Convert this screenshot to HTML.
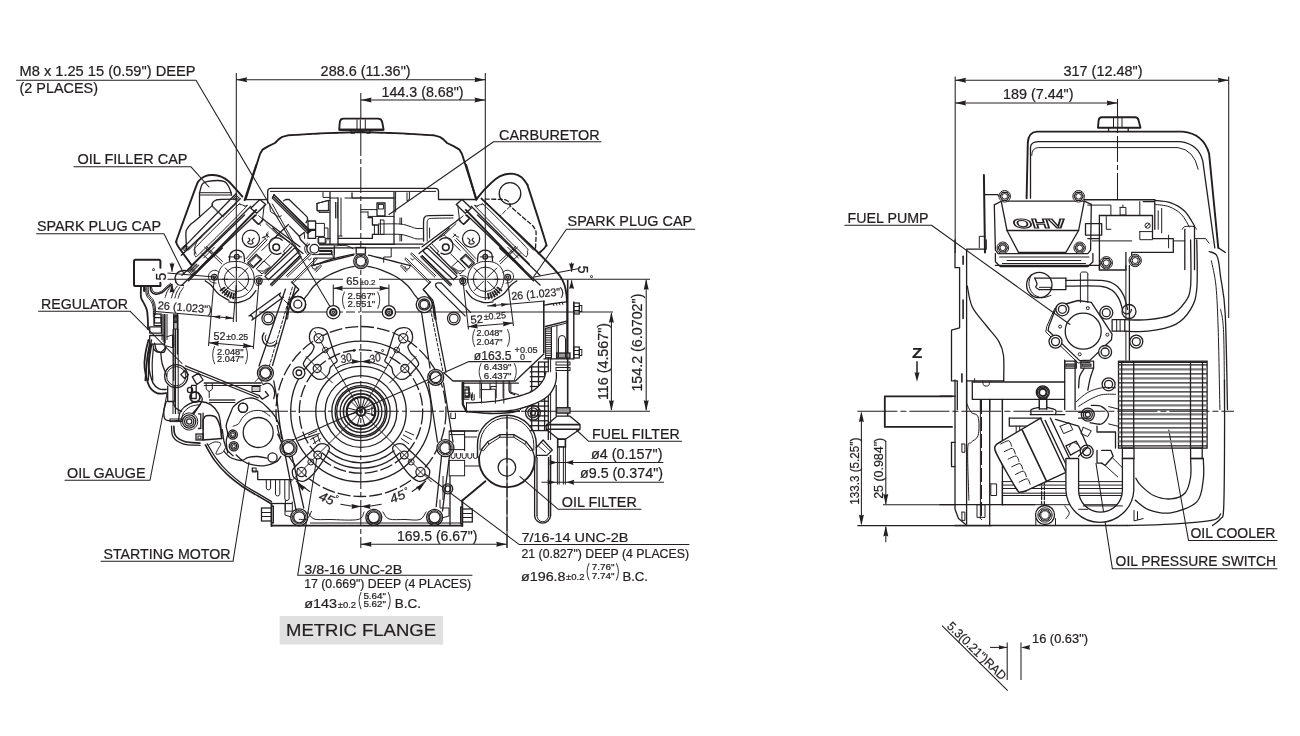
<!DOCTYPE html>
<html><head><meta charset="utf-8"><title>Engine dimensions</title>
<style>
html,body{margin:0;padding:0;background:#fff;}
body{width:1300px;height:736px;overflow:hidden;font-family:"Liberation Sans",sans-serif;}
svg{display:block;font-family:"Liberation Sans",sans-serif;opacity:0.999;will-change:transform;}
</style></head><body>
<svg width="1300" height="736" viewBox="0 0 1300 736">
<rect width="1300" height="736" fill="#fff"/>
<text x="19.5" y="76.0" font-size="13.9" textLength="176.0" lengthAdjust="spacingAndGlyphs" fill="#231f20" stroke="#231f20" stroke-width="0.22">M8 x 1.25 15 (0.59") DEEP</text>
<text x="19.5" y="93.0" font-size="13.9" textLength="78.5" lengthAdjust="spacingAndGlyphs" fill="#231f20" stroke="#231f20" stroke-width="0.22">(2 PLACES)</text>
<polyline points="16.5,80.3 196.0,80.3 332.0,310.0" fill="none" stroke="#231f20" stroke-width="1.05" stroke-linejoin="round" stroke-linecap="round"/>
<text x="77.5" y="164.3" font-size="13.9" textLength="110.0" lengthAdjust="spacingAndGlyphs" fill="#231f20" stroke="#231f20" stroke-width="0.22">OIL FILLER CAP</text>
<polyline points="74.0,166.8 191.0,166.8 209.0,187.0" fill="none" stroke="#231f20" stroke-width="1.05" stroke-linejoin="round" stroke-linecap="round"/>
<text x="37.0" y="231.2" font-size="13.9" textLength="124.0" lengthAdjust="spacingAndGlyphs" fill="#231f20" stroke="#231f20" stroke-width="0.22">SPARK PLUG CAP</text>
<polyline points="36.6,233.8 164.0,233.8 184.0,274.0" fill="none" stroke="#231f20" stroke-width="1.05" stroke-linejoin="round" stroke-linecap="round"/>
<text x="41.0" y="309.2" font-size="13.9" textLength="87.0" lengthAdjust="spacingAndGlyphs" fill="#231f20" stroke="#231f20" stroke-width="0.22">REGULATOR</text>
<polyline points="38.6,311.2 130.0,311.2 182.0,363.5" fill="none" stroke="#231f20" stroke-width="1.05" stroke-linejoin="round" stroke-linecap="round"/>
<text x="67.0" y="477.5" font-size="13.9" textLength="78.5" lengthAdjust="spacingAndGlyphs" fill="#231f20" stroke="#231f20" stroke-width="0.22">OIL GAUGE</text>
<polyline points="65.0,480.2 150.0,480.2 167.3,392.0" fill="none" stroke="#231f20" stroke-width="1.05" stroke-linejoin="round" stroke-linecap="round"/>
<text x="103.5" y="558.5" font-size="13.9" textLength="127.0" lengthAdjust="spacingAndGlyphs" fill="#231f20" stroke="#231f20" stroke-width="0.22">STARTING MOTOR</text>
<polyline points="101.0,561.3 233.0,561.3 249.0,462.0" fill="none" stroke="#231f20" stroke-width="1.05" stroke-linejoin="round" stroke-linecap="round"/>
<text x="499.0" y="140.0" font-size="13.9" textLength="100.6" lengthAdjust="spacingAndGlyphs" fill="#231f20" stroke="#231f20" stroke-width="0.22">CARBURETOR</text>
<polyline points="601.0,141.8 493.6,141.8 389.0,214.5" fill="none" stroke="#231f20" stroke-width="1.05" stroke-linejoin="round" stroke-linecap="round"/>
<text x="567.6" y="226.2" font-size="13.9" textLength="124.5" lengthAdjust="spacingAndGlyphs" fill="#231f20" stroke="#231f20" stroke-width="0.22">SPARK PLUG CAP</text>
<polyline points="694.7,229.3 566.4,229.3 533.8,276.5" fill="none" stroke="#231f20" stroke-width="1.05" stroke-linejoin="round" stroke-linecap="round"/>
<text x="592.0" y="439.3" font-size="13.9" textLength="87.7" lengthAdjust="spacingAndGlyphs" fill="#231f20" stroke="#231f20" stroke-width="0.22">FUEL FILTER</text>
<polyline points="681.6,441.3 588.7,441.3 576.5,430.0" fill="none" stroke="#231f20" stroke-width="1.05" stroke-linejoin="round" stroke-linecap="round"/>
<text x="591.0" y="458.7" font-size="13.9" textLength="71.5" lengthAdjust="spacingAndGlyphs" fill="#231f20" stroke="#231f20" stroke-width="0.22">ø4 (0.157")</text>
<line x1="549.6" y1="462.4" x2="663.3" y2="462.4" stroke="#231f20" stroke-width="1.05" />
<text x="580.0" y="477.8" font-size="13.9" textLength="83.0" lengthAdjust="spacingAndGlyphs" fill="#231f20" stroke="#231f20" stroke-width="0.22">ø9.5 (0.374")</text>
<line x1="541.5" y1="482.2" x2="664.0" y2="482.2" stroke="#231f20" stroke-width="1.05" />
<text x="561.8" y="507.0" font-size="13.9" textLength="75.0" lengthAdjust="spacingAndGlyphs" fill="#231f20" stroke="#231f20" stroke-width="0.22">OIL FILTER</text>
<polyline points="641.0,509.2 558.0,509.2 520.0,476.6" fill="none" stroke="#231f20" stroke-width="1.05" stroke-linejoin="round" stroke-linecap="round"/>
<text x="521.5" y="542.4" font-size="13.4" textLength="107.0" lengthAdjust="spacingAndGlyphs" fill="#231f20" stroke="#231f20" stroke-width="0.22">7/16-14 UNC-2B</text>
<polyline points="689.0,544.4 519.0,544.4 421.0,471.0" fill="none" stroke="#231f20" stroke-width="1.05" stroke-linejoin="round" stroke-linecap="round"/>
<text x="521.5" y="557.8" font-size="12.8" textLength="167.5" lengthAdjust="spacingAndGlyphs" fill="#231f20" stroke="#231f20" stroke-width="0.22">21 (0.827") DEEP (4 PLACES)</text>
<text x="304.2" y="573.6" font-size="13.4" textLength="98.2" lengthAdjust="spacingAndGlyphs" fill="#231f20" stroke="#231f20" stroke-width="0.22">3/8-16 UNC-2B</text>
<polyline points="472.0,575.2 297.7,575.2 317.0,457.0" fill="none" stroke="#231f20" stroke-width="1.05" stroke-linejoin="round" stroke-linecap="round"/>
<text x="304.2" y="588.4" font-size="12.8" textLength="167.0" lengthAdjust="spacingAndGlyphs" fill="#231f20" stroke="#231f20" stroke-width="0.22">17 (0.669") DEEP (4 PLACES)</text>
<text x="521.0" y="580.5" font-size="13.6" textLength="44.5" lengthAdjust="spacingAndGlyphs" fill="#231f20" stroke="#231f20" stroke-width="0.22">ø196.8</text>
<text x="566.0" y="580.2" font-size="8.4" textLength="18.5" lengthAdjust="spacingAndGlyphs" fill="#231f20" stroke="#231f20" stroke-width="0.22">±0.2</text>
<text x="591.7" y="570.2" font-size="8.2" textLength="22.7" lengthAdjust="spacingAndGlyphs" fill="#231f20" stroke="#231f20" stroke-width="0.22">7.76"</text>
<text x="591.7" y="578.6" font-size="8.2" textLength="22.7" lengthAdjust="spacingAndGlyphs" fill="#231f20" stroke="#231f20" stroke-width="0.22">7.74"</text>
<path d="M589,563.5 Q585,571.5 589,580" fill="none" stroke="#231f20" stroke-width="0.9" stroke-linejoin="round" stroke-linecap="round" />
<path d="M616.5,563.5 Q620.5,571.5 616.5,580" fill="none" stroke="#231f20" stroke-width="0.9" stroke-linejoin="round" stroke-linecap="round" />
<text x="622.4" y="580.5" font-size="13.6" textLength="25.6" lengthAdjust="spacingAndGlyphs" fill="#231f20" stroke="#231f20" stroke-width="0.22">B.C.</text>
<text x="304.2" y="608.4" font-size="13.6" textLength="32.8" lengthAdjust="spacingAndGlyphs" fill="#231f20" stroke="#231f20" stroke-width="0.22">ø143</text>
<text x="337.8" y="607.6" font-size="8.4" textLength="18.2" lengthAdjust="spacingAndGlyphs" fill="#231f20" stroke="#231f20" stroke-width="0.22">±0.2</text>
<text x="363.4" y="599.3" font-size="8.2" textLength="22.5" lengthAdjust="spacingAndGlyphs" fill="#231f20" stroke="#231f20" stroke-width="0.22">5.64"</text>
<text x="363.4" y="607.3" font-size="8.2" textLength="22.5" lengthAdjust="spacingAndGlyphs" fill="#231f20" stroke="#231f20" stroke-width="0.22">5.62"</text>
<path d="M361,592.3 Q357,600.5 361,609" fill="none" stroke="#231f20" stroke-width="0.9" stroke-linejoin="round" stroke-linecap="round" />
<path d="M388.3,592.3 Q392.3,600.5 388.3,609" fill="none" stroke="#231f20" stroke-width="0.9" stroke-linejoin="round" stroke-linecap="round" />
<text x="394.7" y="608.4" font-size="13.6" textLength="26.2" lengthAdjust="spacingAndGlyphs" fill="#231f20" stroke="#231f20" stroke-width="0.22">B.C.</text>
<rect x="279.6" y="616.0" width="163.5" height="28.5" rx="0" fill="#e0e0e0" stroke="none" stroke-width="0" />
<text x="286.0" y="636.2" font-size="17.2" textLength="150.0" lengthAdjust="spacingAndGlyphs" fill="#231f20" stroke="#231f20" stroke-width="0.22">METRIC FLANGE</text>
<line x1="236.3" y1="73.0" x2="236.3" y2="322.0" stroke="#231f20" stroke-width="1.05" />
<line x1="485.3" y1="73.0" x2="485.3" y2="300.0" stroke="#231f20" stroke-width="1.05" />
<line x1="236.3" y1="79.7" x2="485.3" y2="79.7" stroke="#231f20" stroke-width="1.05" />
<polygon points="236.3,79.7 247.1,77.2 246.3,79.7 247.1,82.2" fill="#231f20"/>
<polygon points="485.3,79.7 474.5,82.2 475.3,79.7 474.5,77.2" fill="#231f20"/>
<text x="320.6" y="75.9" font-size="13.9" textLength="90.0" lengthAdjust="spacingAndGlyphs" fill="#231f20" stroke="#231f20" stroke-width="0.22">288.6 (11.36")</text>
<line x1="360.8" y1="99.9" x2="485.3" y2="99.9" stroke="#231f20" stroke-width="1.05" />
<polygon points="360.8,99.9 371.6,97.4 370.8,99.9 371.6,102.4" fill="#231f20"/>
<polygon points="485.3,99.9 474.5,102.4 475.3,99.9 474.5,97.4" fill="#231f20"/>
<text x="381.5" y="97.0" font-size="13.9" textLength="82.0" lengthAdjust="spacingAndGlyphs" fill="#231f20" stroke="#231f20" stroke-width="0.22">144.3 (8.68")</text>
<line x1="360.8" y1="93.0" x2="360.8" y2="548.0" stroke="#231f20" stroke-width="1.05" stroke-dasharray="26 3 5 3" />
<line x1="507.0" y1="415.0" x2="507.0" y2="548.0" stroke="#231f20" stroke-width="1.05" />
<line x1="360.8" y1="544.3" x2="507.0" y2="544.3" stroke="#231f20" stroke-width="1.05" />
<polygon points="360.8,544.3 371.6,541.8 370.8,544.3 371.6,546.8" fill="#231f20"/>
<polygon points="507.0,544.3 496.2,546.8 497.0,544.3 496.2,541.8" fill="#231f20"/>
<text x="397.0" y="540.6" font-size="13.9" textLength="80.5" lengthAdjust="spacingAndGlyphs" fill="#231f20" stroke="#231f20" stroke-width="0.22">169.5 (6.67")</text>
<line x1="333.3" y1="284.5" x2="333.3" y2="318.0" stroke="#231f20" stroke-width="1.05" />
<line x1="388.9" y1="284.5" x2="388.9" y2="318.0" stroke="#231f20" stroke-width="1.05" />
<line x1="333.3" y1="288.2" x2="388.9" y2="288.2" stroke="#231f20" stroke-width="1.05" />
<polygon points="333.3,288.2 342.8,285.7 342.1,288.2 342.8,290.7" fill="#231f20"/>
<polygon points="388.9,288.2 379.4,290.7 380.1,288.2 379.4,285.7" fill="#231f20"/>
<text x="346.2" y="284.6" font-size="11" textLength="12.4" lengthAdjust="spacingAndGlyphs" fill="#231f20" stroke="#231f20" stroke-width="0.22">65</text>
<text x="360.0" y="284.6" font-size="7.2" textLength="15.4" lengthAdjust="spacingAndGlyphs" fill="#231f20" stroke="#231f20" stroke-width="0.22">±0.2</text>
<text x="347.6" y="298.7" font-size="8.6" textLength="27.6" lengthAdjust="spacingAndGlyphs" fill="#231f20" stroke="#231f20" stroke-width="0.22">2.567"</text>
<text x="347.6" y="307.4" font-size="8.6" textLength="27.6" lengthAdjust="spacingAndGlyphs" fill="#231f20" stroke="#231f20" stroke-width="0.22">2.551"</text>
<path d="M344.4,292 Q340.4,300 344.4,308.4" fill="none" stroke="#231f20" stroke-width="0.9" stroke-linejoin="round" stroke-linecap="round" />
<path d="M377.8,292 Q381.8,300 377.8,308.4" fill="none" stroke="#231f20" stroke-width="0.9" stroke-linejoin="round" stroke-linecap="round" />
<line x1="214.4" y1="276.7" x2="208.5" y2="346.0" stroke="#231f20" stroke-width="1.05" />
<line x1="259.0" y1="280.3" x2="253.3" y2="349.0" stroke="#231f20" stroke-width="1.05" />
<line x1="208.8" y1="342.7" x2="253.0" y2="346.4" stroke="#231f20" stroke-width="1.05" />
<polygon points="208.8,342.7 219.0,341.0 218.1,343.5 218.6,346.0" fill="#231f20"/>
<polygon points="253.0,346.4 242.8,348.1 243.7,345.6 243.2,343.1" fill="#231f20"/>
<text x="213.6" y="340.0" font-size="11.5" textLength="12.0" lengthAdjust="spacingAndGlyphs" fill="#231f20" stroke="#231f20" stroke-width="0.22">52</text>
<text x="226.2" y="340.0" font-size="9.3" textLength="22.0" lengthAdjust="spacingAndGlyphs" fill="#231f20" stroke="#231f20" stroke-width="0.22">±0.25</text>
<text x="217.0" y="354.6" font-size="8.6" textLength="26.6" lengthAdjust="spacingAndGlyphs" fill="#231f20" stroke="#231f20" stroke-width="0.22">2.048"</text>
<text x="217.0" y="362.4" font-size="8.6" textLength="26.6" lengthAdjust="spacingAndGlyphs" fill="#231f20" stroke="#231f20" stroke-width="0.22">2.047"</text>
<path d="M214.6,346.3 Q210.6,355 214.6,363.8" fill="none" stroke="#231f20" stroke-width="0.9" stroke-linejoin="round" stroke-linecap="round" />
<path d="M245.6,346.3 Q249.6,355 245.6,363.8" fill="none" stroke="#231f20" stroke-width="0.9" stroke-linejoin="round" stroke-linecap="round" />
<text x="157.5" y="309.0" font-size="11.2" textLength="54.0" lengthAdjust="spacingAndGlyphs" transform="rotate(4.8 157.5 309.0)" fill="#231f20" stroke="#231f20" stroke-width="0.22">26 (1.023")</text>
<line x1="155.7" y1="311.4" x2="233.3" y2="318.3" stroke="#231f20" stroke-width="1.05" />
<line x1="236.3" y1="285.0" x2="233.2" y2="322.0" stroke="#231f20" stroke-width="1.05" />
<polygon points="212.5,316.5 220.6,315.3 219.9,317.1 220.3,319.1" fill="#231f20"/>
<polygon points="233.3,318.3 225.2,319.5 225.9,317.7 225.5,315.7" fill="#231f20"/>
<line x1="167.5" y1="273.0" x2="214.3" y2="277.0" stroke="#231f20" stroke-width="1.05" />
<text x="166.0" y="280.5" font-size="13.9" transform="rotate(-90 166.0 280.5)" fill="#231f20" stroke="#231f20" stroke-width="0.22">5</text>
<text x="158.5" y="271.5" font-size="9" transform="rotate(-90 158.5 271.5)" fill="#231f20" stroke="#231f20" stroke-width="0.22">°</text>
<line x1="172.0" y1="262.5" x2="172.0" y2="271.8" stroke="#231f20" stroke-width="1.05" />
<polygon points="172.0,271.8 169.5,263.3 172.0,263.9 174.5,263.3" fill="#231f20"/>
<line x1="172.0" y1="284.0" x2="172.0" y2="290.0" stroke="#231f20" stroke-width="1.05" />
<polygon points="172.0,284.0 174.5,292.5 172.0,291.9 169.5,292.5" fill="#231f20"/>
<line x1="462.5" y1="276.7" x2="468.5" y2="329.5" stroke="#231f20" stroke-width="1.05" />
<line x1="507.5" y1="280.3" x2="513.5" y2="326.0" stroke="#231f20" stroke-width="1.05" />
<line x1="467.7" y1="326.8" x2="512.9" y2="323.1" stroke="#231f20" stroke-width="1.05" />
<polygon points="467.7,326.8 477.5,323.5 477.0,326.0 477.9,328.5" fill="#231f20"/>
<polygon points="512.9,323.1 503.1,326.4 503.6,323.9 502.7,321.4" fill="#231f20"/>
<text x="470.8" y="323.7" font-size="11.3" textLength="12.4" lengthAdjust="spacingAndGlyphs" transform="rotate(-4.7 470.8 323.7)" fill="#231f20" stroke="#231f20" stroke-width="0.22">52</text>
<text x="483.9" y="320.0" font-size="9" textLength="22.4" lengthAdjust="spacingAndGlyphs" transform="rotate(-4.7 483.9 320.0)" fill="#231f20" stroke="#231f20" stroke-width="0.22">±0.25</text>
<text x="476.6" y="336.0" font-size="8.6" textLength="26.0" lengthAdjust="spacingAndGlyphs" fill="#231f20" stroke="#231f20" stroke-width="0.22">2.048"</text>
<text x="476.6" y="345.0" font-size="8.6" textLength="26.0" lengthAdjust="spacingAndGlyphs" fill="#231f20" stroke="#231f20" stroke-width="0.22">2.047"</text>
<path d="M474.6,329.6 Q470.6,338 474.6,346.5" fill="none" stroke="#231f20" stroke-width="0.9" stroke-linejoin="round" stroke-linecap="round" />
<path d="M507.6,329.6 Q511.6,338 507.6,346.5" fill="none" stroke="#231f20" stroke-width="0.9" stroke-linejoin="round" stroke-linecap="round" />
<text x="511.7" y="300.0" font-size="11.2" textLength="52.5" lengthAdjust="spacingAndGlyphs" transform="rotate(-5.2 511.7 300.0)" fill="#231f20" stroke="#231f20" stroke-width="0.22">26 (1.023")</text>
<line x1="487.2" y1="306.0" x2="544.7" y2="301.0" stroke="#231f20" stroke-width="1.05" />
<polygon points="488.3,305.9 496.1,303.3 495.7,305.3 496.4,307.1" fill="#231f20"/>
<polygon points="509.0,304.1 501.2,306.7 501.6,304.7 500.9,302.9" fill="#231f20"/>
<text x="577.8" y="265.7" font-size="13.9" transform="rotate(90 577.8 265.7)" fill="#231f20" stroke="#231f20" stroke-width="0.22">5</text>
<text x="585.5" y="274.8" font-size="9" transform="rotate(90 585.5 274.8)" fill="#231f20" stroke="#231f20" stroke-width="0.22">°</text>
<line x1="571.6" y1="262.5" x2="571.6" y2="271.8" stroke="#231f20" stroke-width="1.05" />
<polygon points="571.6,271.8 569.1,263.3 571.6,263.9 574.1,263.3" fill="#231f20"/>
<line x1="571.6" y1="280.3" x2="571.6" y2="288.0" stroke="#231f20" stroke-width="1.05" />
<polygon points="571.6,280.3 574.1,288.8 571.6,288.2 569.1,288.8" fill="#231f20"/>
<line x1="533.0" y1="277.2" x2="578.0" y2="268.8" stroke="#231f20" stroke-width="1.05" />
<line x1="167.5" y1="279.2" x2="343.0" y2="279.2" stroke="#231f20" stroke-width="1.05" />
<line x1="379.0" y1="279.2" x2="650.0" y2="279.2" stroke="#231f20" stroke-width="1.05" />
<line x1="259.0" y1="312.0" x2="322.0" y2="312.0" stroke="#231f20" stroke-width="1.05" />
<line x1="322.0" y1="312.0" x2="360.0" y2="312.0" stroke="#231f20" stroke-width="1.05" stroke-dasharray="9 3" />
<line x1="362.0" y1="312.0" x2="613.0" y2="312.0" stroke="#231f20" stroke-width="1.05" />
<line x1="262.0" y1="411.3" x2="548.0" y2="411.3" stroke="#231f20" stroke-width="1.05" stroke-dasharray="26 3 5 3" />
<line x1="548.0" y1="411.3" x2="650.0" y2="411.3" stroke="#231f20" stroke-width="1.05" />
<line x1="611.4" y1="313.3" x2="611.4" y2="410.0" stroke="#231f20" stroke-width="1.05" />
<polygon points="611.4,312.0 613.9,322.8 611.4,322.0 608.9,322.8" fill="#231f20"/>
<polygon points="611.4,411.0 608.9,400.2 611.4,401.0 613.9,400.2" fill="#231f20"/>
<text x="608.3" y="400.0" font-size="13.9" textLength="77.0" lengthAdjust="spacingAndGlyphs" transform="rotate(-90 608.3 400.0)" fill="#231f20" stroke="#231f20" stroke-width="0.22">116 (4.567")</text>
<line x1="646.2" y1="280.3" x2="646.2" y2="410.0" stroke="#231f20" stroke-width="1.05" />
<polygon points="646.2,279.0 648.7,289.8 646.2,289.0 643.7,289.8" fill="#231f20"/>
<polygon points="646.2,411.0 643.7,400.2 646.2,401.0 648.7,400.2" fill="#231f20"/>
<text x="642.5" y="391.6" font-size="13.9" textLength="98.0" lengthAdjust="spacingAndGlyphs" transform="rotate(-90 642.5 391.6)" fill="#231f20" stroke="#231f20" stroke-width="0.22">154.2 (6.0702")</text>
<text x="473.8" y="359.6" font-size="13" textLength="37.7" lengthAdjust="spacingAndGlyphs" fill="#231f20" stroke="#231f20" stroke-width="0.22">ø163.5</text>
<text x="514.6" y="352.8" font-size="9" textLength="23.0" lengthAdjust="spacingAndGlyphs" fill="#231f20" stroke="#231f20" stroke-width="0.22">+0.05</text>
<text x="520.0" y="360.4" font-size="9" fill="#231f20" stroke="#231f20" stroke-width="0.22">0</text>
<polyline points="531.2,361.6 469.0,361.6 296.1,438.5" fill="none" stroke="#231f20" stroke-width="1.05" stroke-linejoin="round" stroke-linecap="round"/>
<polygon points="425.9,383.6 434.0,377.2 434.4,379.8 436.1,381.8" fill="#231f20"/>
<polygon points="296.1,438.5 288.0,444.9 287.6,442.3 285.9,440.3" fill="#231f20"/>
<text x="483.8" y="370.4" font-size="8.8" textLength="27.7" lengthAdjust="spacingAndGlyphs" fill="#231f20" stroke="#231f20" stroke-width="0.22">6.439"</text>
<text x="483.8" y="378.8" font-size="8.8" textLength="27.7" lengthAdjust="spacingAndGlyphs" fill="#231f20" stroke="#231f20" stroke-width="0.22">6.437"</text>
<path d="M481,363.5 Q477,371.5 481,379.8" fill="none" stroke="#231f20" stroke-width="0.9" stroke-linejoin="round" stroke-linecap="round" />
<path d="M514.4,363.5 Q518.4,371.5 514.4,379.8" fill="none" stroke="#231f20" stroke-width="0.9" stroke-linejoin="round" stroke-linecap="round" />
<path d="M336.0,368.2 A50,50 0 0 1 386.0,368.2" fill="none" stroke="#231f20" stroke-width="1.05" stroke-linejoin="round" stroke-linecap="round" />
<polygon points="361.0,361.5 351.5,364.0 352.2,361.5 351.5,359.0" fill="#231f20"/>
<polygon points="361.0,361.5 370.5,359.0 369.8,361.5 370.5,364.0" fill="#231f20"/>
<text x="341.5" y="363.5" font-size="11.5" textLength="11.5" lengthAdjust="spacingAndGlyphs" transform="rotate(-16 341.5 363.5)" style="font-style:italic" fill="#231f20" stroke="#231f20" stroke-width="0.22">30</text>
<text x="352.5" y="354.5" font-size="8" fill="#231f20" stroke="#231f20" stroke-width="0.22">°</text>
<text x="370.5" y="363.5" font-size="11.5" textLength="11.5" lengthAdjust="spacingAndGlyphs" transform="rotate(-16 370.5 363.5)" style="font-style:italic" fill="#231f20" stroke="#231f20" stroke-width="0.22">30</text>
<text x="381.0" y="354.5" font-size="8" fill="#231f20" stroke="#231f20" stroke-width="0.22">°</text>
<path d="M425.8,481.0 A95,95 0 0 1 412.2,491.5" fill="none" stroke="#231f20" stroke-width="1.05" stroke-linejoin="round" stroke-linecap="round" />
<path d="M381.2,504.3 A95,95 0 0 1 340.8,504.3" fill="none" stroke="#231f20" stroke-width="1.05" stroke-linejoin="round" stroke-linecap="round" />
<path d="M309.8,491.5 A95,95 0 0 1 296.2,481.0" fill="none" stroke="#231f20" stroke-width="1.05" stroke-linejoin="round" stroke-linecap="round" />
<polygon points="361.0,506.5 351.5,509.0 352.2,506.5 351.5,504.0" fill="#231f20"/>
<polygon points="361.0,506.5 370.5,504.0 369.8,506.5 370.5,509.0" fill="#231f20"/>
<polygon points="296.7,482.5 305.8,487.3 303.6,488.7 302.5,491.0" fill="#231f20"/>
<polygon points="425.0,482.5 419.2,491.0 418.1,488.7 415.9,487.3" fill="#231f20"/>
<text x="317.9" y="499.6" font-size="12.8" textLength="15.5" lengthAdjust="spacingAndGlyphs" transform="rotate(22 317.9 499.6)" style="font-style:italic" fill="#231f20" stroke="#231f20" stroke-width="0.22">45</text>
<text x="335.6" y="501.5" font-size="9" fill="#231f20" stroke="#231f20" stroke-width="0.22">°</text>
<text x="392.1" y="503.8" font-size="12.8" textLength="15.5" lengthAdjust="spacingAndGlyphs" transform="rotate(-23.5 392.1 503.8)" style="font-style:italic" fill="#231f20" stroke="#231f20" stroke-width="0.22">45</text>
<text x="404.0" y="493.5" font-size="9" fill="#231f20" stroke="#231f20" stroke-width="0.22">°</text>
<line x1="955.2" y1="76.5" x2="955.2" y2="253.0" stroke="#231f20" stroke-width="1.05" />
<line x1="1228.7" y1="76.5" x2="1228.7" y2="318.0" stroke="#231f20" stroke-width="1.05" />
<line x1="955.2" y1="80.2" x2="1228.7" y2="80.2" stroke="#231f20" stroke-width="1.05" />
<polygon points="955.2,80.2 966.0,77.7 965.2,80.2 966.0,82.7" fill="#231f20"/>
<polygon points="1228.7,80.2 1217.9,82.7 1218.7,80.2 1217.9,77.7" fill="#231f20"/>
<text x="1063.5" y="76.3" font-size="13.9" textLength="79.0" lengthAdjust="spacingAndGlyphs" fill="#231f20" stroke="#231f20" stroke-width="0.22">317 (12.48")</text>
<line x1="955.2" y1="103.0" x2="1117.5" y2="103.0" stroke="#231f20" stroke-width="1.05" />
<polygon points="955.2,103.0 966.0,100.5 965.2,103.0 966.0,105.5" fill="#231f20"/>
<polygon points="1117.5,103.0 1106.7,105.5 1107.5,103.0 1106.7,100.5" fill="#231f20"/>
<text x="1003.0" y="98.9" font-size="13.9" textLength="70.5" lengthAdjust="spacingAndGlyphs" fill="#231f20" stroke="#231f20" stroke-width="0.22">189 (7.44")</text>
<line x1="1117.5" y1="99.0" x2="1117.5" y2="202.0" stroke="#231f20" stroke-width="1.05" stroke-dasharray="26 3 5 3" />
<text x="847.6" y="222.5" font-size="13.9" textLength="81.0" lengthAdjust="spacingAndGlyphs" fill="#231f20" stroke="#231f20" stroke-width="0.22">FUEL PUMP</text>
<polyline points="844.8,225.3 931.5,225.3 1070.0,324.5" fill="none" stroke="#231f20" stroke-width="1.05" stroke-linejoin="round" stroke-linecap="round"/>
<text x="911.9" y="358.2" font-size="15.5" textLength="10.3" lengthAdjust="spacingAndGlyphs" font-weight="bold" fill="#231f20" stroke="#231f20" stroke-width="0.22">Z</text>
<line x1="917.0" y1="361.2" x2="917.0" y2="376.0" stroke="#231f20" stroke-width="1.5" />
<polygon points="917.0,381.8 914.5,372.3 917.0,373.0 919.5,372.3" fill="#231f20"/>
<line x1="857.4" y1="411.3" x2="1234.0" y2="411.3" stroke="#231f20" stroke-width="1.05" stroke-dasharray="40 3 6 3" />
<line x1="883.0" y1="504.7" x2="956.0" y2="504.7" stroke="#231f20" stroke-width="1.05" />
<line x1="857.4" y1="525.6" x2="991.4" y2="525.6" stroke="#231f20" stroke-width="1.05" />
<line x1="861.4" y1="413.0" x2="861.4" y2="524.0" stroke="#231f20" stroke-width="1.05" />
<polygon points="861.4,411.3 863.9,422.1 861.4,421.3 858.9,422.1" fill="#231f20"/>
<polygon points="861.4,525.6 858.9,514.8 861.4,515.6 863.9,514.8" fill="#231f20"/>
<text x="859.4" y="504.7" font-size="12.6" textLength="67.0" lengthAdjust="spacingAndGlyphs" transform="rotate(-90 859.4 504.7)" fill="#231f20" stroke="#231f20" stroke-width="0.22">133.3 (5.25")</text>
<line x1="885.8" y1="441.0" x2="885.8" y2="504.0" stroke="#231f20" stroke-width="1.05" />
<polygon points="885.8,504.7 883.3,493.9 885.8,494.7 888.3,493.9" fill="#231f20"/>
<line x1="885.8" y1="527.0" x2="885.8" y2="542.2" stroke="#231f20" stroke-width="1.05" />
<polygon points="885.8,525.6 888.3,536.4 885.8,535.6 883.3,536.4" fill="#231f20"/>
<text x="883.0" y="498.8" font-size="12.6" textLength="61.0" lengthAdjust="spacingAndGlyphs" transform="rotate(-90 883.0 498.8)" fill="#231f20" stroke="#231f20" stroke-width="0.22">25 (0.984")</text>
<text x="1190.4" y="538.2" font-size="13.9" textLength="85.0" lengthAdjust="spacingAndGlyphs" fill="#231f20" stroke="#231f20" stroke-width="0.22">OIL COOLER</text>
<polyline points="1277.0,540.4 1188.5,540.4 1168.8,430.0" fill="none" stroke="#231f20" stroke-width="1.05" stroke-linejoin="round" stroke-linecap="round"/>
<text x="1115.6" y="565.8" font-size="13.9" textLength="160.5" lengthAdjust="spacingAndGlyphs" fill="#231f20" stroke="#231f20" stroke-width="0.22">OIL PRESSURE SWITCH</text>
<polyline points="1277.0,568.8 1112.4,568.8 1096.0,463.3" fill="none" stroke="#231f20" stroke-width="1.05" stroke-linejoin="round" stroke-linecap="round"/>
<text x="946.3" y="627.0" font-size="12.4" textLength="77.0" lengthAdjust="spacingAndGlyphs" transform="rotate(44.3 946.3 627.0)" fill="#231f20" stroke="#231f20" stroke-width="0.22">5.3(0.21")RAD</text>
<line x1="942.0" y1="625.6" x2="1007.7" y2="690.6" stroke="#231f20" stroke-width="1.1" />
<line x1="1007.2" y1="642.6" x2="1007.2" y2="680.0" stroke="#231f20" stroke-width="1.05" />
<line x1="1021.0" y1="642.6" x2="1021.0" y2="680.0" stroke="#231f20" stroke-width="1.05" />
<line x1="990.0" y1="647.4" x2="1007.2" y2="647.4" stroke="#231f20" stroke-width="1.05" />
<polygon points="1007.2,647.4 998.7,649.6 999.3,647.4 998.7,645.2" fill="#231f20"/>
<polygon points="1021.0,647.4 1030.0,645.1 1029.4,647.4 1030.0,649.7" fill="#231f20"/>
<text x="1032.0" y="642.6" font-size="12.6" textLength="56.0" lengthAdjust="spacingAndGlyphs" fill="#231f20" stroke="#231f20" stroke-width="0.22">16 (0.63")</text>
<polyline points="245.6,199.4 260.0,154.0 262.6,149.6 268.0,146.4 275.0,143.0 278.6,139.4 282.4,136.8 288.0,135.4 320.0,133.4 360.8,132.0 402.0,133.4 434.0,135.4 439.6,136.8 443.4,139.4 447.0,143.0 454.0,146.4 459.4,149.6 462.0,154.0 476.4,199.4" fill="none" stroke="#231f20" stroke-width="1.9" stroke-linejoin="round" stroke-linecap="round"/>
<polyline points="288.0,135.2 360.8,131.8 434.0,135.2" fill="none" stroke="#231f20" stroke-width="1.0" stroke-linejoin="round" stroke-linecap="round" stroke-dasharray="5 4"/>
<path d="M339.2,129.7 L339.8,122 Q340.2,118.7 343.5,118.6 L378,118.6 Q381.6,118.7 382.2,122 L383.6,129.7 Z" fill="#fff" stroke="#231f20" stroke-width="1.9" stroke-linejoin="round" stroke-linecap="round" />
<line x1="339.2" y1="129.7" x2="383.6" y2="129.7" stroke="#231f20" stroke-width="1.9" />
<polyline points="351.0,130.0 351.0,133.0 354.4,133.0" fill="none" stroke="#231f20" stroke-width="1.3" stroke-linejoin="round" stroke-linecap="round"/>
<polyline points="370.0,130.0 370.0,133.0 366.8,133.0" fill="none" stroke="#231f20" stroke-width="1.3" stroke-linejoin="round" stroke-linecap="round"/>
<line x1="357.0" y1="119.5" x2="357.0" y2="129.0" stroke="#231f20" stroke-width="1.0" />
<line x1="360.3" y1="119.5" x2="360.3" y2="129.0" stroke="#231f20" stroke-width="1.0" />
<line x1="365.3" y1="119.5" x2="365.3" y2="129.0" stroke="#231f20" stroke-width="1.0" />
<path d="M267.7,203 L267.7,191.3 Q267.8,188.4 270.6,188.4 L435.4,188.4 Q438.4,188.4 438.5,191.3 L438.5,199.5 L476.3,199.5" fill="none" stroke="#231f20" stroke-width="1.3" stroke-linejoin="round" stroke-linecap="round" />
<line x1="270.0" y1="191.4" x2="436.0" y2="191.4" stroke="#231f20" stroke-width="1.0" />
<line x1="245.7" y1="199.6" x2="267.7" y2="199.6" stroke="#231f20" stroke-width="1.3" />
<polyline points="323.0,192.4 323.0,197.4 330.0,197.4" fill="none" stroke="#231f20" stroke-width="1.0" stroke-linejoin="round" stroke-linecap="round"/>
<polyline points="330.0,192.4 330.0,244.0" fill="none" stroke="#231f20" stroke-width="1.3" stroke-linejoin="round" stroke-linecap="round"/>
<polyline points="330.0,198.0 338.0,198.0" fill="none" stroke="#231f20" stroke-width="1.0" stroke-linejoin="round" stroke-linecap="round"/>
<polyline points="352.0,192.8 352.0,198.0 394.0,198.0" fill="none" stroke="#231f20" stroke-width="1.3" stroke-linejoin="round" stroke-linecap="round"/>
<polyline points="345.0,198.0 352.0,198.0" fill="none" stroke="#231f20" stroke-width="1.0" stroke-linejoin="round" stroke-linecap="round"/>
<polyline points="338.0,198.0 338.0,244.4" fill="none" stroke="#231f20" stroke-width="1.3" stroke-linejoin="round" stroke-linecap="round"/>
<polyline points="341.0,198.0 341.0,236.0" fill="none" stroke="#231f20" stroke-width="1.0" stroke-linejoin="round" stroke-linecap="round"/>
<polyline points="317.0,203.4 328.4,200.6 330.0,200.6" fill="none" stroke="#231f20" stroke-width="1.0" stroke-linejoin="round" stroke-linecap="round"/>
<polyline points="317.0,203.4 317.0,210.4 329.4,210.4" fill="none" stroke="#231f20" stroke-width="1.0" stroke-linejoin="round" stroke-linecap="round"/>
<polyline points="319.0,210.4 319.0,212.4 329.4,212.4" fill="none" stroke="#231f20" stroke-width="1.0" stroke-linejoin="round" stroke-linecap="round"/>
<polyline points="335.6,202.4 335.6,218.0" fill="none" stroke="#231f20" stroke-width="1.0" stroke-linejoin="round" stroke-linecap="round"/>
<polyline points="337.2,202.4 337.2,218.0" fill="none" stroke="#231f20" stroke-width="1.0" stroke-linejoin="round" stroke-linecap="round"/>
<polyline points="394.0,192.4 394.0,244.4" fill="none" stroke="#231f20" stroke-width="1.3" stroke-linejoin="round" stroke-linecap="round"/>
<polyline points="395.6,192.4 395.6,212.0" fill="none" stroke="#231f20" stroke-width="1.0" stroke-linejoin="round" stroke-linecap="round"/>
<polyline points="407.0,192.8 407.0,201.0 409.4,199.2 409.4,192.4" fill="none" stroke="#231f20" stroke-width="1.0" stroke-linejoin="round" stroke-linecap="round"/>
<polyline points="377.0,203.0 385.0,203.0 385.0,216.0 377.0,216.0 377.0,203.0" fill="none" stroke="#231f20" stroke-width="1.3" stroke-linejoin="round" stroke-linecap="round"/>
<polyline points="378.4,204.4 383.6,204.4 383.6,209.0 378.4,209.0 378.4,204.4" fill="none" stroke="#231f20" stroke-width="1.0" stroke-linejoin="round" stroke-linecap="round"/>
<polyline points="368.0,212.0 368.0,216.4 394.0,216.4" fill="none" stroke="#231f20" stroke-width="1.0" stroke-linejoin="round" stroke-linecap="round"/>
<polyline points="361.0,209.6 377.0,209.6" fill="none" stroke="#231f20" stroke-width="1.0" stroke-linejoin="round" stroke-linecap="round"/>
<polyline points="361.0,212.0 368.0,212.0" fill="none" stroke="#231f20" stroke-width="1.0" stroke-linejoin="round" stroke-linecap="round"/>
<polyline points="368.0,217.6 372.4,217.6 372.4,225.0 378.4,225.0 378.4,234.4 372.4,234.4 372.4,238.4 338.0,238.4" fill="none" stroke="#231f20" stroke-width="1.3" stroke-linejoin="round" stroke-linecap="round"/>
<polyline points="374.4,225.0 374.4,234.4" fill="none" stroke="#231f20" stroke-width="1.0" stroke-linejoin="round" stroke-linecap="round"/>
<polyline points="380.4,220.0 380.4,234.4 384.0,234.4 384.0,220.0 380.4,220.0" fill="none" stroke="#231f20" stroke-width="1.0" stroke-linejoin="round" stroke-linecap="round"/>
<path d="M378.4,224.0 C382.0,224.0 394.7,223.6 400.0,224.0 C405.3,224.4 407.3,225.7 410.0,226.4 C412.7,227.1 413.7,228.1 416.0,228.4 C418.3,228.7 422.3,228.4 423.6,228.4" fill="none" stroke="#231f20" stroke-width="1.0" stroke-linejoin="round" stroke-linecap="round" />
<path d="M378.4,234.4 C382.0,234.4 394.7,234.0 400.0,234.4 C405.3,234.8 407.3,236.1 410.0,236.8 C412.7,237.5 413.7,238.5 416.0,238.8 C418.3,239.1 422.3,238.8 423.6,238.8" fill="none" stroke="#231f20" stroke-width="1.0" stroke-linejoin="round" stroke-linecap="round" />
<polyline points="400.0,218.0 400.0,224.0" fill="none" stroke="#231f20" stroke-width="1.0" stroke-linejoin="round" stroke-linecap="round"/>
<polyline points="401.6,218.0 401.6,224.0" fill="none" stroke="#231f20" stroke-width="1.0" stroke-linejoin="round" stroke-linecap="round"/>
<polyline points="400.0,234.4 400.0,241.0" fill="none" stroke="#231f20" stroke-width="1.0" stroke-linejoin="round" stroke-linecap="round"/>
<polyline points="401.6,234.4 401.6,241.0" fill="none" stroke="#231f20" stroke-width="1.0" stroke-linejoin="round" stroke-linecap="round"/>
<path d="M423.6,241.0 C423.6,237.7 423.4,225.0 423.6,221.0 C423.8,217.0 424.1,217.9 425.0,217.0 C425.9,216.1 424.3,215.9 429.0,215.6 C433.7,215.3 449.0,215.4 453.0,215.4" fill="none" stroke="#231f20" stroke-width="1.3" stroke-linejoin="round" stroke-linecap="round" />
<path d="M427.2,241.0 C427.2,237.9 427.0,226.0 427.2,222.4 C427.4,218.8 427.7,220.3 428.4,219.6 C429.1,218.9 427.5,218.7 431.6,218.4 C435.7,218.1 449.4,218.1 453.0,218.0" fill="none" stroke="#231f20" stroke-width="1.0" stroke-linejoin="round" stroke-linecap="round" />
<polyline points="429.6,228.0 429.6,238.0" fill="none" stroke="#231f20" stroke-width="1.0" stroke-linejoin="round" stroke-linecap="round"/>
<polyline points="308.0,221.0 315.6,221.0 315.6,229.4 308.0,229.4 308.0,221.0" fill="none" stroke="#231f20" stroke-width="1.3" stroke-linejoin="round" stroke-linecap="round"/>
<polyline points="308.0,230.4 315.6,230.4 315.6,238.4 308.0,238.4 308.0,230.4" fill="none" stroke="#231f20" stroke-width="1.3" stroke-linejoin="round" stroke-linecap="round"/>
<polyline points="315.6,223.4 324.4,223.4 324.4,236.4 315.6,236.4" fill="none" stroke="#231f20" stroke-width="1.0" stroke-linejoin="round" stroke-linecap="round"/>
<polyline points="324.4,228.0 328.0,228.0 328.0,240.0" fill="none" stroke="#231f20" stroke-width="1.0" stroke-linejoin="round" stroke-linecap="round"/>
<polyline points="318.0,238.4 318.0,243.0 326.0,243.0 326.0,238.4 330.0,238.4" fill="none" stroke="#231f20" stroke-width="1.0" stroke-linejoin="round" stroke-linecap="round"/>
<polyline points="338.0,244.4 394.0,244.4" fill="none" stroke="#231f20" stroke-width="1.3" stroke-linejoin="round" stroke-linecap="round"/>
<polyline points="338.0,236.0 342.0,236.0" fill="none" stroke="#231f20" stroke-width="1.0" stroke-linejoin="round" stroke-linecap="round"/>
<polyline points="481.5,198.6 539.1,253.5 554.2,269.0" fill="none" stroke="#231f20" stroke-width="1.9" stroke-linejoin="round" stroke-linecap="round"/>
<polyline points="485.2,201.8 533.7,250.3" fill="none" stroke="#231f20" stroke-width="1.0" stroke-linejoin="round" stroke-linecap="round"/>
<path d="M477.2,206.2 C477.8,205.3 480.5,204.4 482.0,204.5 C483.5,204.7 479.3,200.5 486.3,207.2 C493.3,214.0 517.1,237.6 524.0,244.9 C530.9,252.3 527.0,249.6 527.4,251.4 C527.9,253.2 527.8,255.8 526.7,255.9 C525.6,256.0 528.8,260.0 520.8,252.2 C512.7,244.5 485.5,217.1 478.2,209.4 C471.0,201.7 476.5,207.0 477.2,206.2Z" fill="none" stroke="#231f20" stroke-width="1.0" stroke-linejoin="round" stroke-linecap="round" />
<polyline points="471.2,206.2 529.4,264.3" fill="none" stroke="#231f20" stroke-width="1.3" stroke-linejoin="round" stroke-linecap="round"/>
<polyline points="465.8,209.9 522.9,269.0" fill="none" stroke="#231f20" stroke-width="1.9" stroke-linejoin="round" stroke-linecap="round"/>
<polygon points="456.2,204.5 462.1,199.5 471.2,208.3 465.3,213.2" fill="none" stroke="#231f20" stroke-width="1.3" stroke-linejoin="round" stroke-linecap="round"/>
<polyline points="457.8,205.1 459.4,219.1 463.2,215.8" fill="none" stroke="#231f20" stroke-width="1.0" stroke-linejoin="round" stroke-linecap="round"/>
<polyline points="459.4,219.1 462.1,223.4 464.2,224.5 469.1,219.6" fill="none" stroke="#231f20" stroke-width="1.0" stroke-linejoin="round" stroke-linecap="round"/>
<polyline points="500.3,263.8 517.5,247.1" fill="none" stroke="#231f20" stroke-width="1.0" stroke-linejoin="round" stroke-linecap="round"/>
<polyline points="499.8,248.2 514.3,261.6" fill="none" stroke="#231f20" stroke-width="1.4" stroke-linejoin="round" stroke-linecap="round"/>
<polyline points="508.9,254.6 515.4,248.7" fill="none" stroke="#231f20" stroke-width="1.0" stroke-linejoin="round" stroke-linecap="round"/>
<polyline points="514.3,258.9 520.2,253.5" fill="none" stroke="#231f20" stroke-width="1.0" stroke-linejoin="round" stroke-linecap="round"/>
<polyline points="466.8,215.0 540.0,285.0" fill="none" stroke="#231f20" stroke-width="1.3" stroke-linejoin="round" stroke-linecap="round"/>
<polyline points="477.5,215.0 540.0,275.3" fill="none" stroke="#231f20" stroke-width="1.3" stroke-linejoin="round" stroke-linecap="round"/>
<polyline points="500.2,247.3 533.5,280.7" fill="none" stroke="#231f20" stroke-width="1.6" stroke-linejoin="round" stroke-linecap="round"/>
<polyline points="507.7,247.3 518.5,258.1" fill="none" stroke="#231f20" stroke-width="1.0" stroke-linejoin="round" stroke-linecap="round"/>
<circle cx="471.1" cy="238.7" r="8.6" fill="none" stroke="#231f20" stroke-width="1.3"/>
<path d="M467.8,238.2 C468.2,238.5 469.8,239.5 470.0,240.3 C470.2,241.1 468.7,242.4 468.9,243.0 C469.2,243.6 470.7,244.2 471.6,244.1 C472.5,244.0 474.2,243.1 474.3,242.5 C474.4,241.8 472.3,241.0 472.2,240.3 C472.0,239.6 473.0,238.5 473.2,238.2" fill="none" stroke="#231f20" stroke-width="1.2" stroke-linejoin="round" stroke-linecap="round" />
<circle cx="445.8" cy="247.3" r="3.3" fill="none" stroke="#231f20" stroke-width="1.6"/>
<path d="M439.8,240.3 C440.4,239.9 441.6,238.5 443.1,238.2 C444.5,237.8 446.9,237.5 448.5,238.2 C450.0,238.8 451.5,240.4 452.2,241.9 C452.9,243.4 453.0,245.6 452.8,247.3 C452.5,249.0 451.9,251.0 450.6,252.2 C449.4,253.3 446.8,254.1 445.2,254.3 C443.6,254.5 441.6,253.4 440.9,253.2" fill="none" stroke="#231f20" stroke-width="1.3" stroke-linejoin="round" stroke-linecap="round" />
<polyline points="422.1,246.8 456.0,221.5 458.7,219.3" fill="none" stroke="#231f20" stroke-width="1.3" stroke-linejoin="round" stroke-linecap="round"/>
<polyline points="458.7,219.3 460.3,221.5 463.5,224.2 469.5,218.2 465.7,215.0" fill="none" stroke="#231f20" stroke-width="1.3" stroke-linejoin="round" stroke-linecap="round"/>
<polyline points="432.3,241.9 444.2,234.9 460.3,250.5" fill="none" stroke="#231f20" stroke-width="1.0" stroke-linejoin="round" stroke-linecap="round"/>
<polyline points="444.2,234.9 456.0,223.6" fill="none" stroke="#231f20" stroke-width="1.0" stroke-linejoin="round" stroke-linecap="round"/>
<polyline points="454.9,239.8 474.3,260.2" fill="none" stroke="#231f20" stroke-width="1.0" stroke-linejoin="round" stroke-linecap="round"/>
<polyline points="456.5,238.2 475.9,258.6" fill="none" stroke="#231f20" stroke-width="1.0" stroke-linejoin="round" stroke-linecap="round"/>
<polyline points="450.6,253.8 464.6,267.8" fill="none" stroke="#231f20" stroke-width="1.0" stroke-linejoin="round" stroke-linecap="round"/>
<polyline points="452.8,237.1 455.5,234.4" fill="none" stroke="#231f20" stroke-width="1.0" stroke-linejoin="round" stroke-linecap="round"/>
<path d="M453.8,233.8 C454.2,234.2 455.2,235.5 456.0,236.0 C456.8,236.5 458.2,236.9 458.7,237.1" fill="none" stroke="#231f20" stroke-width="1.0" stroke-linejoin="round" stroke-linecap="round" />
<polygon points="460.3,259.2 465.7,254.3 474.3,262.9 468.9,267.8" fill="none" stroke="#231f20" stroke-width="1.3" stroke-linejoin="round" stroke-linecap="round"/>
<polygon points="461.9,259.4 465.7,255.9 472.4,262.9 468.9,266.0" fill="none" stroke="#231f20" stroke-width="1.0" stroke-linejoin="round" stroke-linecap="round"/>
<polygon points="451.7,266.7 458.2,260.8 465.7,268.8 460.3,273.7" fill="none" stroke="#231f20" stroke-width="1.0" stroke-linejoin="round" stroke-linecap="round"/>
<path d="M453.8,267.8 C454.7,268.3 457.1,270.5 458.7,271.0 C460.3,271.4 462.7,270.5 463.5,270.5" fill="none" stroke="#231f20" stroke-width="1.0" stroke-linejoin="round" stroke-linecap="round" />
<polyline points="406.0,272.0 401.0,266.5 400.7,265.6 401.3,265.0 402.2,265.4 407.2,270.8" fill="none" stroke="#231f20" stroke-width="1.0" stroke-linejoin="round" stroke-linecap="round"/>
<polyline points="428.5,282.8 405.2,259.6 404.9,258.7 405.5,258.1 406.4,258.4 429.7,281.6" fill="none" stroke="#231f20" stroke-width="1.0" stroke-linejoin="round" stroke-linecap="round"/>
<polyline points="434.7,277.0 411.1,254.6 410.7,253.7 411.3,253.1 412.2,253.3 435.9,275.8" fill="none" stroke="#231f20" stroke-width="1.0" stroke-linejoin="round" stroke-linecap="round"/>
<polyline points="450.2,285.9 421.2,257.4 420.9,256.6 421.5,256.0 422.2,256.3 451.3,284.8" fill="none" stroke="#231f20" stroke-width="1.2" stroke-linejoin="round" stroke-linecap="round"/>
<polyline points="422.3,255.3 451.9,284.4" fill="none" stroke="#231f20" stroke-width="1.0" stroke-linejoin="round" stroke-linecap="round"/>
<polyline points="423.3,251.6 423.8,250.1 426.0,248.3 427.7,248.1 457.0,276.4 453.5,279.7 423.3,251.6" fill="none" stroke="#231f20" stroke-width="1.3" stroke-linejoin="round" stroke-linecap="round"/>
<polyline points="430.2,246.6 457.0,273.7" fill="none" stroke="#231f20" stroke-width="1.3" stroke-linejoin="round" stroke-linecap="round"/>
<polyline points="432.2,244.3 438.4,251.2" fill="none" stroke="#231f20" stroke-width="1.0" stroke-linejoin="round" stroke-linecap="round"/>
<polyline points="438.4,251.2 437.2,253.6 439.5,254.7" fill="none" stroke="#231f20" stroke-width="1.0" stroke-linejoin="round" stroke-linecap="round"/>
<path d="M405.1,266.7 C405.3,267.1 405.9,268.8 406.6,269.1 C407.3,269.3 408.7,268.9 409.3,268.3 C409.9,267.7 410.0,266.0 410.1,265.6" fill="none" stroke="#231f20" stroke-width="1.0" stroke-linejoin="round" stroke-linecap="round" />
<path d="M410.9,258.2 C411.1,258.5 411.9,260.1 412.4,260.1 C412.9,260.2 413.7,258.9 414.0,258.6" fill="none" stroke="#231f20" stroke-width="1.0" stroke-linejoin="round" stroke-linecap="round" />
<polyline points="419.0,253.6 444.6,232.6 449.2,228.0" fill="none" stroke="#231f20" stroke-width="1.3" stroke-linejoin="round" stroke-linecap="round"/>
<path d="M436.5,287.4 C436.4,286.9 435.3,285.4 435.5,284.7 C435.6,283.9 436.6,283.1 437.6,282.9 C438.6,282.6 440.8,283.0 441.4,283.1" fill="none" stroke="#231f20" stroke-width="1.3" stroke-linejoin="round" stroke-linecap="round" />
<polyline points="436.5,287.4 465.1,315.9" fill="none" stroke="#231f20" stroke-width="1.3" stroke-linejoin="round" stroke-linecap="round"/>
<polyline points="441.4,283.1 470.5,312.4" fill="none" stroke="#231f20" stroke-width="1.3" stroke-linejoin="round" stroke-linecap="round"/>
<polyline points="430.6,282.0 423.1,289.5 432.8,300.3 434.4,306.8 436.0,319.0" fill="none" stroke="#231f20" stroke-width="1.3" stroke-linejoin="round" stroke-linecap="round"/>
<polyline points="424.7,290.6 431.5,300.8 433.0,307.3 434.4,319.0" fill="none" stroke="#231f20" stroke-width="1.0" stroke-linejoin="round" stroke-linecap="round"/>
<circle cx="424.2" cy="304.6" r="8.0" fill="#fff" stroke="#231f20" stroke-width="1.3"/>
<circle cx="424.2" cy="304.6" r="5.6" fill="none" stroke="#231f20" stroke-width="1.3"/>
<circle cx="424.2" cy="304.6" r="4.2" fill="none" stroke="#231f20" stroke-width="1.3"/>
<circle cx="485.5" cy="279.3" r="12.2" fill="none" stroke="#231f20" stroke-width="1.0"/>
<path d="M486.1,261.5 C487.2,261.6 490.8,261.4 493.1,262.1 C495.3,262.8 497.8,264.1 499.5,265.8 C501.2,267.6 502.6,270.1 503.3,272.3 C504.0,274.6 504.1,276.8 503.8,279.3 C503.6,281.8 502.9,285.0 501.7,287.4 C500.4,289.8 498.5,292.1 496.3,293.8 C494.2,295.5 491.3,297.1 488.8,297.6 C486.3,298.2 483.6,297.7 481.2,297.1 C478.9,296.4 476.7,295.4 474.8,293.8 C472.9,292.3 471.1,290.3 469.9,287.9 C468.8,285.5 467.9,282.1 467.8,279.3 C467.7,276.5 468.4,273.6 469.4,271.2 C470.4,268.9 471.9,266.8 473.7,265.3 C475.5,263.8 478.1,262.7 480.2,262.1 C482.2,261.4 485.1,261.6 486.1,261.5" fill="none" stroke="#231f20" stroke-width="1.0" stroke-linejoin="round" stroke-linecap="round" />
<polyline points="487.6,281.4 496.8,290.6" fill="none" stroke="#231f20" stroke-width="1.0" stroke-linejoin="round" stroke-linecap="round"/>
<polyline points="483.4,281.4 474.2,290.6" fill="none" stroke="#231f20" stroke-width="1.0" stroke-linejoin="round" stroke-linecap="round"/>
<polyline points="483.4,277.2 474.2,268.0" fill="none" stroke="#231f20" stroke-width="1.0" stroke-linejoin="round" stroke-linecap="round"/>
<polyline points="487.6,277.2 496.8,268.0" fill="none" stroke="#231f20" stroke-width="1.0" stroke-linejoin="round" stroke-linecap="round"/>
<polyline points="494.5,279.3 499.5,279.3" fill="none" stroke="#231f20" stroke-width="1.0" stroke-linejoin="round" stroke-linecap="round"/>
<polyline points="485.5,288.3 485.5,293.3" fill="none" stroke="#231f20" stroke-width="1.0" stroke-linejoin="round" stroke-linecap="round"/>
<polyline points="476.5,279.3 471.5,279.3" fill="none" stroke="#231f20" stroke-width="1.0" stroke-linejoin="round" stroke-linecap="round"/>
<polyline points="485.5,270.3 485.5,265.3" fill="none" stroke="#231f20" stroke-width="1.0" stroke-linejoin="round" stroke-linecap="round"/>
<polyline points="497.4,287.6 501.5,290.5" fill="none" stroke="#231f20" stroke-width="1.8" stroke-linejoin="round" stroke-linecap="round"/>
<polyline points="495.9,289.4 499.5,292.8" fill="none" stroke="#231f20" stroke-width="1.8" stroke-linejoin="round" stroke-linecap="round"/>
<polyline points="494.2,290.9 497.2,294.9" fill="none" stroke="#231f20" stroke-width="1.8" stroke-linejoin="round" stroke-linecap="round"/>
<polyline points="492.3,292.1 494.7,296.5" fill="none" stroke="#231f20" stroke-width="1.8" stroke-linejoin="round" stroke-linecap="round"/>
<polyline points="490.2,293.0 491.8,297.7" fill="none" stroke="#231f20" stroke-width="1.8" stroke-linejoin="round" stroke-linecap="round"/>
<polyline points="488.0,293.6 488.9,298.5" fill="none" stroke="#231f20" stroke-width="1.8" stroke-linejoin="round" stroke-linecap="round"/>
<path d="M493.1,300.3 C494.9,299.2 500.9,296.4 503.8,293.8 C506.8,291.3 508.7,287.4 510.8,285.2 C513.0,283.1 515.8,281.6 516.8,280.9" fill="none" stroke="#231f20" stroke-width="1.3" stroke-linejoin="round" stroke-linecap="round" />
<path d="M466.2,290.6 C467.2,291.9 469.7,296.2 472.6,298.2 C475.5,300.1 480.0,301.8 483.4,302.5 C486.8,303.1 491.5,302.0 493.1,301.9" fill="none" stroke="#231f20" stroke-width="1.3" stroke-linejoin="round" stroke-linecap="round" />
<path d="M477.5,261.5 C477.6,260.3 477.3,255.9 478.5,254.0 C479.8,252.1 482.8,250.3 485.0,250.2 C487.2,250.1 490.2,251.7 491.5,253.5 C492.7,255.3 492.4,259.7 492.5,261.0" fill="none" stroke="#231f20" stroke-width="1.3" stroke-linejoin="round" stroke-linecap="round" />
<circle cx="485.2" cy="256.7" r="2.4" fill="none" stroke="#231f20" stroke-width="1.3"/>
<polyline points="480.2,256.9 493.6,256.9" fill="none" stroke="#231f20" stroke-width="1.0" stroke-linejoin="round" stroke-linecap="round"/>
<circle cx="462.7" cy="280.8" r="2.9" fill="none" stroke="#231f20" stroke-width="1.2"/>
<circle cx="462.7" cy="280.8" r="1.2" fill="none" stroke="#231f20" stroke-width="1.2"/>
<circle cx="507.7" cy="277.2" r="2.9" fill="none" stroke="#231f20" stroke-width="1.2"/>
<circle cx="507.7" cy="277.2" r="1.2" fill="none" stroke="#231f20" stroke-width="1.2"/>
<path d="M460.2,275.5 C461.2,275.7 464.9,275.7 466.2,276.6 C467.4,277.5 467.9,279.5 467.8,280.9 C467.6,282.4 466.2,284.7 465.1,285.2 C463.9,285.8 461.5,284.3 460.8,284.2" fill="none" stroke="#231f20" stroke-width="1.0" stroke-linejoin="round" stroke-linecap="round" />
<path d="M502.8,272.3 C503.5,271.9 505.5,270.2 507.1,270.2 C508.6,270.2 510.8,271.1 511.9,272.3 C513.0,273.5 513.7,275.5 513.5,277.2 C513.4,278.8 512.1,281.0 510.8,282.0 C509.6,283.0 506.8,282.9 506.0,283.1" fill="none" stroke="#231f20" stroke-width="1.0" stroke-linejoin="round" stroke-linecap="round" />
<polyline points="499.5,261.5 515.7,246.5" fill="none" stroke="#231f20" stroke-width="1.0" stroke-linejoin="round" stroke-linecap="round"/>
<polyline points="240.5,198.6 181.3,255.2" fill="none" stroke="#231f20" stroke-width="1.3" stroke-linejoin="round" stroke-linecap="round"/>
<polyline points="236.8,201.8 188.3,250.3" fill="none" stroke="#231f20" stroke-width="1.0" stroke-linejoin="round" stroke-linecap="round"/>
<path d="M244.8,206.2 C244.2,205.3 241.5,204.4 240.0,204.5 C238.5,204.7 242.7,200.5 235.7,207.2 C228.7,214.0 204.9,237.6 198.0,244.9 C191.1,252.3 195.0,249.6 194.6,251.4 C194.1,253.2 194.2,255.8 195.3,255.9 C196.4,256.0 193.2,260.0 201.2,252.2 C209.3,244.5 236.5,217.1 243.8,209.4 C251.0,201.7 245.5,207.0 244.8,206.2Z" fill="none" stroke="#231f20" stroke-width="1.0" stroke-linejoin="round" stroke-linecap="round" />
<polyline points="250.8,206.2 192.6,264.3" fill="none" stroke="#231f20" stroke-width="1.3" stroke-linejoin="round" stroke-linecap="round"/>
<polyline points="256.2,209.9 199.1,269.0" fill="none" stroke="#231f20" stroke-width="1.9" stroke-linejoin="round" stroke-linecap="round"/>
<polygon points="265.8,204.5 259.9,199.5 250.8,208.3 256.7,213.2" fill="none" stroke="#231f20" stroke-width="1.3" stroke-linejoin="round" stroke-linecap="round"/>
<polyline points="264.2,205.1 262.6,219.1 258.8,215.8" fill="none" stroke="#231f20" stroke-width="1.0" stroke-linejoin="round" stroke-linecap="round"/>
<polyline points="262.6,219.1 259.9,223.4 257.8,224.5 252.9,219.6" fill="none" stroke="#231f20" stroke-width="1.0" stroke-linejoin="round" stroke-linecap="round"/>
<polyline points="221.7,263.8 204.5,247.1" fill="none" stroke="#231f20" stroke-width="1.0" stroke-linejoin="round" stroke-linecap="round"/>
<polyline points="222.2,248.2 207.7,261.6" fill="none" stroke="#231f20" stroke-width="1.4" stroke-linejoin="round" stroke-linecap="round"/>
<polyline points="213.1,254.6 206.6,248.7" fill="none" stroke="#231f20" stroke-width="1.0" stroke-linejoin="round" stroke-linecap="round"/>
<polyline points="207.7,258.9 201.8,253.5" fill="none" stroke="#231f20" stroke-width="1.0" stroke-linejoin="round" stroke-linecap="round"/>
<polyline points="255.2,215.0 182.0,285.0" fill="none" stroke="#231f20" stroke-width="1.3" stroke-linejoin="round" stroke-linecap="round"/>
<polyline points="244.5,215.0 182.0,275.3" fill="none" stroke="#231f20" stroke-width="1.3" stroke-linejoin="round" stroke-linecap="round"/>
<polyline points="221.8,247.3 188.5,280.7" fill="none" stroke="#231f20" stroke-width="1.6" stroke-linejoin="round" stroke-linecap="round"/>
<polyline points="214.3,247.3 203.5,258.1" fill="none" stroke="#231f20" stroke-width="1.0" stroke-linejoin="round" stroke-linecap="round"/>
<circle cx="250.9" cy="238.7" r="8.6" fill="none" stroke="#231f20" stroke-width="1.3"/>
<path d="M254.2,238.2 C253.8,238.5 252.2,239.5 252.0,240.3 C251.8,241.1 253.3,242.4 253.1,243.0 C252.8,243.6 251.3,244.2 250.4,244.1 C249.5,244.0 247.8,243.1 247.7,242.5 C247.6,241.8 249.7,241.0 249.8,240.3 C250.0,239.6 249.0,238.5 248.8,238.2" fill="none" stroke="#231f20" stroke-width="1.2" stroke-linejoin="round" stroke-linecap="round" />
<circle cx="276.2" cy="247.3" r="3.3" fill="none" stroke="#231f20" stroke-width="1.6"/>
<path d="M282.2,240.3 C281.6,239.9 280.4,238.5 278.9,238.2 C277.5,237.8 275.1,237.5 273.5,238.2 C272.0,238.8 270.5,240.4 269.8,241.9 C269.1,243.4 269.0,245.6 269.2,247.3 C269.5,249.0 270.1,251.0 271.4,252.2 C272.6,253.3 275.2,254.1 276.8,254.3 C278.4,254.5 280.4,253.4 281.1,253.2" fill="none" stroke="#231f20" stroke-width="1.3" stroke-linejoin="round" stroke-linecap="round" />
<polyline points="299.9,246.8 266.0,221.5 263.3,219.3" fill="none" stroke="#231f20" stroke-width="1.3" stroke-linejoin="round" stroke-linecap="round"/>
<polyline points="263.3,219.3 261.7,221.5 258.5,224.2 252.5,218.2 256.3,215.0" fill="none" stroke="#231f20" stroke-width="1.3" stroke-linejoin="round" stroke-linecap="round"/>
<polyline points="289.7,241.9 277.8,234.9 261.7,250.5" fill="none" stroke="#231f20" stroke-width="1.0" stroke-linejoin="round" stroke-linecap="round"/>
<polyline points="277.8,234.9 266.0,223.6" fill="none" stroke="#231f20" stroke-width="1.0" stroke-linejoin="round" stroke-linecap="round"/>
<polyline points="267.1,239.8 247.7,260.2" fill="none" stroke="#231f20" stroke-width="1.0" stroke-linejoin="round" stroke-linecap="round"/>
<polyline points="265.5,238.2 246.1,258.6" fill="none" stroke="#231f20" stroke-width="1.0" stroke-linejoin="round" stroke-linecap="round"/>
<polyline points="271.4,253.8 257.4,267.8" fill="none" stroke="#231f20" stroke-width="1.0" stroke-linejoin="round" stroke-linecap="round"/>
<polyline points="269.2,237.1 266.5,234.4" fill="none" stroke="#231f20" stroke-width="1.0" stroke-linejoin="round" stroke-linecap="round"/>
<path d="M268.2,233.8 C267.8,234.2 266.8,235.5 266.0,236.0 C265.2,236.5 263.8,236.9 263.3,237.1" fill="none" stroke="#231f20" stroke-width="1.0" stroke-linejoin="round" stroke-linecap="round" />
<polygon points="261.7,259.2 256.3,254.3 247.7,262.9 253.1,267.8" fill="none" stroke="#231f20" stroke-width="1.3" stroke-linejoin="round" stroke-linecap="round"/>
<polygon points="260.1,259.4 256.3,255.9 249.6,262.9 253.1,266.0" fill="none" stroke="#231f20" stroke-width="1.0" stroke-linejoin="round" stroke-linecap="round"/>
<polygon points="270.3,266.7 263.8,260.8 256.3,268.8 261.7,273.7" fill="none" stroke="#231f20" stroke-width="1.0" stroke-linejoin="round" stroke-linecap="round"/>
<path d="M268.2,267.8 C267.3,268.3 264.9,270.5 263.3,271.0 C261.7,271.4 259.3,270.5 258.5,270.5" fill="none" stroke="#231f20" stroke-width="1.0" stroke-linejoin="round" stroke-linecap="round" />
<polyline points="316.0,272.0 321.0,266.5 321.3,265.6 320.7,265.0 319.8,265.4 314.8,270.8" fill="none" stroke="#231f20" stroke-width="1.0" stroke-linejoin="round" stroke-linecap="round"/>
<polyline points="293.5,282.8 316.8,259.6 317.1,258.7 316.5,258.1 315.6,258.4 292.3,281.6" fill="none" stroke="#231f20" stroke-width="1.0" stroke-linejoin="round" stroke-linecap="round"/>
<polyline points="287.3,277.0 310.9,254.6 311.3,253.7 310.7,253.1 309.8,253.3 286.1,275.8" fill="none" stroke="#231f20" stroke-width="1.0" stroke-linejoin="round" stroke-linecap="round"/>
<polyline points="271.8,285.9 300.8,257.4 301.1,256.6 300.5,256.0 299.8,256.3 270.7,284.8" fill="none" stroke="#231f20" stroke-width="1.2" stroke-linejoin="round" stroke-linecap="round"/>
<polyline points="299.7,255.3 270.1,284.4" fill="none" stroke="#231f20" stroke-width="1.0" stroke-linejoin="round" stroke-linecap="round"/>
<polyline points="298.7,251.6 298.2,250.1 296.0,248.3 294.3,248.1 265.0,276.4 268.5,279.7 298.7,251.6" fill="none" stroke="#231f20" stroke-width="1.3" stroke-linejoin="round" stroke-linecap="round"/>
<polyline points="291.8,246.6 265.0,273.7" fill="none" stroke="#231f20" stroke-width="1.3" stroke-linejoin="round" stroke-linecap="round"/>
<polyline points="289.8,244.3 283.6,251.2" fill="none" stroke="#231f20" stroke-width="1.0" stroke-linejoin="round" stroke-linecap="round"/>
<polyline points="283.6,251.2 284.8,253.6 282.5,254.7" fill="none" stroke="#231f20" stroke-width="1.0" stroke-linejoin="round" stroke-linecap="round"/>
<path d="M316.9,266.7 C316.7,267.1 316.1,268.8 315.4,269.1 C314.7,269.3 313.3,268.9 312.7,268.3 C312.1,267.7 312.0,266.0 311.9,265.6" fill="none" stroke="#231f20" stroke-width="1.0" stroke-linejoin="round" stroke-linecap="round" />
<path d="M311.1,258.2 C310.9,258.5 310.1,260.1 309.6,260.1 C309.1,260.2 308.3,258.9 308.0,258.6" fill="none" stroke="#231f20" stroke-width="1.0" stroke-linejoin="round" stroke-linecap="round" />
<polyline points="303.0,253.6 277.4,232.6 272.8,228.0" fill="none" stroke="#231f20" stroke-width="1.3" stroke-linejoin="round" stroke-linecap="round"/>
<polyline points="291.4,282.0 298.9,289.5 289.2,300.3 287.6,306.8 286.0,319.0" fill="none" stroke="#231f20" stroke-width="1.3" stroke-linejoin="round" stroke-linecap="round"/>
<polyline points="297.3,290.6 290.5,300.8 289.0,307.3 287.6,319.0" fill="none" stroke="#231f20" stroke-width="1.0" stroke-linejoin="round" stroke-linecap="round"/>
<circle cx="297.8" cy="304.6" r="8.0" fill="#fff" stroke="#231f20" stroke-width="1.3"/>
<circle cx="297.8" cy="304.6" r="5.6" fill="none" stroke="#231f20" stroke-width="1.3"/>
<circle cx="297.8" cy="304.6" r="4.2" fill="none" stroke="#231f20" stroke-width="1.3"/>
<circle cx="236.5" cy="279.3" r="12.2" fill="none" stroke="#231f20" stroke-width="1.0"/>
<path d="M235.9,261.5 C234.8,261.6 231.2,261.4 228.9,262.1 C226.7,262.8 224.2,264.1 222.5,265.8 C220.8,267.6 219.4,270.1 218.7,272.3 C218.0,274.6 217.9,276.8 218.2,279.3 C218.4,281.8 219.1,285.0 220.3,287.4 C221.6,289.8 223.5,292.1 225.7,293.8 C227.8,295.5 230.7,297.1 233.2,297.6 C235.7,298.2 238.4,297.7 240.8,297.1 C243.1,296.4 245.3,295.4 247.2,293.8 C249.1,292.3 250.9,290.3 252.1,287.9 C253.2,285.5 254.1,282.1 254.2,279.3 C254.3,276.5 253.6,273.6 252.6,271.2 C251.6,268.9 250.1,266.8 248.3,265.3 C246.5,263.8 243.9,262.7 241.8,262.1 C239.8,261.4 236.9,261.6 235.9,261.5" fill="none" stroke="#231f20" stroke-width="1.0" stroke-linejoin="round" stroke-linecap="round" />
<polyline points="234.4,281.4 225.2,290.6" fill="none" stroke="#231f20" stroke-width="1.0" stroke-linejoin="round" stroke-linecap="round"/>
<polyline points="238.6,281.4 247.8,290.6" fill="none" stroke="#231f20" stroke-width="1.0" stroke-linejoin="round" stroke-linecap="round"/>
<polyline points="238.6,277.2 247.8,268.0" fill="none" stroke="#231f20" stroke-width="1.0" stroke-linejoin="round" stroke-linecap="round"/>
<polyline points="234.4,277.2 225.2,268.0" fill="none" stroke="#231f20" stroke-width="1.0" stroke-linejoin="round" stroke-linecap="round"/>
<polyline points="227.5,279.3 222.5,279.3" fill="none" stroke="#231f20" stroke-width="1.0" stroke-linejoin="round" stroke-linecap="round"/>
<polyline points="236.5,288.3 236.5,293.3" fill="none" stroke="#231f20" stroke-width="1.0" stroke-linejoin="round" stroke-linecap="round"/>
<polyline points="245.5,279.3 250.5,279.3" fill="none" stroke="#231f20" stroke-width="1.0" stroke-linejoin="round" stroke-linecap="round"/>
<polyline points="236.5,270.3 236.5,265.3" fill="none" stroke="#231f20" stroke-width="1.0" stroke-linejoin="round" stroke-linecap="round"/>
<polyline points="224.6,287.6 220.5,290.5" fill="none" stroke="#231f20" stroke-width="1.8" stroke-linejoin="round" stroke-linecap="round"/>
<polyline points="226.1,289.4 222.5,292.8" fill="none" stroke="#231f20" stroke-width="1.8" stroke-linejoin="round" stroke-linecap="round"/>
<polyline points="227.8,290.9 224.8,294.9" fill="none" stroke="#231f20" stroke-width="1.8" stroke-linejoin="round" stroke-linecap="round"/>
<polyline points="229.7,292.1 227.3,296.5" fill="none" stroke="#231f20" stroke-width="1.8" stroke-linejoin="round" stroke-linecap="round"/>
<polyline points="231.8,293.0 230.2,297.7" fill="none" stroke="#231f20" stroke-width="1.8" stroke-linejoin="round" stroke-linecap="round"/>
<polyline points="234.0,293.6 233.1,298.5" fill="none" stroke="#231f20" stroke-width="1.8" stroke-linejoin="round" stroke-linecap="round"/>
<path d="M228.9,300.3 C227.1,299.2 221.1,296.4 218.2,293.8 C215.2,291.3 213.3,287.4 211.2,285.2 C209.0,283.1 206.2,281.6 205.2,280.9" fill="none" stroke="#231f20" stroke-width="1.3" stroke-linejoin="round" stroke-linecap="round" />
<path d="M255.8,290.6 C254.8,291.9 252.3,296.2 249.4,298.2 C246.5,300.1 242.0,301.8 238.6,302.5 C235.2,303.1 230.5,302.0 228.9,301.9" fill="none" stroke="#231f20" stroke-width="1.3" stroke-linejoin="round" stroke-linecap="round" />
<path d="M244.5,261.5 C244.4,260.3 244.7,255.9 243.5,254.0 C242.2,252.1 239.2,250.3 237.0,250.2 C234.8,250.1 231.8,251.7 230.5,253.5 C229.3,255.3 229.6,259.7 229.5,261.0" fill="none" stroke="#231f20" stroke-width="1.3" stroke-linejoin="round" stroke-linecap="round" />
<circle cx="236.8" cy="256.7" r="2.4" fill="none" stroke="#231f20" stroke-width="1.3"/>
<polyline points="241.8,256.9 228.4,256.9" fill="none" stroke="#231f20" stroke-width="1.0" stroke-linejoin="round" stroke-linecap="round"/>
<circle cx="259.3" cy="280.8" r="2.9" fill="none" stroke="#231f20" stroke-width="1.2"/>
<circle cx="259.3" cy="280.8" r="1.2" fill="none" stroke="#231f20" stroke-width="1.2"/>
<circle cx="214.3" cy="277.2" r="2.9" fill="none" stroke="#231f20" stroke-width="1.2"/>
<circle cx="214.3" cy="277.2" r="1.2" fill="none" stroke="#231f20" stroke-width="1.2"/>
<path d="M261.8,275.5 C260.8,275.7 257.1,275.7 255.8,276.6 C254.6,277.5 254.1,279.5 254.2,280.9 C254.4,282.4 255.8,284.7 256.9,285.2 C258.1,285.8 260.5,284.3 261.2,284.2" fill="none" stroke="#231f20" stroke-width="1.0" stroke-linejoin="round" stroke-linecap="round" />
<path d="M219.2,272.3 C218.5,271.9 216.5,270.2 214.9,270.2 C213.4,270.2 211.2,271.1 210.1,272.3 C209.0,273.5 208.3,275.5 208.5,277.2 C208.6,278.8 209.9,281.0 211.2,282.0 C212.4,283.0 215.2,282.9 216.0,283.1" fill="none" stroke="#231f20" stroke-width="1.0" stroke-linejoin="round" stroke-linecap="round" />
<polyline points="222.5,261.5 206.3,246.5" fill="none" stroke="#231f20" stroke-width="1.0" stroke-linejoin="round" stroke-linecap="round"/>
<path d="M485.2,199.2 C488.1,199.2 498.8,199.2 502.5,199.5 C506.1,199.7 506.0,200.1 507.3,200.8 C508.6,201.5 509.4,202.9 510.0,203.8 C510.6,204.7 508.0,203.6 510.6,206.4 C513.3,209.1 522.7,217.1 526.2,220.2 C529.6,223.2 530.1,223.0 531.5,224.5 C533.0,225.9 534.0,227.3 534.8,228.8 C535.5,230.2 536.0,229.5 536.1,233.1 C536.2,236.7 535.5,247.4 535.4,250.3" fill="none" stroke="#231f20" stroke-width="1.3" stroke-linejoin="round" stroke-linecap="round" stroke-dasharray="4 2.5" />
<polyline points="510.2,206.2 499.8,216.4" fill="none" stroke="#231f20" stroke-width="1.0" stroke-linejoin="round" stroke-linecap="round" stroke-dasharray="4 2.5"/>
<path d="M236.8,199.2 C233.9,199.2 223.2,199.2 219.5,199.5 C215.9,199.7 216.0,200.1 214.7,200.8 C213.4,201.5 212.6,202.9 212.0,203.8 C211.4,204.7 214.0,203.6 211.4,206.4 C208.7,209.1 199.3,217.1 195.8,220.2 C192.4,223.2 191.9,223.0 190.5,224.5 C189.0,225.9 188.0,227.3 187.2,228.8 C186.5,230.2 186.0,229.5 185.9,233.1 C185.8,236.7 186.5,247.4 186.6,250.3" fill="none" stroke="#231f20" stroke-width="1.3" stroke-linejoin="round" stroke-linecap="round" />
<polyline points="211.8,206.2 222.2,216.4" fill="none" stroke="#231f20" stroke-width="1.0" stroke-linejoin="round" stroke-linecap="round"/>
<path d="M476.2,199.6 C477.4,198.1 480.6,193.8 483.8,190.4 C487.1,187.0 491.9,181.8 495.4,179.2 C498.8,176.5 501.5,175.4 504.6,174.5 C507.7,173.7 511.0,173.5 513.8,173.9 C516.7,174.4 519.3,175.5 521.5,177.3 C523.8,179.1 526.4,183.5 527.4,184.7" fill="none" stroke="#231f20" stroke-width="1.9" stroke-linejoin="round" stroke-linecap="round" />
<path d="M527.4,184.7 C530.3,193.7 541.6,228.5 544.6,238.8 C547.6,249.2 546.6,244.1 545.5,246.5 C544.5,249.0 539.6,252.3 538.5,253.5" fill="none" stroke="#231f20" stroke-width="1.9" stroke-linejoin="round" stroke-linecap="round" />
<circle cx="510.0" cy="193.5" r="10.8" fill="none" stroke="#231f20" stroke-width="1.3"/>
<polyline points="466.2,165.0 476.2,199.6" fill="none" stroke="#231f20" stroke-width="1.9" stroke-linejoin="round" stroke-linecap="round"/>
<path d="M191.5,265.0 C189.3,261.9 180.7,250.4 178.2,246.5 C175.6,242.7 176.5,243.5 176.5,241.9 C176.4,240.3 174.7,245.6 177.7,237.0 C180.7,228.4 191.1,199.8 194.6,190.4 C198.2,181.0 197.1,183.1 198.9,180.7 C200.7,178.3 203.0,177.0 205.4,176.1 C207.7,175.1 210.5,174.9 213.1,175.0 C215.6,175.1 218.2,175.5 220.8,176.5 C223.3,177.6 224.9,177.8 228.5,181.2 C232.1,184.5 240.0,194.0 242.3,196.5" fill="none" stroke="#231f20" stroke-width="1.9" stroke-linejoin="round" stroke-linecap="round" />
<polyline points="256.2,165.0 244.6,200.1" fill="none" stroke="#231f20" stroke-width="1.9" stroke-linejoin="round" stroke-linecap="round"/>
<polyline points="199.5,215.8 199.5,193.0" fill="none" stroke="#231f20" stroke-width="1.3" stroke-linejoin="round" stroke-linecap="round"/>
<path d="M199.5,193.0 C200.0,191.5 200.9,186.2 202.3,184.2 C203.7,182.3 204.1,181.8 207.7,181.3 C211.3,180.8 220.2,180.1 223.8,181.3 C227.5,182.6 228.4,186.6 229.7,188.8 C231.0,191.1 231.2,194.0 231.5,195.0" fill="none" stroke="#231f20" stroke-width="1.3" stroke-linejoin="round" stroke-linecap="round" />
<polyline points="199.5,192.7 231.5,192.7" fill="none" stroke="#231f20" stroke-width="1.0" stroke-linejoin="round" stroke-linecap="round"/>
<polyline points="199.5,195.0 231.8,195.0" fill="none" stroke="#231f20" stroke-width="1.0" stroke-linejoin="round" stroke-linecap="round"/>
<polyline points="212.3,205.8 223.1,216.5" fill="none" stroke="#231f20" stroke-width="1.0" stroke-linejoin="round" stroke-linecap="round"/>
<polyline points="223.1,216.5 236.2,203.5" fill="none" stroke="#231f20" stroke-width="1.0" stroke-linejoin="round" stroke-linecap="round"/>
<path d="M196.2,254.2 C195.9,253.2 194.4,250.4 194.6,248.1 C194.9,245.8 196.5,242.2 197.7,240.4 C198.8,238.6 200.9,237.8 201.5,237.3" fill="none" stroke="#231f20" stroke-width="1.0" stroke-linejoin="round" stroke-linecap="round" />
<polyline points="236.2,193.5 180.8,250.4" fill="none" stroke="#231f20" stroke-width="1.3" stroke-linejoin="round" stroke-linecap="round"/>
<polyline points="232.3,197.6 236.2,194.2" fill="none" stroke="#231f20" stroke-width="1.0" stroke-linejoin="round" stroke-linecap="round"/>
<polyline points="181.5,248.1 185.7,244.5" fill="none" stroke="#231f20" stroke-width="1.0" stroke-linejoin="round" stroke-linecap="round"/>
<polyline points="188.5,269.6 194.6,263.5" fill="none" stroke="#231f20" stroke-width="1.0" stroke-linejoin="round" stroke-linecap="round"/>
<polyline points="233.2,198.5 237.1,195.2" fill="none" stroke="#231f20" stroke-width="1.0" stroke-linejoin="round" stroke-linecap="round"/>
<polyline points="182.5,249.0 186.6,245.5" fill="none" stroke="#231f20" stroke-width="1.0" stroke-linejoin="round" stroke-linecap="round"/>
<polyline points="189.5,270.1 195.7,263.9" fill="none" stroke="#231f20" stroke-width="1.0" stroke-linejoin="round" stroke-linecap="round"/>
<polyline points="234.2,199.5 238.0,196.1" fill="none" stroke="#231f20" stroke-width="1.0" stroke-linejoin="round" stroke-linecap="round"/>
<polyline points="183.4,249.9 187.5,246.4" fill="none" stroke="#231f20" stroke-width="1.0" stroke-linejoin="round" stroke-linecap="round"/>
<polyline points="190.6,270.5 196.8,264.4" fill="none" stroke="#231f20" stroke-width="1.0" stroke-linejoin="round" stroke-linecap="round"/>
<polyline points="235.1,200.4 238.9,197.0" fill="none" stroke="#231f20" stroke-width="1.0" stroke-linejoin="round" stroke-linecap="round"/>
<polyline points="184.3,250.8 188.5,247.3" fill="none" stroke="#231f20" stroke-width="1.0" stroke-linejoin="round" stroke-linecap="round"/>
<polyline points="191.7,271.0 197.8,264.8" fill="none" stroke="#231f20" stroke-width="1.0" stroke-linejoin="round" stroke-linecap="round"/>
<polyline points="236.0,201.3 239.8,197.9" fill="none" stroke="#231f20" stroke-width="1.0" stroke-linejoin="round" stroke-linecap="round"/>
<polyline points="185.2,251.8 189.4,248.2" fill="none" stroke="#231f20" stroke-width="1.0" stroke-linejoin="round" stroke-linecap="round"/>
<polyline points="192.8,271.5 198.9,265.3" fill="none" stroke="#231f20" stroke-width="1.0" stroke-linejoin="round" stroke-linecap="round"/>
<circle cx="361.0" cy="411.5" r="14.3" fill="none" stroke="#231f20" stroke-width="2.2"/>
<circle cx="361.0" cy="411.5" r="17.6" fill="none" stroke="#231f20" stroke-width="1.6"/>
<circle cx="361.0" cy="411.5" r="20.9" fill="none" stroke="#231f20" stroke-width="1.3"/>
<circle cx="361.0" cy="411.5" r="24.3" fill="none" stroke="#231f20" stroke-width="1.4"/>
<circle cx="361.0" cy="411.5" r="25.9" fill="none" stroke="#231f20" stroke-width="1.4"/>
<circle cx="361.0" cy="411.5" r="29.2" fill="none" stroke="#231f20" stroke-width="1.3"/>
<circle cx="361.0" cy="411.5" r="35.9" fill="none" stroke="#231f20" stroke-width="1.3"/>
<circle cx="361.0" cy="411.5" r="45.2" fill="none" stroke="#231f20" stroke-width="1.3"/>
<circle cx="361.0" cy="411.5" r="70.3" fill="none" stroke="#231f20" stroke-width="1.3"/>
<circle cx="361.0" cy="411.5" r="61.7" fill="none" stroke="#231f20" stroke-width="1.3" stroke-dasharray="13 3"/>
<circle cx="361.0" cy="411.5" r="85.0" fill="none" stroke="#231f20" stroke-width="1.3" stroke-dasharray="13 3"/>
<circle cx="361.0" cy="411.5" r="4.3" fill="none" stroke="#231f20" stroke-width="2.2"/>
<circle cx="361.0" cy="411.5" r="1.5" fill="none" stroke="#231f20" stroke-width="1.2"/>
<line x1="365.8" y1="412.8" x2="374.5" y2="415.1" stroke="#231f20" stroke-width="1.0" />
<line x1="364.5" y1="415.0" x2="370.9" y2="421.4" stroke="#231f20" stroke-width="1.0" />
<line x1="362.3" y1="416.3" x2="364.6" y2="425.0" stroke="#231f20" stroke-width="1.0" />
<line x1="359.7" y1="416.3" x2="357.4" y2="425.0" stroke="#231f20" stroke-width="1.0" />
<line x1="357.5" y1="415.0" x2="351.1" y2="421.4" stroke="#231f20" stroke-width="1.0" />
<line x1="356.2" y1="412.8" x2="347.5" y2="415.1" stroke="#231f20" stroke-width="1.0" />
<line x1="356.2" y1="410.2" x2="347.5" y2="407.9" stroke="#231f20" stroke-width="1.0" />
<line x1="357.5" y1="408.0" x2="351.1" y2="401.6" stroke="#231f20" stroke-width="1.0" />
<line x1="359.7" y1="406.7" x2="357.4" y2="398.0" stroke="#231f20" stroke-width="1.0" />
<line x1="362.3" y1="406.7" x2="364.6" y2="398.0" stroke="#231f20" stroke-width="1.0" />
<line x1="364.5" y1="408.0" x2="370.9" y2="401.6" stroke="#231f20" stroke-width="1.0" />
<line x1="365.8" y1="410.2" x2="374.5" y2="407.9" stroke="#231f20" stroke-width="1.0" />
<rect x="371.8" y="407.0" width="3.0" height="8.5" rx="0" fill="none" stroke="#231f20" stroke-width="1.0" />
<line x1="361.0" y1="411.5" x2="314.5" y2="331.0" stroke="#231f20" stroke-width="1.0" />
<line x1="361.0" y1="411.5" x2="407.5" y2="331.0" stroke="#231f20" stroke-width="1.0" />
<line x1="370.9" y1="421.4" x2="431.7" y2="482.2" stroke="#231f20" stroke-width="1.0" />
<line x1="351.1" y1="421.4" x2="290.3" y2="482.2" stroke="#231f20" stroke-width="1.0" />
<line x1="332.7" y1="383.2" x2="305.8" y2="356.3" stroke="#231f20" stroke-width="1.0" />
<line x1="389.3" y1="383.2" x2="416.2" y2="356.3" stroke="#231f20" stroke-width="1.0" />
<path d="M312.5,329.2 C314.1,327.9 316.5,327.6 318.7,327.7 C320.9,327.8 323.9,328.6 325.6,330.0 C327.3,331.4 327.2,331.9 328.7,336.2 C330.2,340.4 333.4,351.3 334.8,355.4 C336.3,359.5 337.4,359.2 337.2,360.8 C336.9,362.3 334.5,363.5 333.3,364.6 C332.2,365.8 331.0,366.2 330.2,367.7 C329.5,369.2 329.7,372.1 328.7,373.8 C327.7,375.6 325.9,377.6 324.1,378.5 C322.3,379.4 319.7,379.6 317.9,379.2 C316.1,378.8 315.4,378.1 313.3,376.2 C311.3,374.2 307.3,369.7 305.6,367.7 C303.9,365.6 303.3,365.3 303.3,363.8 C303.3,362.4 304.2,361.2 305.6,359.2 C307.0,357.3 310.4,354.5 311.8,352.3 C313.2,350.1 314.3,347.9 314.1,346.2 C313.8,344.4 311.0,343.3 310.2,341.5 C309.5,339.7 309.1,337.4 309.5,335.4 C309.8,333.3 311.0,330.5 312.5,329.2Z" fill="none" stroke="#231f20" stroke-width="1.3" stroke-linejoin="round" stroke-linecap="round" />
<circle cx="318.7" cy="338.2" r="4.6" fill="#fff" stroke="#231f20" stroke-width="1.3"/>
<line x1="315.4" y1="334.9" x2="322.0" y2="341.5" stroke="#231f20" stroke-width="1.0" />
<line x1="315.4" y1="341.5" x2="322.0" y2="334.9" stroke="#231f20" stroke-width="1.0" />
<circle cx="317.2" cy="368.5" r="4.0" fill="#fff" stroke="#231f20" stroke-width="1.3"/>
<line x1="314.3" y1="365.6" x2="320.1" y2="371.4" stroke="#231f20" stroke-width="1.0" />
<line x1="314.3" y1="371.4" x2="320.1" y2="365.6" stroke="#231f20" stroke-width="1.0" />
<circle cx="325.3" cy="350.0" r="2.8" fill="none" stroke="#231f20" stroke-width="1.0"/>
<path d="M409.5,329.2 C407.9,327.9 405.5,327.6 403.3,327.7 C401.1,327.8 398.1,328.6 396.4,330.0 C394.7,331.4 394.8,331.9 393.3,336.2 C391.8,340.4 388.6,351.3 387.2,355.4 C385.7,359.5 384.6,359.2 384.8,360.8 C385.1,362.3 387.5,363.5 388.7,364.6 C389.8,365.8 391.0,366.2 391.8,367.7 C392.5,369.2 392.3,372.1 393.3,373.8 C394.3,375.6 396.1,377.6 397.9,378.5 C399.7,379.4 402.3,379.6 404.1,379.2 C405.9,378.8 406.6,378.1 408.7,376.2 C410.7,374.2 414.7,369.7 416.4,367.7 C418.1,365.6 418.7,365.3 418.7,363.8 C418.7,362.4 417.8,361.2 416.4,359.2 C415.0,357.3 411.6,354.5 410.2,352.3 C408.8,350.1 407.7,347.9 407.9,346.2 C408.2,344.4 411.0,343.3 411.8,341.5 C412.5,339.7 412.9,337.4 412.5,335.4 C412.2,333.3 411.0,330.5 409.5,329.2Z" fill="none" stroke="#231f20" stroke-width="1.3" stroke-linejoin="round" stroke-linecap="round" />
<circle cx="403.3" cy="338.2" r="4.6" fill="#fff" stroke="#231f20" stroke-width="1.3"/>
<line x1="400.0" y1="334.9" x2="406.6" y2="341.5" stroke="#231f20" stroke-width="1.0" />
<line x1="400.0" y1="341.5" x2="406.6" y2="334.9" stroke="#231f20" stroke-width="1.0" />
<circle cx="404.8" cy="368.5" r="4.0" fill="#fff" stroke="#231f20" stroke-width="1.3"/>
<line x1="401.9" y1="365.6" x2="407.7" y2="371.4" stroke="#231f20" stroke-width="1.0" />
<line x1="401.9" y1="371.4" x2="407.7" y2="365.6" stroke="#231f20" stroke-width="1.0" />
<circle cx="396.7" cy="350.0" r="2.8" fill="none" stroke="#231f20" stroke-width="1.0"/>
<path d="M319.2,444.2 C321.8,443.2 325.3,444.1 326.9,445.0 C328.6,445.9 330.0,446.8 329.2,449.6 C328.5,452.4 325.0,457.8 322.3,461.9 C319.6,466.0 316.2,471.0 313.1,474.2 C310.0,477.4 306.8,480.4 303.8,481.2 C300.9,481.9 297.3,480.4 295.4,478.8 C293.5,477.3 292.3,474.0 292.3,471.9 C292.3,469.9 292.2,470.0 295.4,466.5 C298.6,463.1 307.6,454.9 311.5,451.2 C315.5,447.4 316.7,445.3 319.2,444.2Z" fill="none" stroke="#231f20" stroke-width="1.3" stroke-linejoin="round" stroke-linecap="round" />
<circle cx="317.7" cy="455.0" r="3.8" fill="#fff" stroke="#231f20" stroke-width="1.3"/>
<line x1="315.0" y1="452.3" x2="320.4" y2="457.7" stroke="#231f20" stroke-width="1.0" />
<line x1="315.0" y1="457.7" x2="320.4" y2="452.3" stroke="#231f20" stroke-width="1.0" />
<circle cx="301.5" cy="472.0" r="4.6" fill="#fff" stroke="#231f20" stroke-width="1.3"/>
<line x1="298.2" y1="468.7" x2="304.8" y2="475.3" stroke="#231f20" stroke-width="1.0" />
<line x1="298.2" y1="475.3" x2="304.8" y2="468.7" stroke="#231f20" stroke-width="1.0" />
<circle cx="310.8" cy="462.0" r="3.0" fill="none" stroke="#231f20" stroke-width="1.0"/>
<path d="M402.8,444.2 C400.2,443.2 396.7,444.1 395.1,445.0 C393.4,445.9 392.0,446.8 392.8,449.6 C393.5,452.4 397.0,457.8 399.7,461.9 C402.4,466.0 405.8,471.0 408.9,474.2 C412.0,477.4 415.2,480.4 418.2,481.2 C421.1,481.9 424.7,480.4 426.6,478.8 C428.5,477.3 429.7,474.0 429.7,471.9 C429.7,469.9 429.8,470.0 426.6,466.5 C423.4,463.1 414.4,454.9 410.5,451.2 C406.5,447.4 405.3,445.3 402.8,444.2Z" fill="none" stroke="#231f20" stroke-width="1.3" stroke-linejoin="round" stroke-linecap="round" />
<circle cx="404.3" cy="455.0" r="3.8" fill="#fff" stroke="#231f20" stroke-width="1.3"/>
<line x1="401.6" y1="452.3" x2="407.0" y2="457.7" stroke="#231f20" stroke-width="1.0" />
<line x1="401.6" y1="457.7" x2="407.0" y2="452.3" stroke="#231f20" stroke-width="1.0" />
<circle cx="420.5" cy="472.0" r="4.6" fill="#fff" stroke="#231f20" stroke-width="1.3"/>
<line x1="417.2" y1="468.7" x2="423.8" y2="475.3" stroke="#231f20" stroke-width="1.0" />
<line x1="417.2" y1="475.3" x2="423.8" y2="468.7" stroke="#231f20" stroke-width="1.0" />
<circle cx="411.2" cy="462.0" r="3.0" fill="none" stroke="#231f20" stroke-width="1.0"/>
<circle cx="298.9" cy="372.8" r="6.0" fill="#fff" stroke="#231f20" stroke-width="1.3"/>
<circle cx="298.9" cy="372.8" r="2.8" fill="none" stroke="#231f20" stroke-width="1.3"/>
<circle cx="360.9" cy="261.3" r="7.3" fill="#fff" stroke="#231f20" stroke-width="1.2"/>
<circle cx="360.9" cy="261.3" r="4.7" fill="none" stroke="#231f20" stroke-width="1.2"/>
<circle cx="360.9" cy="261.3" r="5.9" fill="none" stroke="#231f20" stroke-width="1.0"/>
<path d="M354.2,266.3 C352.1,266.9 346.5,267.8 341.7,269.6 C336.9,271.4 330.0,274.3 325.4,277.0 C320.8,279.7 317.0,283.0 314.0,286.0 C311.0,289.0 309.1,292.6 307.4,294.9 C305.6,297.1 304.1,298.7 303.5,299.5" fill="none" stroke="#231f20" stroke-width="1.3" stroke-linejoin="round" stroke-linecap="round" />
<path d="M367.8,266.3 C369.9,266.9 375.5,267.8 380.3,269.6 C385.1,271.4 392.0,274.3 396.6,277.0 C401.2,279.7 405.0,283.0 408.0,286.0 C411.0,289.0 412.9,292.6 414.6,294.9 C416.4,297.1 417.9,298.7 418.5,299.5" fill="none" stroke="#231f20" stroke-width="1.3" stroke-linejoin="round" stroke-linecap="round" />
<circle cx="297.8" cy="304.2" r="7.7" fill="#fff" stroke="#231f20" stroke-width="1.3"/>
<circle cx="297.8" cy="304.2" r="5.2" fill="none" stroke="#231f20" stroke-width="1.3"/>
<circle cx="297.8" cy="304.2" r="7.7" fill="#fff" stroke="#231f20" stroke-width="1.3"/>
<circle cx="297.8" cy="304.2" r="4.0" fill="none" stroke="#231f20" stroke-width="1.3"/>
<circle cx="268.2" cy="318.5" r="6.3" fill="#fff" stroke="#231f20" stroke-width="1.2"/>
<circle cx="268.2" cy="318.5" r="4.3" fill="none" stroke="#231f20" stroke-width="1.2"/>
<circle cx="453.8" cy="318.5" r="6.3" fill="#fff" stroke="#231f20" stroke-width="1.2"/>
<circle cx="453.8" cy="318.5" r="4.3" fill="none" stroke="#231f20" stroke-width="1.2"/>
<circle cx="265.4" cy="373.1" r="8.0" fill="#fff" stroke="#231f20" stroke-width="1.3"/>
<circle cx="265.4" cy="373.1" r="5.2" fill="none" stroke="#231f20" stroke-width="1.3"/>
<circle cx="265.4" cy="373.1" r="6.3" fill="none" stroke="#231f20" stroke-width="1.0"/>
<circle cx="435.7" cy="377.3" r="8.0" fill="#fff" stroke="#231f20" stroke-width="1.3"/>
<circle cx="435.7" cy="377.3" r="5.4" fill="none" stroke="#231f20" stroke-width="1.3"/>
<circle cx="435.7" cy="377.3" r="6.4" fill="none" stroke="#231f20" stroke-width="1.0"/>
<line x1="431.0" y1="380.0" x2="440.5" y2="374.5" stroke="#231f20" stroke-width="1.0" />
<circle cx="288.5" cy="448.1" r="8.5" fill="#fff" stroke="#231f20" stroke-width="1.3"/>
<circle cx="288.5" cy="448.1" r="5.5" fill="none" stroke="#231f20" stroke-width="1.3"/>
<circle cx="288.5" cy="448.1" r="6.8" fill="none" stroke="#231f20" stroke-width="1.0"/>
<circle cx="445.4" cy="448.1" r="8.5" fill="#fff" stroke="#231f20" stroke-width="1.3"/>
<circle cx="445.4" cy="448.1" r="5.5" fill="none" stroke="#231f20" stroke-width="1.3"/>
<circle cx="445.4" cy="448.1" r="6.8" fill="none" stroke="#231f20" stroke-width="1.0"/>
<circle cx="299.2" cy="517.3" r="8.5" fill="#fff" stroke="#231f20" stroke-width="1.3"/>
<circle cx="299.2" cy="517.3" r="5.5" fill="none" stroke="#231f20" stroke-width="1.3"/>
<circle cx="299.2" cy="517.3" r="6.8" fill="none" stroke="#231f20" stroke-width="1.0"/>
<circle cx="373.8" cy="517.3" r="8.0" fill="#fff" stroke="#231f20" stroke-width="1.3"/>
<circle cx="373.8" cy="517.3" r="5.5" fill="none" stroke="#231f20" stroke-width="1.3"/>
<circle cx="373.8" cy="517.3" r="6.6" fill="none" stroke="#231f20" stroke-width="1.0"/>
<circle cx="434.6" cy="517.3" r="8.0" fill="#fff" stroke="#231f20" stroke-width="1.3"/>
<circle cx="434.6" cy="517.3" r="5.5" fill="none" stroke="#231f20" stroke-width="1.3"/>
<circle cx="434.6" cy="517.3" r="6.6" fill="none" stroke="#231f20" stroke-width="1.0"/>
<circle cx="447.7" cy="488.8" r="5.0" fill="#fff" stroke="#231f20" stroke-width="1.3"/>
<circle cx="447.7" cy="488.8" r="3.0" fill="none" stroke="#231f20" stroke-width="1.3"/>
<circle cx="333.3" cy="312.2" r="6.6" fill="#fff" stroke="#231f20" stroke-width="1.3"/>
<circle cx="333.3" cy="312.2" r="3.3" fill="none" stroke="#231f20" stroke-width="2.0"/>
<circle cx="333.3" cy="312.2" r="1.2" fill="none" stroke="#231f20" stroke-width="1.2"/>
<circle cx="388.9" cy="312.2" r="6.6" fill="#fff" stroke="#231f20" stroke-width="1.3"/>
<circle cx="388.9" cy="312.2" r="3.3" fill="none" stroke="#231f20" stroke-width="2.0"/>
<circle cx="388.9" cy="312.2" r="1.2" fill="none" stroke="#231f20" stroke-width="1.2"/>
<polyline points="421.5,312.0 430.0,368.0" fill="none" stroke="#231f20" stroke-width="1.3" stroke-linejoin="round" stroke-linecap="round"/>
<polyline points="432.3,302.0 446.0,372.0" fill="none" stroke="#231f20" stroke-width="1.3" stroke-linejoin="round" stroke-linecap="round"/>
<polyline points="429.5,304.0 443.0,372.0" fill="none" stroke="#231f20" stroke-width="1.0" stroke-linejoin="round" stroke-linecap="round" stroke-dasharray="3 2"/>
<polyline points="428.5,384.0 437.5,442.0" fill="none" stroke="#231f20" stroke-width="1.3" stroke-linejoin="round" stroke-linecap="round"/>
<polyline points="443.5,383.0 453.0,442.0" fill="none" stroke="#231f20" stroke-width="1.3" stroke-linejoin="round" stroke-linecap="round"/>
<polyline points="441.5,456.0 436.2,506.5" fill="none" stroke="#231f20" stroke-width="1.3" stroke-linejoin="round" stroke-linecap="round"/>
<polyline points="449.5,456.0 442.5,511.0" fill="none" stroke="#231f20" stroke-width="1.3" stroke-linejoin="round" stroke-linecap="round"/>
<polyline points="295.4,286.2 272.5,365.5" fill="none" stroke="#231f20" stroke-width="1.3" stroke-linejoin="round" stroke-linecap="round"/>
<polyline points="285.4,289.2 259.0,366.0" fill="none" stroke="#231f20" stroke-width="1.3" stroke-linejoin="round" stroke-linecap="round"/>
<polyline points="292.4,287.2 269.5,365.5" fill="none" stroke="#231f20" stroke-width="1.0" stroke-linejoin="round" stroke-linecap="round" stroke-dasharray="3 2"/>
<path d="M273.8,381.0 C274.3,384.2 276.0,392.5 277.0,400.0 C278.0,407.5 279.0,419.2 280.0,426.0 C281.0,432.8 282.5,438.5 283.0,441.0" fill="none" stroke="#231f20" stroke-width="1.3" stroke-linejoin="round" stroke-linecap="round" />
<polyline points="285.4,456.0 296.2,511.0" fill="none" stroke="#231f20" stroke-width="1.3" stroke-linejoin="round" stroke-linecap="round"/>
<polyline points="292.0,456.0 303.8,508.0" fill="none" stroke="#231f20" stroke-width="1.3" stroke-linejoin="round" stroke-linecap="round"/>
<path d="M264,333 A7,7 0 0 0 277,343" fill="none" stroke="#231f20" stroke-width="1.3" stroke-linejoin="round" stroke-linecap="round" />
<path d="M266,335 A4.5,4.5 0 0 0 275,341" fill="none" stroke="#231f20" stroke-width="1.0" stroke-linejoin="round" stroke-linecap="round" />
<line x1="271.5" y1="525.6" x2="462.3" y2="525.6" stroke="#231f20" stroke-width="1.9" />
<path d="M299.2,519.2 C300.5,519.2 304.9,520.5 306.9,519.2 C309.0,517.8 310.8,512.5 311.5,511.2" fill="none" stroke="#231f20" stroke-width="1.0" stroke-linejoin="round" stroke-linecap="round" />
<path d="M308.0,512.0 C309.0,513.2 310.3,517.8 314.0,519.0 C317.7,520.2 322.7,519.4 330.0,519.5 C337.3,519.6 352.3,520.8 358.0,519.5 C363.7,518.2 363.0,513.2 364.0,512.0" fill="none" stroke="#231f20" stroke-width="1.0" stroke-linejoin="round" stroke-linecap="round" />
<path d="M383.0,512.0 C384.0,513.2 385.3,517.8 389.0,519.0 C392.7,520.2 399.8,519.4 405.0,519.5 C410.2,519.6 416.5,520.8 420.0,519.5 C423.5,518.2 425.0,513.2 426.0,512.0" fill="none" stroke="#231f20" stroke-width="1.0" stroke-linejoin="round" stroke-linecap="round" />
<line x1="310.0" y1="523.0" x2="460.0" y2="523.0" stroke="#231f20" stroke-width="1.0" />
<polyline points="462.3,500.4 462.3,526.0" fill="none" stroke="#231f20" stroke-width="1.9" stroke-linejoin="round" stroke-linecap="round"/>
<rect x="462.3" y="509.0" width="10.0" height="13.0" rx="0" fill="none" stroke="#231f20" stroke-width="1.3" />
<line x1="462.3" y1="513.5" x2="472.3" y2="513.5" stroke="#231f20" stroke-width="1.0" />
<line x1="462.3" y1="517.5" x2="472.3" y2="517.5" stroke="#231f20" stroke-width="1.0" />
<rect x="460.5" y="507.0" width="2.0" height="17.0" rx="0" fill="none" stroke="#231f20" stroke-width="1.0" />
<polyline points="462.3,500.4 485.4,481.2" fill="none" stroke="#231f20" stroke-width="1.9" stroke-linejoin="round" stroke-linecap="round"/>
<line x1="450.0" y1="476.0" x2="450.0" y2="525.0" stroke="#231f20" stroke-width="1.3" />
<rect x="449.2" y="431.2" width="15.4" height="18.4" rx="0" fill="none" stroke="#231f20" stroke-width="1.0" />
<rect x="449.2" y="460.4" width="15.4" height="15.4" rx="0" fill="none" stroke="#231f20" stroke-width="1.0" />
<line x1="449.2" y1="431.2" x2="477.0" y2="431.2" stroke="#231f20" stroke-width="1.0" />
<line x1="464.6" y1="437.0" x2="477.0" y2="437.0" stroke="#231f20" stroke-width="1.0" />
<line x1="464.6" y1="466.0" x2="479.0" y2="466.0" stroke="#231f20" stroke-width="1.0" />
<path d="M451.0,453.5 L451.0,456.5 A2,2 0 0 0 455.0,456.5 L455.0,453.5" fill="none" stroke="#231f20" stroke-width="1.0" stroke-linejoin="round" stroke-linecap="round" />
<path d="M456.6,453.5 L456.6,456.5 A2,2 0 0 0 460.6,456.5 L460.6,453.5" fill="none" stroke="#231f20" stroke-width="1.0" stroke-linejoin="round" stroke-linecap="round" />
<path d="M462.2,453.5 L462.2,456.5 A2,2 0 0 0 466.2,456.5 L466.2,453.5" fill="none" stroke="#231f20" stroke-width="1.0" stroke-linejoin="round" stroke-linecap="round" />
<path d="M467.8,453.5 L467.8,456.5 A2,2 0 0 0 471.8,456.5 L471.8,453.5" fill="none" stroke="#231f20" stroke-width="1.0" stroke-linejoin="round" stroke-linecap="round" />
<path d="M473.4,453.5 L473.4,456.5 A2,2 0 0 0 477.4,456.5 L477.4,453.5" fill="none" stroke="#231f20" stroke-width="1.0" stroke-linejoin="round" stroke-linecap="round" />
<polyline points="440.0,500.0 440.0,508.0 449.0,508.0 449.0,516.0 442.0,518.0" fill="none" stroke="#231f20" stroke-width="1.0" stroke-linejoin="round" stroke-linecap="round"/>
<line x1="443.0" y1="476.0" x2="443.0" y2="500.0" stroke="#231f20" stroke-width="1.0" />
<polyline points="271.5,503.5 271.5,526.0" fill="none" stroke="#231f20" stroke-width="1.9" stroke-linejoin="round" stroke-linecap="round"/>
<rect x="261.5" y="508.0" width="10.0" height="13.0" rx="0" fill="none" stroke="#231f20" stroke-width="1.3" />
<line x1="261.5" y1="512.5" x2="271.5" y2="512.5" stroke="#231f20" stroke-width="1.0" />
<line x1="261.5" y1="516.5" x2="271.5" y2="516.5" stroke="#231f20" stroke-width="1.0" />
<rect x="271.5" y="506.0" width="2.0" height="17.0" rx="0" fill="none" stroke="#231f20" stroke-width="1.0" />
<line x1="271.5" y1="503.5" x2="292.0" y2="503.5" stroke="#231f20" stroke-width="1.3" />
<polyline points="285.0,503.5 285.0,515.0 291.0,517.0" fill="none" stroke="#231f20" stroke-width="1.0" stroke-linejoin="round" stroke-linecap="round"/>
<path d="M205.4,445.0 C206.9,447.6 211.0,455.5 214.6,460.4 C218.2,465.3 222.3,469.9 226.9,474.2 C231.5,478.6 237.2,482.9 242.3,486.5 C247.4,490.1 252.9,492.9 257.7,495.8 C262.4,498.6 268.6,502.2 270.8,503.5" fill="none" stroke="#231f20" stroke-width="1.6" stroke-linejoin="round" stroke-linecap="round" />
<path d="M207.2,443.8 C208.8,446.3 212.9,454.1 216.5,458.8 C220.0,463.6 223.9,468.1 228.5,472.4 C233.0,476.7 238.5,481.1 243.5,484.7 C248.6,488.3 253.9,491.1 258.6,493.9 C263.3,496.7 269.4,500.3 271.5,501.6" fill="none" stroke="#231f20" stroke-width="1.3" stroke-linejoin="round" stroke-linecap="round" />
<polyline points="252.3,468.1 252.3,471.2 257.7,471.2 257.7,479.6 291.5,479.6" fill="none" stroke="#231f20" stroke-width="1.3" stroke-linejoin="round" stroke-linecap="round"/>
<rect x="252.6" y="468.0" width="3.5" height="4.0" rx="0" fill="none" stroke="#231f20" stroke-width="1.0" />
<path d="M266.3,480.4 L266.3,488.1 A2.2,2.2 0 0 0 270.6,488.1 L270.6,480.4" fill="none" stroke="#231f20" stroke-width="1.0" stroke-linejoin="round" stroke-linecap="round" />
<path d="M275.5,480.4 L275.5,494.2 A2.2,2.2 0 0 0 279.8,494.2 L279.8,480.4" fill="none" stroke="#231f20" stroke-width="1.0" stroke-linejoin="round" stroke-linecap="round" />
<path d="M284.8,480.4 L284.8,498.8 A2.2,2.2 0 0 0 289.1,498.8 L289.1,480.4" fill="none" stroke="#231f20" stroke-width="1.0" stroke-linejoin="round" stroke-linecap="round" />
<polyline points="285.4,500.4 285.4,511.2 292.3,511.2 292.3,501.9" fill="none" stroke="#231f20" stroke-width="1.0" stroke-linejoin="round" stroke-linecap="round"/>
<path d="M477.5,457 L477.5,444.6 A29.4,29.4 0 0 1 536.3,444.6 L536.3,457" fill="none" stroke="#231f20" stroke-width="1.4" stroke-linejoin="round" stroke-linecap="round" />
<path d="M480,450 L480,444.6 A26.9,26.9 0 0 1 533.8,444.6 L533.8,450" fill="none" stroke="#231f20" stroke-width="1.0" stroke-linejoin="round" stroke-linecap="round" />
<polyline points="479.2,456.9 481.5,449.5 487.7,441.8 500.0,434.6 513.8,434.6 526.2,441.8 532.3,449.5 534.6,456.9" fill="none" stroke="#231f20" stroke-width="1.3" stroke-linejoin="round" stroke-linecap="round"/>
<polyline points="487.7,441.8 488.9,444.3 500.0,437.2 500.0,434.6" fill="none" stroke="#231f20" stroke-width="1.0" stroke-linejoin="round" stroke-linecap="round"/>
<polyline points="513.8,434.6 513.8,437.2 524.9,444.3 526.2,441.8" fill="none" stroke="#231f20" stroke-width="1.0" stroke-linejoin="round" stroke-linecap="round"/>
<polyline points="481.5,449.5 483.4,450.8 488.9,444.3" fill="none" stroke="#231f20" stroke-width="1.0" stroke-linejoin="round" stroke-linecap="round"/>
<polyline points="532.3,449.5 530.5,450.8 524.9,444.3" fill="none" stroke="#231f20" stroke-width="1.0" stroke-linejoin="round" stroke-linecap="round"/>
<polyline points="500.0,437.2 513.8,437.2" fill="none" stroke="#231f20" stroke-width="1.0" stroke-linejoin="round" stroke-linecap="round"/>
<path d="M479.2,457 A27.8,27.8 0 1 0 534.6,457" fill="none" stroke="#231f20" stroke-width="1.9" stroke-linejoin="round" stroke-linecap="round" />
<circle cx="506.9" cy="467.4" r="8.8" fill="none" stroke="#231f20" stroke-width="1.3"/>
<line x1="507.0" y1="415.0" x2="507.0" y2="548.0" stroke="#231f20" stroke-width="1.0" stroke-dasharray="14 3" />
<line x1="534.6" y1="457.0" x2="534.6" y2="516.0" stroke="#231f20" stroke-width="1.3" />
<line x1="537.0" y1="457.0" x2="537.0" y2="516.0" stroke="#231f20" stroke-width="1.3" />
<line x1="548.5" y1="457.0" x2="548.5" y2="516.0" stroke="#231f20" stroke-width="1.3" />
<line x1="550.5" y1="455.0" x2="550.5" y2="516.0" stroke="#231f20" stroke-width="1.6" />
<path d="M534.6,516 A8,8 0 0 0 550.5,516" fill="none" stroke="#231f20" stroke-width="1.4" stroke-linejoin="round" stroke-linecap="round" />
<path d="M537,516 A5.7,5.7 0 0 0 548.5,516" fill="none" stroke="#231f20" stroke-width="1.0" stroke-linejoin="round" stroke-linecap="round" />
<polyline points="536.2,447.7 543.1,440.0 552.3,450.0 546.9,455.4 536.9,455.4" fill="none" stroke="#231f20" stroke-width="1.3" stroke-linejoin="round" stroke-linecap="round"/>
<polyline points="538.5,446.2 545.4,452.3" fill="none" stroke="#231f20" stroke-width="1.0" stroke-linejoin="round" stroke-linecap="round"/>
<polyline points="541.5,442.3 550.0,450.8" fill="none" stroke="#231f20" stroke-width="1.0" stroke-linejoin="round" stroke-linecap="round"/>
<polyline points="556.9,416.2 570.0,416.2 580.0,424.6 580.0,429.2 565.4,439.2 558.5,439.2 546.2,429.2 546.2,425.4 556.9,416.2" fill="none" stroke="#231f20" stroke-width="1.3" stroke-linejoin="round" stroke-linecap="round"/>
<line x1="546.2" y1="424.6" x2="580.0" y2="424.6" stroke="#231f20" stroke-width="1.6" />
<line x1="546.2" y1="429.2" x2="580.0" y2="429.2" stroke="#231f20" stroke-width="1.6" />
<rect x="557.7" y="439.2" width="7.7" height="7.7" rx="0" fill="none" stroke="#231f20" stroke-width="1.6" />
<line x1="557.4" y1="447.0" x2="557.4" y2="484.6" stroke="#231f20" stroke-width="1.0" />
<line x1="559.2" y1="447.0" x2="559.2" y2="484.6" stroke="#231f20" stroke-width="1.0" />
<line x1="563.4" y1="447.0" x2="563.4" y2="484.6" stroke="#231f20" stroke-width="1.0" />
<line x1="565.4" y1="447.0" x2="565.4" y2="484.6" stroke="#231f20" stroke-width="1.0" />
<line x1="556.2" y1="385.0" x2="556.2" y2="416.0" stroke="#231f20" stroke-width="1.3" />
<line x1="567.7" y1="280.0" x2="567.7" y2="416.0" stroke="#231f20" stroke-width="1.6" />
<rect x="556.6" y="407.7" width="13.4" height="5.4" rx="0" fill="#999" stroke="#231f20" stroke-width="1.3" />
<rect x="556.6" y="353.0" width="13.4" height="5.0" rx="0" fill="#999" stroke="#231f20" stroke-width="1.3" />
<polygon points="557.4,462.4 549.4,464.9 550.0,462.4 549.4,459.9" fill="#231f20"/>
<polygon points="565.4,462.4 573.4,459.9 572.8,462.4 573.4,464.9" fill="#231f20"/>
<polygon points="555.4,482.2 547.4,484.7 548.0,482.2 547.4,479.7" fill="#231f20"/>
<polygon points="566.2,482.2 574.2,479.7 573.6,482.2 574.2,484.7" fill="#231f20"/>
<path d="M554.0,269.0 C555.0,270.2 558.2,273.3 560.0,276.0 C561.8,278.7 563.4,281.8 564.5,285.0 C565.6,288.2 566.1,292.2 566.5,295.0 C566.9,297.8 566.9,300.8 567.0,302.0" fill="none" stroke="#231f20" stroke-width="1.9" stroke-linejoin="round" stroke-linecap="round" />
<polyline points="543.8,301.2 543.8,352.7" fill="none" stroke="#231f20" stroke-width="1.6" stroke-linejoin="round" stroke-linecap="round"/>
<path d="M543.8,305.3 C545.5,305.0 550.1,304.0 553.8,303.5 C557.6,302.9 564.1,302.2 566.2,301.9" fill="none" stroke="#231f20" stroke-width="1.3" stroke-linejoin="round" stroke-linecap="round" />
<polyline points="545.4,326.5 566.9,321.2" fill="none" stroke="#231f20" stroke-width="1.3" stroke-linejoin="round" stroke-linecap="round"/>
<polyline points="545.4,328.4 566.9,323.0" fill="none" stroke="#231f20" stroke-width="1.0" stroke-linejoin="round" stroke-linecap="round"/>
<polyline points="566.9,301.9 566.9,358.8" fill="none" stroke="#231f20" stroke-width="1.3" stroke-linejoin="round" stroke-linecap="round"/>
<polyline points="573.8,301.9 573.8,358.8" fill="none" stroke="#231f20" stroke-width="1.4" stroke-linejoin="round" stroke-linecap="round"/>
<polyline points="543.8,358.8 573.8,358.8" fill="none" stroke="#231f20" stroke-width="1.3" stroke-linejoin="round" stroke-linecap="round"/>
<polyline points="551.5,327.3 551.5,358.8" fill="none" stroke="#231f20" stroke-width="1.0" stroke-linejoin="round" stroke-linecap="round"/>
<polyline points="556.9,325.8 556.9,358.8" fill="none" stroke="#231f20" stroke-width="1.0" stroke-linejoin="round" stroke-linecap="round"/>
<path d="M558.5,357 L558.5,339 A3.5,3.5 0 0 1 565.5,339 L565.5,357" fill="none" stroke="#231f20" stroke-width="1.0" stroke-linejoin="round" stroke-linecap="round" />
<line x1="545.6" y1="329.0" x2="551.3" y2="329.0" stroke="#231f20" stroke-width="1.0" />
<line x1="545.6" y1="331.2" x2="551.3" y2="331.2" stroke="#231f20" stroke-width="1.0" />
<line x1="545.6" y1="333.4" x2="551.3" y2="333.4" stroke="#231f20" stroke-width="1.0" />
<line x1="545.6" y1="335.6" x2="551.3" y2="335.6" stroke="#231f20" stroke-width="1.0" />
<line x1="545.6" y1="337.8" x2="551.3" y2="337.8" stroke="#231f20" stroke-width="1.0" />
<line x1="545.6" y1="340.0" x2="551.3" y2="340.0" stroke="#231f20" stroke-width="1.0" />
<line x1="545.6" y1="342.2" x2="551.3" y2="342.2" stroke="#231f20" stroke-width="1.0" />
<line x1="545.6" y1="344.4" x2="551.3" y2="344.4" stroke="#231f20" stroke-width="1.0" />
<line x1="545.6" y1="346.6" x2="551.3" y2="346.6" stroke="#231f20" stroke-width="1.0" />
<line x1="545.6" y1="348.8" x2="551.3" y2="348.8" stroke="#231f20" stroke-width="1.0" />
<line x1="545.6" y1="351.0" x2="551.3" y2="351.0" stroke="#231f20" stroke-width="1.0" />
<line x1="545.6" y1="353.2" x2="551.3" y2="353.2" stroke="#231f20" stroke-width="1.0" />
<line x1="545.6" y1="355.4" x2="551.3" y2="355.4" stroke="#231f20" stroke-width="1.0" />
<line x1="545.6" y1="357.6" x2="551.3" y2="357.6" stroke="#231f20" stroke-width="1.0" />
<line x1="545.6" y1="328.0" x2="545.6" y2="359.0" stroke="#231f20" stroke-width="1.0" />
<line x1="551.3" y1="328.0" x2="551.3" y2="359.0" stroke="#231f20" stroke-width="1.0" />
<rect x="573.8" y="303.0" width="5.5" height="11.0" rx="0" fill="none" stroke="#231f20" stroke-width="1.2" />
<line x1="573.8" y1="306.5" x2="579.3" y2="306.5" stroke="#231f20" stroke-width="1.0" />
<line x1="573.8" y1="310.5" x2="579.3" y2="310.5" stroke="#231f20" stroke-width="1.0" />
<rect x="579.3" y="305.5" width="2.5" height="6.0" rx="0" fill="none" stroke="#231f20" stroke-width="1.0" />
<rect x="573.8" y="347.0" width="5.5" height="11.0" rx="0" fill="none" stroke="#231f20" stroke-width="1.2" />
<line x1="573.8" y1="350.5" x2="579.3" y2="350.5" stroke="#231f20" stroke-width="1.0" />
<line x1="573.8" y1="354.5" x2="579.3" y2="354.5" stroke="#231f20" stroke-width="1.0" />
<rect x="579.3" y="349.5" width="2.5" height="6.0" rx="0" fill="none" stroke="#231f20" stroke-width="1.0" />
<line x1="553.0" y1="303.0" x2="554.0" y2="306.0" stroke="#231f20" stroke-width="1.0" />
<line x1="556.0" y1="302.6" x2="557.0" y2="305.6" stroke="#231f20" stroke-width="1.0" />
<line x1="559.0" y1="302.2" x2="560.0" y2="305.2" stroke="#231f20" stroke-width="1.0" />
<line x1="562.0" y1="301.8" x2="563.0" y2="304.8" stroke="#231f20" stroke-width="1.0" />
<polyline points="444.6,373.5 453.0,381.0 515.4,381.0 543.8,354.0" fill="none" stroke="#231f20" stroke-width="1.3" stroke-linejoin="round" stroke-linecap="round"/>
<line x1="463.0" y1="382.0" x2="463.0" y2="400.0" stroke="#231f20" stroke-width="2.6" />
<rect x="465.0" y="389.0" width="4.0" height="7.0" rx="0" fill="none" stroke="#231f20" stroke-width="1.0" />
<polyline points="480.0,381.2 480.0,397.9" fill="none" stroke="#231f20" stroke-width="1.0" stroke-linejoin="round" stroke-linecap="round"/>
<polyline points="480.8,389.6 490.8,389.6 490.8,386.5 496.2,386.5" fill="none" stroke="#231f20" stroke-width="1.0" stroke-linejoin="round" stroke-linecap="round"/>
<polyline points="496.2,381.2 496.2,397.9" fill="none" stroke="#231f20" stroke-width="1.0" stroke-linejoin="round" stroke-linecap="round"/>
<polyline points="503.1,381.2 503.1,397.9" fill="none" stroke="#231f20" stroke-width="1.0" stroke-linejoin="round" stroke-linecap="round"/>
<polyline points="470.0,392.7 470.0,397.9" fill="none" stroke="#231f20" stroke-width="1.0" stroke-linejoin="round" stroke-linecap="round"/>
<polyline points="472.3,392.7 472.3,397.9" fill="none" stroke="#231f20" stroke-width="1.0" stroke-linejoin="round" stroke-linecap="round"/>
<path d="M509.2,381.2 C509.2,382.8 508.8,389.1 509.2,391.2 C509.6,393.2 510.6,392.9 511.5,393.5 C512.4,394.0 514.1,394.4 514.6,394.5" fill="none" stroke="#231f20" stroke-width="1.3" stroke-linejoin="round" stroke-linecap="round" />
<line x1="538.0" y1="362.0" x2="548.3" y2="362.0" stroke="#231f20" stroke-width="1.3" />
<line x1="529.8" y1="366.9" x2="548.3" y2="366.9" stroke="#231f20" stroke-width="1.3" />
<line x1="529.8" y1="371.8" x2="548.3" y2="371.8" stroke="#231f20" stroke-width="1.3" />
<line x1="529.8" y1="376.7" x2="548.3" y2="376.7" stroke="#231f20" stroke-width="1.3" />
<line x1="529.8" y1="381.6" x2="548.3" y2="381.6" stroke="#231f20" stroke-width="1.3" />
<line x1="529.8" y1="386.5" x2="548.3" y2="386.5" stroke="#231f20" stroke-width="1.3" />
<line x1="529.8" y1="391.4" x2="548.3" y2="391.4" stroke="#231f20" stroke-width="1.3" />
<line x1="529.8" y1="396.3" x2="548.3" y2="396.3" stroke="#231f20" stroke-width="1.3" />
<line x1="529.8" y1="401.2" x2="548.3" y2="401.2" stroke="#231f20" stroke-width="1.3" />
<line x1="529.8" y1="406.1" x2="548.3" y2="406.1" stroke="#231f20" stroke-width="1.3" />
<line x1="529.8" y1="411.0" x2="548.3" y2="411.0" stroke="#231f20" stroke-width="1.3" />
<line x1="529.8" y1="415.9" x2="548.3" y2="415.9" stroke="#231f20" stroke-width="1.3" />
<line x1="529.8" y1="420.8" x2="548.3" y2="420.8" stroke="#231f20" stroke-width="1.3" />
<line x1="529.8" y1="425.7" x2="548.3" y2="425.7" stroke="#231f20" stroke-width="1.3" />
<line x1="529.8" y1="430.6" x2="548.3" y2="430.6" stroke="#231f20" stroke-width="1.3" />
<line x1="531.7" y1="366.0" x2="531.7" y2="431.0" stroke="#231f20" stroke-width="1.3" />
<line x1="538.5" y1="362.0" x2="538.5" y2="431.0" stroke="#231f20" stroke-width="1.3" />
<line x1="544.6" y1="362.0" x2="544.6" y2="431.0" stroke="#231f20" stroke-width="1.3" />
<line x1="548.3" y1="357.0" x2="548.3" y2="440.0" stroke="#231f20" stroke-width="1.3" />
<line x1="550.6" y1="357.0" x2="550.6" y2="440.0" stroke="#231f20" stroke-width="1.0" />
<path d="M545.8,372.2 C545.6,373.1 545.1,375.9 544.4,377.7 C543.7,379.4 542.7,381.0 541.5,382.6 C540.3,384.3 539.0,386.0 537.2,387.5 C535.5,389.1 533.3,390.7 531.1,391.8 C528.8,393.0 526.2,393.7 523.7,394.6 C521.2,395.4 519.2,396.0 516.3,396.8 C513.4,397.5 509.9,398.3 506.5,399.0 C503.0,399.7 499.7,400.5 495.4,401.1 C491.1,401.6 485.4,402.0 480.6,402.3 C475.8,402.6 468.8,402.8 466.5,402.9 L466.5,411.5 L466.5,411.5 C471.9,411.5 491.2,411.4 499.1,411.2 C507.0,410.9 509.5,410.7 513.8,410.1 C518.2,409.4 521.6,408.2 524.9,407.2 C528.2,406.2 530.8,405.3 533.5,404.2 C536.3,403.0 539.1,401.9 541.5,400.5 C544.0,399.1 546.5,397.4 548.3,395.8 C550.1,394.1 551.1,392.5 552.2,390.6 C553.4,388.7 554.4,386.5 555.1,384.5 C555.8,382.4 556.1,380.4 556.3,378.3 C556.5,376.3 556.3,373.2 556.3,372.2 Z" fill="#fff" stroke="#fff" stroke-width="0.1" stroke-linejoin="round" stroke-linecap="round" />
<path d="M545.8,372.2 C545.6,373.1 545.1,375.9 544.4,377.7 C543.7,379.4 542.7,381.0 541.5,382.6 C540.3,384.3 539.0,386.0 537.2,387.5 C535.5,389.1 533.3,390.7 531.1,391.8 C528.8,393.0 526.2,393.7 523.7,394.6 C521.2,395.4 519.2,396.0 516.3,396.8 C513.4,397.5 509.9,398.3 506.5,399.0 C503.0,399.7 499.7,400.5 495.4,401.1 C491.1,401.6 485.4,402.0 480.6,402.3 C475.8,402.6 468.8,402.8 466.5,402.9" fill="none" stroke="#231f20" stroke-width="1.3" stroke-linejoin="round" stroke-linecap="round" />
<path d="M556.3,372.2 C556.3,373.2 556.5,376.3 556.3,378.3 C556.1,380.4 555.8,382.4 555.1,384.5 C554.4,386.5 553.4,388.7 552.2,390.6 C551.1,392.5 550.1,394.1 548.3,395.8 C546.5,397.4 544.0,399.1 541.5,400.5 C539.1,401.9 536.3,403.0 533.5,404.2 C530.8,405.3 528.2,406.2 524.9,407.2 C521.6,408.2 518.2,409.4 513.8,410.1 C509.5,410.7 507.0,410.9 499.1,411.2 C491.2,411.4 471.9,411.5 466.5,411.5" fill="none" stroke="#231f20" stroke-width="1.3" stroke-linejoin="round" stroke-linecap="round" />
<polyline points="462.8,383.2 462.8,404.2 466.5,411.5" fill="none" stroke="#231f20" stroke-width="2.2" stroke-linejoin="round" stroke-linecap="round"/>
<polyline points="466.5,402.9 466.5,411.5" fill="none" stroke="#231f20" stroke-width="1.0" stroke-linejoin="round" stroke-linecap="round"/>
<polyline points="463.4,386.9 468.9,386.9" fill="none" stroke="#231f20" stroke-width="1.0" stroke-linejoin="round" stroke-linecap="round"/>
<polyline points="463.4,390.0 468.9,390.0" fill="none" stroke="#231f20" stroke-width="1.0" stroke-linejoin="round" stroke-linecap="round"/>
<polyline points="463.4,393.1 468.9,393.1" fill="none" stroke="#231f20" stroke-width="1.0" stroke-linejoin="round" stroke-linecap="round"/>
<polyline points="463.4,396.2 468.9,396.2" fill="none" stroke="#231f20" stroke-width="1.0" stroke-linejoin="round" stroke-linecap="round"/>
<polyline points="463.4,399.2 468.9,399.2" fill="none" stroke="#231f20" stroke-width="1.0" stroke-linejoin="round" stroke-linecap="round"/>
<polyline points="468.9,386.9 468.9,397.4 464.6,397.4" fill="none" stroke="#231f20" stroke-width="1.0" stroke-linejoin="round" stroke-linecap="round"/>
<path d="M466.5,411.5 C470.3,411.8 482.2,413.2 489.2,413.4 C496.3,413.6 504.0,413.2 508.9,412.8 C513.8,412.4 517.1,411.2 518.8,410.9" fill="none" stroke="#231f20" stroke-width="1.6" stroke-linejoin="round" stroke-linecap="round" />
<circle cx="532.9" cy="412.8" r="2.5" fill="none" stroke="#231f20" stroke-width="1.3"/>
<circle cx="532.9" cy="412.8" r="5.0" fill="none" stroke="#231f20" stroke-width="1.3"/>
<circle cx="532.9" cy="412.8" r="7.4" fill="none" stroke="#231f20" stroke-width="1.3"/>
<path d="M518.5,411.5 C519.0,411.0 520.3,409.2 521.5,408.5 C522.8,407.7 525.4,407.2 526.2,406.9" fill="none" stroke="#231f20" stroke-width="1.0" stroke-linejoin="round" stroke-linecap="round" />
<rect x="556.0" y="362.0" width="14.0" height="3.0" rx="0" fill="none" stroke="#231f20" stroke-width="1.0" />
<rect x="556.0" y="367.5" width="14.0" height="3.0" rx="0" fill="none" stroke="#231f20" stroke-width="1.0" />
<line x1="449.0" y1="411.5" x2="520.0" y2="411.5" stroke="#231f20" stroke-width="1.0" />
<polyline points="450.8,413.1 450.8,418.5 455.4,418.5 455.4,413.1" fill="none" stroke="#231f20" stroke-width="1.0" stroke-linejoin="round" stroke-linecap="round"/>
<polyline points="450.0,430.8 478.5,430.8" fill="none" stroke="#231f20" stroke-width="1.0" stroke-linejoin="round" stroke-linecap="round"/>
<polyline points="450.0,434.6 464.6,434.6 464.6,450.8" fill="none" stroke="#231f20" stroke-width="1.0" stroke-linejoin="round" stroke-linecap="round"/>
<polyline points="481.5,383.1 481.5,403.1" fill="none" stroke="#231f20" stroke-width="1.0" stroke-linejoin="round" stroke-linecap="round"/>
<polyline points="490.0,383.1 490.0,389.2 495.4,389.2 495.4,403.1" fill="none" stroke="#231f20" stroke-width="1.0" stroke-linejoin="round" stroke-linecap="round"/>
<polyline points="503.8,383.1 503.8,403.1" fill="none" stroke="#231f20" stroke-width="1.0" stroke-linejoin="round" stroke-linecap="round"/>
<polyline points="510.8,383.1 510.8,392.3 518.5,394.6" fill="none" stroke="#231f20" stroke-width="1.0" stroke-linejoin="round" stroke-linecap="round"/>
<polyline points="466.2,387.7 469.2,387.7 469.2,396.9 466.2,396.9" fill="none" stroke="#231f20" stroke-width="1.0" stroke-linejoin="round" stroke-linecap="round"/>
<polyline points="471.5,394.6 471.5,400.0 474.2,400.0 474.2,394.6" fill="none" stroke="#231f20" stroke-width="1.0" stroke-linejoin="round" stroke-linecap="round"/>
<polyline points="463.8,383.1 518.5,383.1" fill="none" stroke="#231f20" stroke-width="1.3" stroke-linejoin="round" stroke-linecap="round"/>
<path d="M160.4,267.8 L160.4,261.3 Q160.4,259.7 158.8,259.7 L135.6,259.7 Q134,259.7 134,261.3 L134,284.5 Q134,286.1 135.6,286.1 L160.4,286.1 L160.4,282.8" fill="none" stroke="#231f20" stroke-width="2.0" stroke-linejoin="round" stroke-linecap="round" />
<path d="M141.0,286.1 C141.0,288.0 140.5,294.4 141.0,297.4 C141.5,300.3 143.2,301.7 144.2,303.8 C145.2,306.0 146.3,307.8 146.9,310.3 C147.5,312.8 147.6,315.8 147.8,318.9 C148.0,322.0 148.0,327.4 148.0,329.0" fill="none" stroke="#231f20" stroke-width="1.8" stroke-linejoin="round" stroke-linecap="round" />
<path d="M145.8,286.1 C145.9,287.6 145.5,292.6 146.4,295.2 C147.3,297.8 150.1,299.5 151.2,301.7 C152.4,303.8 152.8,305.6 153.2,308.2 C153.5,310.7 153.3,315.3 153.4,316.8" fill="none" stroke="#231f20" stroke-width="1.0" stroke-linejoin="round" stroke-linecap="round" />
<path d="M146.9,286.1 C147.0,287.5 146.7,292.2 147.6,294.7 C148.5,297.1 151.2,298.7 152.3,300.8 C153.4,303.0 153.9,305.0 154.2,307.6 C154.6,310.3 154.4,315.2 154.5,316.8" fill="none" stroke="#231f20" stroke-width="1.0" stroke-linejoin="round" stroke-linecap="round" />
<path d="M148.2,286.1 C148.3,287.4 148.0,291.8 148.9,294.2 C149.7,296.5 152.3,297.9 153.4,300.1 C154.5,302.2 155.0,304.7 155.3,307.1 C155.7,309.5 155.5,313.4 155.5,314.6" fill="none" stroke="#231f20" stroke-width="1.0" stroke-linejoin="round" stroke-linecap="round" />
<path d="M150.2,286.1 C150.3,287.0 150.3,290.1 151.2,291.5 C152.1,292.8 153.7,294.0 155.5,294.2 C157.3,294.3 160.0,293.6 162.0,292.5 C164.0,291.5 165.8,289.0 167.4,287.7 C169.0,286.3 171.0,285.0 171.7,284.5" fill="none" stroke="#231f20" stroke-width="1.6" stroke-linejoin="round" stroke-linecap="round" />
<path d="M151.4,286.1 C151.6,286.8 151.8,289.3 152.5,290.4 C153.3,291.5 154.6,292.6 156.1,292.8 C157.6,292.9 159.7,292.3 161.5,291.2 C163.2,290.2 165.0,287.9 166.5,286.6 C168.0,285.3 169.9,283.9 170.6,283.4" fill="none" stroke="#231f20" stroke-width="1.0" stroke-linejoin="round" stroke-linecap="round" />
<path d="M144.2,286.1 L144.2,290.9" fill="none" stroke="#231f20" stroke-width="2.2" stroke-linejoin="round" stroke-linecap="round" />
<path d="M165.2,297.4 C165.6,296.4 166.3,293.3 167.2,291.5 C168.1,289.7 170.0,287.4 170.6,286.6" fill="none" stroke="#231f20" stroke-width="1.0" stroke-linejoin="round" stroke-linecap="round" />
<path d="M171.5,297.9 C171.8,296.8 172.7,293.4 173.6,291.5 C174.6,289.5 176.5,287.0 177.1,286.1" fill="none" stroke="#231f20" stroke-width="1.0" stroke-linejoin="round" stroke-linecap="round" />
<path d="M174.9,297.9 C175.2,296.9 176.0,293.8 176.9,292.0 C177.7,290.2 179.4,288.0 179.9,287.2" fill="none" stroke="#231f20" stroke-width="1.0" stroke-linejoin="round" stroke-linecap="round" />
<path d="M178.2,298.2 C178.5,297.3 179.2,294.3 180.1,292.5 C181.0,290.8 182.8,288.5 183.3,287.7" fill="none" stroke="#231f20" stroke-width="1.0" stroke-linejoin="round" stroke-linecap="round" />
<path d="M176.0,282.3 C175.9,281.5 174.9,279.1 175.1,277.5 C175.4,275.8 176.2,273.8 177.6,272.6 C179.0,271.4 181.7,270.7 183.5,270.5 C185.4,270.2 188.0,270.9 188.9,271.0" fill="none" stroke="#231f20" stroke-width="1.4" stroke-linejoin="round" stroke-linecap="round" />
<path d="M176.0,282.3 C176.4,282.8 177.4,284.5 178.7,285.0 C179.9,285.5 182.7,285.4 183.5,285.5" fill="none" stroke="#231f20" stroke-width="1.3" stroke-linejoin="round" stroke-linecap="round" />
<polyline points="187.3,271.0 191.6,267.2" fill="none" stroke="#231f20" stroke-width="1.0" stroke-linejoin="round" stroke-linecap="round"/>
<polyline points="188.3,272.0 192.6,268.2" fill="none" stroke="#231f20" stroke-width="1.0" stroke-linejoin="round" stroke-linecap="round"/>
<polyline points="189.2,272.9 193.6,269.2" fill="none" stroke="#231f20" stroke-width="1.0" stroke-linejoin="round" stroke-linecap="round"/>
<polyline points="190.2,273.9 194.5,270.1" fill="none" stroke="#231f20" stroke-width="1.0" stroke-linejoin="round" stroke-linecap="round"/>
<polyline points="191.2,274.9 195.5,271.1" fill="none" stroke="#231f20" stroke-width="1.0" stroke-linejoin="round" stroke-linecap="round"/>
<polyline points="192.2,275.8 196.5,272.1" fill="none" stroke="#231f20" stroke-width="1.0" stroke-linejoin="round" stroke-linecap="round"/>
<rect x="154.5" y="314.0" width="6.5" height="9.0" rx="0" fill="none" stroke="#231f20" stroke-width="1.3" />
<line x1="162.0" y1="314.0" x2="162.0" y2="340.0" stroke="#231f20" stroke-width="1.0" />
<line x1="164.5" y1="314.0" x2="164.5" y2="340.0" stroke="#231f20" stroke-width="1.0" />
<line x1="167.0" y1="314.0" x2="167.0" y2="340.0" stroke="#231f20" stroke-width="1.0" />
<rect x="173.5" y="315.0" width="4.5" height="14.0" rx="0" fill="#bbb" stroke="#231f20" stroke-width="1.0" />
<line x1="173.0" y1="329.0" x2="173.0" y2="414.0" stroke="#231f20" stroke-width="1.0" />
<line x1="175.4" y1="329.0" x2="175.4" y2="414.0" stroke="#231f20" stroke-width="1.3" />
<line x1="178.2" y1="329.0" x2="178.2" y2="414.0" stroke="#231f20" stroke-width="1.0" />
<path d="M148.5,340.0 C147.9,342.3 146.0,349.2 145.4,353.8 C144.7,358.5 144.0,362.3 144.6,367.7 C145.3,373.1 147.2,381.9 149.2,386.2 C151.3,390.4 154.1,391.9 156.9,393.1 C159.7,394.2 164.6,393.1 166.2,393.1" fill="none" stroke="#231f20" stroke-width="1.8" stroke-linejoin="round" stroke-linecap="round" />
<path d="M151.5,340.0 C151.2,342.3 149.7,349.2 149.2,353.8 C148.8,358.5 148.3,362.8 148.9,367.7 C149.6,372.6 151.4,379.5 153.1,383.1 C154.8,386.6 157.1,387.8 159.2,388.9 C161.4,390.0 165.0,389.4 166.2,389.5" fill="none" stroke="#231f20" stroke-width="1.4" stroke-linejoin="round" stroke-linecap="round" />
<path d="M154.6,343.1 C155.0,344.4 155.4,349.2 156.9,350.8 C158.5,352.3 162.3,353.1 163.8,352.3 C165.4,351.5 165.8,347.2 166.2,346.2" fill="none" stroke="#231f20" stroke-width="1.3" stroke-linejoin="round" stroke-linecap="round" />
<circle cx="176.2" cy="376.2" r="11.5" fill="none" stroke="#231f20" stroke-width="1.3"/>
<circle cx="176.2" cy="376.2" r="9.6" fill="none" stroke="#231f20" stroke-width="1.0"/>
<polyline points="185.4,365.8 259.2,395.7" fill="none" stroke="#231f20" stroke-width="1.3" stroke-linejoin="round" stroke-linecap="round"/>
<polyline points="184.3,368.0 258.2,397.8" fill="none" stroke="#231f20" stroke-width="1.3" stroke-linejoin="round" stroke-linecap="round"/>
<polyline points="167.7,386.2 167.7,401.5 174.6,401.5 174.6,386.2" fill="none" stroke="#231f20" stroke-width="1.3" stroke-linejoin="round" stroke-linecap="round"/>
<path d="M166.2,401.5 C165.8,403.3 163.8,409.2 163.8,412.3 C163.8,415.4 163.5,418.6 166.2,420.0 C168.8,421.4 177.7,420.6 180.0,420.8" fill="none" stroke="#231f20" stroke-width="1.4" stroke-linejoin="round" stroke-linecap="round" />
<path d="M173.1,401.5 C173.5,402.6 174.0,406.0 175.4,407.7 C176.8,409.4 180.5,410.9 181.5,411.5" fill="none" stroke="#231f20" stroke-width="1.3" stroke-linejoin="round" stroke-linecap="round" />
<rect x="170.0" y="419.0" width="12.0" height="2.6" rx="0" fill="none" stroke="#231f20" stroke-width="1.0" />
<polyline points="180.8,374.6 184.6,370.8 188.5,374.6 184.6,378.5 180.8,374.6" fill="none" stroke="#231f20" stroke-width="1.3" stroke-linejoin="round" stroke-linecap="round"/>
<polyline points="192.3,376.9 198.5,373.1 203.1,380.0 196.9,384.6 192.3,376.9" fill="none" stroke="#231f20" stroke-width="1.3" stroke-linejoin="round" stroke-linecap="round"/>
<polyline points="191.5,385.4 196.2,385.4 196.2,398.5 191.5,398.5 191.5,385.4" fill="none" stroke="#231f20" stroke-width="1.3" stroke-linejoin="round" stroke-linecap="round"/>
<circle cx="190.0" cy="390.0" r="2.6" fill="none" stroke="#231f20" stroke-width="1.3"/>
<circle cx="195.0" cy="397.0" r="5.0" fill="none" stroke="#231f20" stroke-width="1.8"/>
<line x1="203.8" y1="383.0" x2="261.5" y2="383.0" stroke="#231f20" stroke-width="1.3" />
<line x1="203.8" y1="385.5" x2="261.5" y2="385.5" stroke="#231f20" stroke-width="1.0" />
<line x1="209.0" y1="400.0" x2="235.4" y2="400.0" stroke="#231f20" stroke-width="1.3" />
<line x1="209.0" y1="402.5" x2="235.4" y2="402.5" stroke="#231f20" stroke-width="1.0" />
<polyline points="206.2,383.8 206.2,389.2 209.2,391.5 212.3,389.2 212.3,383.8" fill="none" stroke="#231f20" stroke-width="1.0" stroke-linejoin="round" stroke-linecap="round"/>
<line x1="209.2" y1="391.0" x2="209.2" y2="398.0" stroke="#231f20" stroke-width="1.0" />
<rect x="252.0" y="386.5" width="8.0" height="5.0" rx="0" fill="#ccc" stroke="#231f20" stroke-width="1.0" />
<circle cx="189.2" cy="421.5" r="2.6" fill="none" stroke="#231f20" stroke-width="1.2"/>
<circle cx="189.2" cy="421.5" r="4.6" fill="none" stroke="#231f20" stroke-width="1.3"/>
<circle cx="189.2" cy="421.5" r="6.6" fill="none" stroke="#231f20" stroke-width="1.3"/>
<circle cx="189.2" cy="421.5" r="8.6" fill="none" stroke="#231f20" stroke-width="1.0"/>
<path d="M178.5,420.0 C178.8,418.5 179.0,413.5 180.8,410.8 C182.6,408.1 186.0,405.4 189.2,403.8 C192.4,402.3 196.4,401.4 200.0,401.5 C203.6,401.7 207.7,402.6 210.8,404.6 C213.8,406.7 216.8,410.3 218.5,413.8 C220.1,417.4 220.3,422.3 220.8,426.2 C221.3,430.0 221.4,435.1 221.5,436.9" fill="none" stroke="#231f20" stroke-width="1.3" stroke-linejoin="round" stroke-linecap="round" />
<path d="M181.5,420.0 C181.9,418.7 182.3,414.6 183.8,412.3 C185.4,410.1 188.1,407.7 190.8,406.5 C193.5,405.2 198.5,404.9 200.0,404.6" fill="none" stroke="#231f20" stroke-width="1.0" stroke-linejoin="round" stroke-linecap="round" />
<path d="M173.8,426.2 C174.1,427.7 173.6,432.8 175.4,435.4 C177.2,437.9 180.5,440.3 184.6,441.5 C188.7,442.8 197.4,442.8 200.0,443.1" fill="none" stroke="#231f20" stroke-width="1.6" stroke-linejoin="round" stroke-linecap="round" />
<path d="M171.5,426.2 C171.8,427.9 171.2,434.0 173.1,436.9 C175.0,439.9 178.6,442.4 183.1,443.8 C187.6,445.3 197.2,445.1 200.0,445.4" fill="none" stroke="#231f20" stroke-width="1.3" stroke-linejoin="round" stroke-linecap="round" />
<polyline points="193.8,413.8 200.0,404.6" fill="none" stroke="#231f20" stroke-width="1.4" stroke-linejoin="round" stroke-linecap="round"/>
<polyline points="198.5,413.8 200.8,413.8 200.8,428.5 198.5,428.5" fill="none" stroke="#231f20" stroke-width="1.3" stroke-linejoin="round" stroke-linecap="round"/>
<polyline points="203.1,413.1 203.1,429.2" fill="none" stroke="#231f20" stroke-width="1.3" stroke-linejoin="round" stroke-linecap="round"/>
<path d="M203.1,420.0 C203.6,419.3 204.1,416.2 206.2,415.7 C208.2,415.2 213.1,415.2 215.4,416.9 C217.7,418.7 218.9,422.6 220.0,426.2 C221.1,429.7 221.5,436.4 221.8,438.5" fill="none" stroke="#231f20" stroke-width="1.5" stroke-linejoin="round" stroke-linecap="round" />
<polyline points="203.1,420.0 203.1,440.0 221.8,438.5" fill="none" stroke="#231f20" stroke-width="1.5" stroke-linejoin="round" stroke-linecap="round"/>
<rect x="196.0" y="434.0" width="7.0" height="6.0" rx="0" fill="none" stroke="#231f20" stroke-width="1.3" />
<rect x="198.0" y="436.0" width="3.0" height="3.0" rx="0" fill="none" stroke="#231f20" stroke-width="1.0" />
<path d="M192.3,413.8 C193.6,412.3 198.3,407.2 200.0,404.6 C201.7,402.1 202.6,400.4 202.3,398.5 C202.1,396.5 199.1,394.0 198.5,393.1" fill="none" stroke="#231f20" stroke-width="1.3" stroke-linejoin="round" stroke-linecap="round" />
<circle cx="258.2" cy="432.5" r="15.0" fill="none" stroke="#231f20" stroke-width="1.3"/>
<path d="M230.8,412.3 C231.3,411.3 232.1,408.2 233.8,406.2 C235.6,404.2 238.7,401.7 241.5,400.3 C244.4,398.9 247.8,397.8 250.8,397.8 C253.7,397.9 256.4,399.1 259.2,400.8 C262.1,402.4 265.0,405.0 267.7,407.7 C270.4,410.4 273.3,413.6 275.4,416.9 C277.4,420.3 279.0,424.1 280.0,427.7 C281.0,431.3 281.3,436.7 281.5,438.5" fill="none" stroke="#231f20" stroke-width="1.3" stroke-linejoin="round" stroke-linecap="round" />
<path d="M227.7,420.0 L230.8,412.3" fill="none" stroke="#231f20" stroke-width="1.3" stroke-linejoin="round" stroke-linecap="round" />
<path d="M233.1,426.2 C234.0,425.8 236.8,425.4 238.5,423.8 C240.1,422.3 241.0,419.0 243.1,416.9 C245.1,414.9 247.7,412.6 250.8,411.5 C253.8,410.5 258.3,410.0 261.5,410.8 C264.7,411.5 268.6,415.3 270.0,416.2" fill="none" stroke="#231f20" stroke-width="1.0" stroke-linejoin="round" stroke-linecap="round" />
<path d="M227.7,420.0 C227.4,421.0 226.2,423.8 226.2,426.2 C226.2,428.5 227.7,431.3 227.7,433.8 C227.7,436.4 226.2,438.4 226.2,441.5 C226.2,444.7 227.4,451.0 227.7,452.9" fill="none" stroke="#231f20" stroke-width="1.3" stroke-linejoin="round" stroke-linecap="round" />
<circle cx="243.0" cy="407.7" r="4.6" fill="#fff" stroke="#231f20" stroke-width="1.3"/>
<circle cx="243.0" cy="407.7" r="4.6" fill="none" stroke="#231f20" stroke-width="1.3"/>
<circle cx="232.8" cy="434.6" r="4.6" fill="#fff" stroke="#231f20" stroke-width="1.3"/>
<circle cx="232.8" cy="434.6" r="3.0" fill="none" stroke="#231f20" stroke-width="1.3"/>
<circle cx="232.8" cy="434.6" r="1.6" fill="none" stroke="#231f20" stroke-width="1.0"/>
<circle cx="233.8" cy="446.2" r="4.6" fill="#fff" stroke="#231f20" stroke-width="1.3"/>
<circle cx="233.8" cy="446.2" r="3.0" fill="none" stroke="#231f20" stroke-width="1.3"/>
<circle cx="233.8" cy="446.2" r="1.6" fill="none" stroke="#231f20" stroke-width="1.0"/>
<circle cx="272.5" cy="457.5" r="4.6" fill="none" stroke="#231f20" stroke-width="1.3"/>
<path d="M223.8,451.2 C224.9,452.2 227.9,455.9 230.0,457.3 C232.1,458.7 234.1,459.1 236.2,459.6 C238.2,460.1 240.3,460.8 242.3,460.4 C244.4,460.0 245.9,457.9 248.5,457.3 C251.0,456.7 254.6,456.4 257.7,456.5 C260.8,456.7 265.4,457.8 266.9,458.1" fill="none" stroke="#231f20" stroke-width="1.3" stroke-linejoin="round" stroke-linecap="round" />
<path d="M236.2,455.0 C237.2,455.9 240.0,458.8 242.3,460.4 C244.6,461.9 246.4,463.3 250.0,464.2 C253.6,465.1 259.5,466.2 263.8,465.8 C268.2,465.4 273.3,463.5 276.2,461.9 C279.0,460.4 280.0,457.4 280.8,456.5" fill="none" stroke="#231f20" stroke-width="1.3" stroke-linejoin="round" stroke-linecap="round" />
<path d="M222.3,429.6 C222.6,431.4 223.1,437.1 223.8,440.4 C224.6,443.7 225.4,447.1 226.9,449.6 C228.5,452.2 232.1,454.7 233.1,455.8" fill="none" stroke="#231f20" stroke-width="1.3" stroke-linejoin="round" stroke-linecap="round" />
<path d="M208.5,445.0 C209.5,444.5 212.6,442.2 214.6,441.9 C216.7,441.7 220.3,442.2 220.8,443.5 C221.3,444.7 218.5,447.8 217.7,449.6 C216.9,451.4 215.4,453.7 216.2,454.2 C216.9,454.7 220.8,453.7 222.3,452.7 C223.8,451.7 224.9,448.8 225.4,448.1" fill="none" stroke="#231f20" stroke-width="1.0" stroke-linejoin="round" stroke-linecap="round" />
<polyline points="280.8,440.4 285.4,455.8" fill="none" stroke="#231f20" stroke-width="1.3" stroke-linejoin="round" stroke-linecap="round"/>
<polyline points="277.7,434.2 280.8,440.4" fill="none" stroke="#231f20" stroke-width="1.3" stroke-linejoin="round" stroke-linecap="round"/>
<polyline points="259.2,395.7 262.3,399.2 268.5,395.4 265.4,391.5" fill="none" stroke="#231f20" stroke-width="1.3" stroke-linejoin="round" stroke-linecap="round"/>
<path d="M263.1,384.6 C263.8,384.4 266.2,382.8 267.7,383.1 C269.2,383.3 271.2,384.6 272.3,386.2 C273.5,387.7 274.4,390.3 274.6,392.3 C274.9,394.4 274.0,397.4 273.8,398.5" fill="none" stroke="#231f20" stroke-width="1.3" stroke-linejoin="round" stroke-linecap="round" />
<path d="M255.4,381.5 C256.0,381.0 257.9,377.9 259.2,378.5 C260.5,379.0 262.4,383.6 263.1,384.6" fill="none" stroke="#231f20" stroke-width="1.0" stroke-linejoin="round" stroke-linecap="round" />
<polyline points="298.5,440.4 319.2,433.5" fill="none" stroke="#231f20" stroke-width="1.3" stroke-linejoin="round" stroke-linecap="round"/>
<polyline points="313.1,437.3 315.4,443.5" fill="none" stroke="#231f20" stroke-width="1.0" stroke-linejoin="round" stroke-linecap="round"/>
<polyline points="317.7,435.8 320.0,441.9" fill="none" stroke="#231f20" stroke-width="1.0" stroke-linejoin="round" stroke-linecap="round"/>
<polyline points="274.0,194.8 310.6,231.1" fill="none" stroke="#231f20" stroke-width="1.5" stroke-linejoin="round" stroke-linecap="round"/>
<polyline points="273.2,196.5 309.0,232.2" fill="none" stroke="#231f20" stroke-width="1.3" stroke-linejoin="round" stroke-linecap="round"/>
<polyline points="272.4,198.1 307.4,233.1" fill="none" stroke="#231f20" stroke-width="1.3" stroke-linejoin="round" stroke-linecap="round"/>
<polyline points="274.8,195.6 309.9,231.7" fill="none" stroke="#231f20" stroke-width="1.0" stroke-linejoin="round" stroke-linecap="round"/>
<polyline points="274.0,194.8 272.4,198.1" fill="none" stroke="#231f20" stroke-width="1.3" stroke-linejoin="round" stroke-linecap="round"/>
<polyline points="310.6,231.1 307.4,233.1" fill="none" stroke="#231f20" stroke-width="1.3" stroke-linejoin="round" stroke-linecap="round"/>
<path d="M283.7,200.8 L285.8,199.5 L289.1,199.5 L307.1,216.9 L307.7,219.6 L306.0,222.8" fill="none" stroke="#231f20" stroke-width="1.3" stroke-linejoin="round" stroke-linecap="round" />
<polyline points="269.7,203.5 270.4,211.5 278.8,217.1 281.2,215.8" fill="none" stroke="#231f20" stroke-width="1.0" stroke-linejoin="round" stroke-linecap="round"/>
<polyline points="288.5,224.5 274.5,237.9" fill="none" stroke="#231f20" stroke-width="1.3" stroke-linejoin="round" stroke-linecap="round"/>
<polyline points="289.6,226.1 299.3,236.3 304.2,232.5" fill="none" stroke="#231f20" stroke-width="1.3" stroke-linejoin="round" stroke-linecap="round"/>
<polyline points="299.3,236.3 300.4,239.5 306.8,246.0" fill="none" stroke="#231f20" stroke-width="1.3" stroke-linejoin="round" stroke-linecap="round"/>
<polyline points="304.2,232.5 304.7,238.5" fill="none" stroke="#231f20" stroke-width="1.0" stroke-linejoin="round" stroke-linecap="round"/>
<polyline points="272.4,204.0 300.4,254.6" fill="none" stroke="#231f20" stroke-width="1.0" stroke-linejoin="round" stroke-linecap="round"/>
<path d="M260.5,225.5 C260.4,225.2 259.5,224.0 259.7,223.4 C259.9,222.8 261.3,222.0 261.6,221.8" fill="none" stroke="#231f20" stroke-width="1.0" stroke-linejoin="round" stroke-linecap="round" />
<path d="M267.5,237.4 C267.4,236.8 266.4,235.0 266.5,234.2 C266.6,233.3 267.8,232.4 268.1,232.0" fill="none" stroke="#231f20" stroke-width="1.0" stroke-linejoin="round" stroke-linecap="round" />
<path d="M262.2,237.9 C262.6,237.8 264.2,237.1 264.8,237.4 C265.5,237.7 265.7,239.2 265.9,239.5" fill="none" stroke="#231f20" stroke-width="1.0" stroke-linejoin="round" stroke-linecap="round" />
<circle cx="314.4" cy="248.7" r="4.4" fill="#fff" stroke="#231f20" stroke-width="1.3"/>
<path d="M309.5,244 A5.5,5.5 0 0 0 309.5,253.5" fill="none" stroke="#231f20" stroke-width="1.3" stroke-linejoin="round" stroke-linecap="round" />
<path d="M307.5,243 A7,7 0 0 0 307.5,254.5" fill="none" stroke="#231f20" stroke-width="1.0" stroke-linejoin="round" stroke-linecap="round" />
<polyline points="317.1,203.5 328.4,200.2 328.4,211.0 317.1,211.0 317.1,203.5" fill="none" stroke="#231f20" stroke-width="1.0" stroke-linejoin="round" stroke-linecap="round"/>
<polyline points="318.7,237.4 325.2,237.4 325.2,243.8 318.7,243.8 318.7,237.4" fill="none" stroke="#231f20" stroke-width="1.0" stroke-linejoin="round" stroke-linecap="round"/>
<polyline points="319.8,244.9 333.8,244.9" fill="none" stroke="#231f20" stroke-width="1.3" stroke-linejoin="round" stroke-linecap="round"/>
<polyline points="319.8,248.7 332.7,248.7" fill="none" stroke="#231f20" stroke-width="1.0" stroke-linejoin="round" stroke-linecap="round"/>
<polyline points="312.2,254.6 332.7,254.6 333.8,258.9" fill="none" stroke="#231f20" stroke-width="1.0" stroke-linejoin="round" stroke-linecap="round"/>
<polyline points="319.8,251.4 331.6,251.4 331.6,253.5" fill="none" stroke="#231f20" stroke-width="1.4" stroke-linejoin="round" stroke-linecap="round"/>
<path d="M313.3,265.4 C316.5,264.3 325.9,260.8 332.7,258.9 C339.5,257.0 350.6,254.9 354.2,254.1" fill="none" stroke="#231f20" stroke-width="1.3" stroke-linejoin="round" stroke-linecap="round" />
<path d="M334.3,246.0 C336.2,245.9 342.5,245.0 345.6,245.5 C348.8,245.9 351.9,248.2 353.1,248.7" fill="none" stroke="#231f20" stroke-width="1.0" stroke-linejoin="round" stroke-linecap="round" />
<polyline points="334.3,246.0 334.3,254.6" fill="none" stroke="#231f20" stroke-width="1.0" stroke-linejoin="round" stroke-linecap="round"/>
<path d="M353.5,255.1 C351.9,255.5 348.2,256.5 343.8,257.5 C339.5,258.6 333.1,260.2 327.7,261.5 C322.3,262.9 314.2,264.9 311.5,265.6" fill="none" stroke="#231f20" stroke-width="1.3" stroke-linejoin="round" stroke-linecap="round" />
<path d="M368.5,255.1 C370.1,255.5 373.8,256.5 378.2,257.5 C382.5,258.6 388.9,260.2 394.3,261.5 C399.7,262.9 407.8,264.9 410.5,265.6" fill="none" stroke="#231f20" stroke-width="1.3" stroke-linejoin="round" stroke-linecap="round" />
<rect x="356.2" y="247.5" width="9.2" height="6.5" rx="0" fill="#fff" stroke="#231f20" stroke-width="1.3" />
<line x1="319.0" y1="244.2" x2="423.5" y2="244.2" stroke="#231f20" stroke-width="1.3" />
<line x1="319.0" y1="247.9" x2="420.0" y2="247.9" stroke="#231f20" stroke-width="1.3" />
<polyline points="391.2,248.4 391.2,257.0 383.7,257.0 383.7,262.4" fill="none" stroke="#231f20" stroke-width="1.0" stroke-linejoin="round" stroke-linecap="round"/>
<polyline points="334.2,247.3 334.2,258.1 313.7,258.1 313.7,264.5" fill="none" stroke="#231f20" stroke-width="1.0" stroke-linejoin="round" stroke-linecap="round"/>
<polyline points="319.1,250.5 332.0,250.5 332.0,253.8 319.1,253.8" fill="none" stroke="#231f20" stroke-width="1.0" stroke-linejoin="round" stroke-linecap="round"/>
<polyline points="154.0,317.7 161.4,317.7 161.4,325.7 154.0,325.7 154.0,317.7" fill="none" stroke="#231f20" stroke-width="1.3" stroke-linejoin="round" stroke-linecap="round"/>
<polyline points="149.7,326.9 161.4,326.9 161.4,333.1 149.7,333.1 149.7,326.9" fill="none" stroke="#231f20" stroke-width="1.3" stroke-linejoin="round" stroke-linecap="round"/>
<polyline points="149.7,335.5 164.5,335.5 164.5,344.2 149.7,344.2 149.7,335.5" fill="none" stroke="#231f20" stroke-width="1.3" stroke-linejoin="round" stroke-linecap="round"/>
<path d="M152.8,344.2 C153.1,345.2 153.3,349.0 154.6,350.3 C155.9,351.6 159.0,352.6 160.8,352.2 C162.5,351.7 164.5,349.2 165.1,347.8 C165.7,346.5 164.6,344.8 164.5,344.2" fill="none" stroke="#231f20" stroke-width="1.3" stroke-linejoin="round" stroke-linecap="round" />
<polyline points="163.2,314.6 163.2,341.7" fill="none" stroke="#231f20" stroke-width="1.0" stroke-linejoin="round" stroke-linecap="round"/>
<polyline points="165.1,314.6 165.1,342.9" fill="none" stroke="#231f20" stroke-width="1.0" stroke-linejoin="round" stroke-linecap="round"/>
<polyline points="166.9,336.8 172.5,334.9 172.5,347.8 166.9,346.0" fill="none" stroke="#231f20" stroke-width="1.0" stroke-linejoin="round" stroke-linecap="round"/>
<polyline points="172.5,335.8 174.1,335.8" fill="none" stroke="#231f20" stroke-width="1.0" stroke-linejoin="round" stroke-linecap="round"/>
<polyline points="172.5,337.3 174.1,337.3" fill="none" stroke="#231f20" stroke-width="1.0" stroke-linejoin="round" stroke-linecap="round"/>
<polyline points="172.5,338.7 174.1,338.7" fill="none" stroke="#231f20" stroke-width="1.0" stroke-linejoin="round" stroke-linecap="round"/>
<polyline points="172.5,340.2 174.1,340.2" fill="none" stroke="#231f20" stroke-width="1.0" stroke-linejoin="round" stroke-linecap="round"/>
<polyline points="172.5,341.7 174.1,341.7" fill="none" stroke="#231f20" stroke-width="1.0" stroke-linejoin="round" stroke-linecap="round"/>
<polyline points="172.5,343.2 174.1,343.2" fill="none" stroke="#231f20" stroke-width="1.0" stroke-linejoin="round" stroke-linecap="round"/>
<polyline points="172.5,344.6 174.1,344.6" fill="none" stroke="#231f20" stroke-width="1.0" stroke-linejoin="round" stroke-linecap="round"/>
<polyline points="172.5,346.1 174.1,346.1" fill="none" stroke="#231f20" stroke-width="1.0" stroke-linejoin="round" stroke-linecap="round"/>
<path d="M149.7,344.2 C149.3,346.6 147.9,352.9 147.2,358.9 C146.5,365.0 145.7,376.8 145.4,380.3" fill="none" stroke="#231f20" stroke-width="1.8" stroke-linejoin="round" stroke-linecap="round" />
<path d="M151.5,344.8 C151.2,347.1 150.0,353.0 149.4,358.9 C148.9,364.9 148.4,376.8 148.2,380.3" fill="none" stroke="#231f20" stroke-width="1.5" stroke-linejoin="round" stroke-linecap="round" />
<path d="M153.4,347.8 C153.2,350.5 152.3,358.4 152.2,363.8 C152.1,369.3 152.7,377.6 152.8,380.3" fill="none" stroke="#231f20" stroke-width="1.2" stroke-linejoin="round" stroke-linecap="round" />
<path d="M160.8,352.8 C161.0,354.6 161.2,359.9 162.2,363.8 C163.3,367.7 166.1,374.1 166.9,376.2" fill="none" stroke="#231f20" stroke-width="1.3" stroke-linejoin="round" stroke-linecap="round" />
<polyline points="173.7,314.6 173.7,380.3" fill="none" stroke="#231f20" stroke-width="1.2" stroke-linejoin="round" stroke-linecap="round"/>
<polyline points="177.4,314.6 177.4,354.0" fill="none" stroke="#231f20" stroke-width="1.2" stroke-linejoin="round" stroke-linecap="round"/>
<polyline points="173.7,315.2 177.4,315.2" fill="none" stroke="#231f20" stroke-width="1.0" stroke-linejoin="round" stroke-linecap="round"/>
<polyline points="173.7,316.5 177.4,316.5" fill="none" stroke="#231f20" stroke-width="1.0" stroke-linejoin="round" stroke-linecap="round"/>
<polyline points="173.7,317.7 177.4,317.7" fill="none" stroke="#231f20" stroke-width="1.0" stroke-linejoin="round" stroke-linecap="round"/>
<polyline points="173.7,318.9 177.4,318.9" fill="none" stroke="#231f20" stroke-width="1.0" stroke-linejoin="round" stroke-linecap="round"/>
<polyline points="173.7,320.2 177.4,320.2" fill="none" stroke="#231f20" stroke-width="1.0" stroke-linejoin="round" stroke-linecap="round"/>
<polyline points="173.7,321.4 177.4,321.4" fill="none" stroke="#231f20" stroke-width="1.0" stroke-linejoin="round" stroke-linecap="round"/>
<polyline points="173.7,322.6 177.4,322.6" fill="none" stroke="#231f20" stroke-width="1.0" stroke-linejoin="round" stroke-linecap="round"/>
<path d="M280.5,292.9 L249.0,315.9 A2.6,2.6 0 0 1 252.0,320.1 L283.5,297.1 A2.6,2.6 0 0 1 280.5,292.9 Z" fill="none" stroke="#231f20" stroke-width="1.3" stroke-linejoin="round" stroke-linecap="round" />
<polyline points="284.0,300.0 289.0,305.0" fill="none" stroke="#231f20" stroke-width="1.0" stroke-linejoin="round" stroke-linecap="round"/>
<path d="M394.0,450.8 A51.3,51.3 0 0 1 328.0,450.8" fill="none" stroke="#231f20" stroke-width="1.3" stroke-linejoin="round" stroke-linecap="round" />
<path d="M399.6,452.9 A56.6,56.6 0 0 1 322.4,452.9" fill="none" stroke="#231f20" stroke-width="1.3" stroke-linejoin="round" stroke-linecap="round" />
<line x1="317.1" y1="431.0" x2="308.0" y2="435.1" stroke="#231f20" stroke-width="1.0" />
<line x1="404.9" y1="431.0" x2="414.0" y2="435.1" stroke="#231f20" stroke-width="1.0" />
<line x1="319.0" y1="434.8" x2="310.3" y2="439.6" stroke="#231f20" stroke-width="1.0" />
<line x1="403.0" y1="434.8" x2="411.7" y2="439.6" stroke="#231f20" stroke-width="1.0" />
<line x1="321.2" y1="438.3" x2="312.9" y2="443.9" stroke="#231f20" stroke-width="1.0" />
<line x1="400.8" y1="438.3" x2="409.1" y2="443.9" stroke="#231f20" stroke-width="1.0" />
<path d="M1098,127.7 L1098.6,120.5 Q1099,117.3 1102,117.3 L1135,117.3 Q1138,117.3 1138.6,120.5 L1140.5,127.7 Z" fill="#fff" stroke="#231f20" stroke-width="1.9" stroke-linejoin="round" stroke-linecap="round" />
<polyline points="1108.6,127.7 1108.6,131.2" fill="none" stroke="#231f20" stroke-width="1.3" stroke-linejoin="round" stroke-linecap="round"/>
<polyline points="1128.2,127.7 1128.2,131.2" fill="none" stroke="#231f20" stroke-width="1.3" stroke-linejoin="round" stroke-linecap="round"/>
<line x1="1113.5" y1="118.0" x2="1113.5" y2="127.0" stroke="#231f20" stroke-width="1.0" />
<line x1="1117.8" y1="118.0" x2="1117.8" y2="127.0" stroke="#231f20" stroke-width="1.0" />
<line x1="1122.0" y1="118.0" x2="1122.0" y2="127.0" stroke="#231f20" stroke-width="1.0" />
<path d="M1026.6,198.2 L1027.8,142.7 Q1028.2,132.3 1037.0,131.6 L1182.5,131.6 Q1203.3,133.5 1209.1,153.6 L1218.3,247.8 " fill="none" stroke="#231f20" stroke-width="1.9" stroke-linejoin="round" stroke-linecap="round" />
<path d="M1030.5,198.2 L1030.5,147.3 Q1030.8,141.8 1038.2,141.6 L1180.2,141.6 Q1198.7,143.9 1202.8,161.2 L1214.8,247.8 " fill="none" stroke="#231f20" stroke-width="1.3" stroke-linejoin="round" stroke-linecap="round" />
<path d="M1031.7,155.4 Q1031.9,147.8 1038.4,147.6 L1177.9,147.6 Q1194.0,149.7 1198.2,169.3 " fill="none" stroke="#231f20" stroke-width="1.0" stroke-linejoin="round" stroke-linecap="round" />
<polyline points="983.9,175.1 985.0,252.4" fill="none" stroke="#231f20" stroke-width="2.0" stroke-linejoin="round" stroke-linecap="round"/>
<polyline points="985.0,194.7 997.7,194.7 1001.2,198.2" fill="none" stroke="#231f20" stroke-width="1.3" stroke-linejoin="round" stroke-linecap="round"/>
<polyline points="985.0,236.3 979.3,236.3 979.3,247.8" fill="none" stroke="#231f20" stroke-width="1.0" stroke-linejoin="round" stroke-linecap="round"/>
<polyline points="994.3,204.4 995.4,250.1 998.2,253.6 1087.8,253.6 1090.6,250.1 1091.3,204.4" fill="none" stroke="#231f20" stroke-width="1.3" stroke-linejoin="round" stroke-linecap="round"/>
<polyline points="1001.2,201.2 1084.3,201.2 1078.6,230.5 1065.9,252.4 1018.5,252.4 1007.0,230.5 1001.2,201.2" fill="none" stroke="#231f20" stroke-width="1.3" stroke-linejoin="round" stroke-linecap="round"/>
<polyline points="1007.0,230.5 1078.6,230.5" fill="none" stroke="#231f20" stroke-width="1.3" stroke-linejoin="round" stroke-linecap="round"/>
<polyline points="995.4,204.4 1001.2,201.2" fill="none" stroke="#231f20" stroke-width="1.3" stroke-linejoin="round" stroke-linecap="round"/>
<polyline points="1091.3,204.4 1084.3,201.2" fill="none" stroke="#231f20" stroke-width="1.3" stroke-linejoin="round" stroke-linecap="round"/>
<polyline points="995.4,253.6 995.4,261.7 1000.5,266.7 1087.8,266.7 1092.9,261.7 1092.9,253.6" fill="none" stroke="#231f20" stroke-width="1.3" stroke-linejoin="round" stroke-linecap="round"/>
<polyline points="999.6,257.0 1089.0,257.0" fill="none" stroke="#231f20" stroke-width="1.0" stroke-linejoin="round" stroke-linecap="round"/>
<polyline points="1007.0,260.5 1080.9,260.5" fill="none" stroke="#231f20" stroke-width="1.0" stroke-linejoin="round" stroke-linecap="round"/>
<polyline points="1002.4,263.5 1085.5,263.5" fill="none" stroke="#231f20" stroke-width="1.0" stroke-linejoin="round" stroke-linecap="round"/>
<circle cx="1004.7" cy="196.3" r="5.8" fill="#fff" stroke="#231f20" stroke-width="1.0"/>
<polygon points="1009.3,196.3 1007.0,200.3 1002.4,200.3 1000.1,196.3 1002.4,192.3 1007.0,192.3" fill="#fff" stroke="#231f20" stroke-width="1.3" stroke-linejoin="round" stroke-linecap="round"/>
<circle cx="1004.7" cy="196.3" r="2.8" fill="none" stroke="#231f20" stroke-width="1.0"/>
<circle cx="1078.6" cy="196.3" r="5.8" fill="#fff" stroke="#231f20" stroke-width="1.0"/>
<polygon points="1083.2,196.3 1080.9,200.3 1076.3,200.3 1074.0,196.3 1076.3,192.3 1080.9,192.3" fill="#fff" stroke="#231f20" stroke-width="1.3" stroke-linejoin="round" stroke-linecap="round"/>
<circle cx="1078.6" cy="196.3" r="2.8" fill="none" stroke="#231f20" stroke-width="1.0"/>
<circle cx="1002.8" cy="247.8" r="5.8" fill="#fff" stroke="#231f20" stroke-width="1.0"/>
<polygon points="1007.4,247.8 1005.1,251.8 1000.5,251.8 998.2,247.8 1000.5,243.8 1005.1,243.8" fill="#fff" stroke="#231f20" stroke-width="1.3" stroke-linejoin="round" stroke-linecap="round"/>
<circle cx="1002.8" cy="247.8" r="2.8" fill="none" stroke="#231f20" stroke-width="1.0"/>
<circle cx="1079.7" cy="247.8" r="5.8" fill="#fff" stroke="#231f20" stroke-width="1.0"/>
<polygon points="1084.3,247.8 1082.0,251.8 1077.4,251.8 1075.1,247.8 1077.4,243.8 1082.0,243.8" fill="#fff" stroke="#231f20" stroke-width="1.3" stroke-linejoin="round" stroke-linecap="round"/>
<circle cx="1079.7" cy="247.8" r="2.8" fill="none" stroke="#231f20" stroke-width="1.0"/>
<g transform="translate(1014.5,227.6) skewX(18)"><text x="0" y="0" font-size="13" font-weight="bold" textLength="52.5" lengthAdjust="spacingAndGlyphs" fill="#fff" stroke="#231f20" stroke-width="1.0">OHV</text></g>
<polyline points="1084.3,199.8 1154.8,199.8" fill="none" stroke="#231f20" stroke-width="1.4" stroke-linejoin="round" stroke-linecap="round"/>
<polyline points="1087.8,205.1 1110.9,205.1 1110.9,215.5" fill="none" stroke="#231f20" stroke-width="1.0" stroke-linejoin="round" stroke-linecap="round"/>
<polyline points="1099.4,215.5 1152.5,215.5 1152.5,238.6 1173.3,238.6 1173.3,252.4 1131.7,252.4 1131.7,261.7" fill="none" stroke="#231f20" stroke-width="1.3" stroke-linejoin="round" stroke-linecap="round"/>
<polyline points="1099.4,215.5 1099.4,238.6 1087.8,238.6" fill="none" stroke="#231f20" stroke-width="1.3" stroke-linejoin="round" stroke-linecap="round"/>
<polyline points="1085.5,223.6 1101.7,223.6 1101.7,235.1 1085.5,235.1 1085.5,223.6" fill="none" stroke="#231f20" stroke-width="1.3" stroke-linejoin="round" stroke-linecap="round"/>
<polyline points="1106.3,216.6 1106.3,229.3 1110.9,229.3" fill="none" stroke="#231f20" stroke-width="1.0" stroke-linejoin="round" stroke-linecap="round"/>
<polyline points="1139.8,201.6 1139.8,215.5" fill="none" stroke="#231f20" stroke-width="1.0" stroke-linejoin="round" stroke-linecap="round"/>
<polyline points="1143.2,201.6 1154.8,201.6 1154.8,229.3" fill="none" stroke="#231f20" stroke-width="1.3" stroke-linejoin="round" stroke-linecap="round"/>
<polyline points="1120.1,207.4 1125.9,207.4 1125.9,215.0 1120.1,215.0 1120.1,207.4" fill="none" stroke="#231f20" stroke-width="1.0" stroke-linejoin="round" stroke-linecap="round"/>
<polyline points="1122.9,205.1 1122.9,207.4" fill="none" stroke="#231f20" stroke-width="1.0" stroke-linejoin="round" stroke-linecap="round"/>
<polyline points="1139.8,231.6 1152.5,231.6 1152.5,239.7 1139.8,239.7 1139.8,231.6" fill="none" stroke="#231f20" stroke-width="1.0" stroke-linejoin="round" stroke-linecap="round"/>
<circle cx="1147.6" cy="225.6" r="2.6" fill="none" stroke="#231f20" stroke-width="1.0"/>
<line x1="1145.8" y1="227.4" x2="1149.4" y2="223.8" stroke="#231f20" stroke-width="1.0" />
<polyline points="1158.2,210.9 1158.2,229.3" fill="none" stroke="#231f20" stroke-width="1.0" stroke-linejoin="round" stroke-linecap="round"/>
<polyline points="1161.7,208.5 1161.7,232.8" fill="none" stroke="#231f20" stroke-width="1.0" stroke-linejoin="round" stroke-linecap="round"/>
<polyline points="1168.6,235.1 1168.6,247.8" fill="none" stroke="#231f20" stroke-width="1.0" stroke-linejoin="round" stroke-linecap="round"/>
<polyline points="1092.4,240.9 1131.7,240.9" fill="none" stroke="#231f20" stroke-width="1.0" stroke-linejoin="round" stroke-linecap="round"/>
<polyline points="1099.4,238.6 1099.4,269.5" fill="none" stroke="#231f20" stroke-width="1.3" stroke-linejoin="round" stroke-linecap="round"/>
<polyline points="1125.9,252.4 1125.9,269.5" fill="none" stroke="#231f20" stroke-width="1.3" stroke-linejoin="round" stroke-linecap="round"/>
<path d="M1154.8,200.5 C1157.5,200.8 1165.9,201.0 1170.9,202.8 C1176.0,204.6 1180.9,207.5 1184.8,211.3 C1188.7,215.2 1192.9,223.4 1194.5,225.9" fill="none" stroke="#231f20" stroke-width="1.3" stroke-linejoin="round" stroke-linecap="round" />
<path d="M1154.8,204.4 C1157.2,204.8 1164.7,205.0 1169.1,206.7 C1173.5,208.4 1178.0,210.9 1181.3,214.3 C1184.7,217.7 1188.1,224.9 1189.4,227.0" fill="none" stroke="#231f20" stroke-width="1.0" stroke-linejoin="round" stroke-linecap="round" />
<polyline points="1184.8,229.3 1184.8,269.5" fill="none" stroke="#231f20" stroke-width="1.3" stroke-linejoin="round" stroke-linecap="round"/>
<polyline points="1194.5,225.9 1194.5,269.5" fill="none" stroke="#231f20" stroke-width="1.3" stroke-linejoin="round" stroke-linecap="round"/>
<path d="M1182.5,229.3 C1182.9,228.9 1182.9,227.0 1184.8,226.6 C1186.7,226.1 1192.1,226.1 1194.0,226.6 C1196.0,227.0 1196.0,228.9 1196.4,229.3" fill="none" stroke="#231f20" stroke-width="1.0" stroke-linejoin="round" stroke-linecap="round" />
<polyline points="1173.3,240.9 1184.8,240.9" fill="none" stroke="#231f20" stroke-width="1.0" stroke-linejoin="round" stroke-linecap="round"/>
<polyline points="1194.5,238.6 1205.6,238.6 1209.1,243.2" fill="none" stroke="#231f20" stroke-width="1.0" stroke-linejoin="round" stroke-linecap="round"/>
<circle cx="1106.3" cy="262.8" r="6.2" fill="#fff" stroke="#231f20" stroke-width="1.0"/>
<polygon points="1111.3,262.8 1108.8,267.1 1103.8,267.1 1101.3,262.8 1103.8,258.5 1108.8,258.5" fill="#fff" stroke="#231f20" stroke-width="1.3" stroke-linejoin="round" stroke-linecap="round"/>
<circle cx="1106.3" cy="262.8" r="3.0" fill="none" stroke="#231f20" stroke-width="1.0"/>
<circle cx="1135.2" cy="260.5" r="6.2" fill="#fff" stroke="#231f20" stroke-width="1.0"/>
<polygon points="1140.2,260.5 1137.7,264.8 1132.7,264.8 1130.2,260.5 1132.7,256.2 1137.7,256.2" fill="#fff" stroke="#231f20" stroke-width="1.3" stroke-linejoin="round" stroke-linecap="round"/>
<circle cx="1135.2" cy="260.5" r="3.0" fill="none" stroke="#231f20" stroke-width="1.0"/>
<polyline points="955.0,240.0 955.0,267.7 959.6,267.7 959.6,327.8 951.5,330.1 951.5,380.9 957.3,380.9 957.3,409.5" fill="none" stroke="#231f20" stroke-width="1.3" stroke-linejoin="round" stroke-linecap="round"/>
<polyline points="963.1,256.2 963.1,264.2" fill="none" stroke="#231f20" stroke-width="1.6" stroke-linejoin="round" stroke-linecap="round"/>
<polyline points="963.1,300.0 963.1,318.5" fill="none" stroke="#231f20" stroke-width="1.6" stroke-linejoin="round" stroke-linecap="round"/>
<polyline points="961.9,373.9 961.9,382.0" fill="none" stroke="#231f20" stroke-width="1.6" stroke-linejoin="round" stroke-linecap="round"/>
<polyline points="966.6,409.5 966.6,249.2 986.2,249.2 986.2,240.0" fill="none" stroke="#231f20" stroke-width="1.3" stroke-linejoin="round" stroke-linecap="round"/>
<path d="M967.3,286.2 C968.1,289.7 969.2,300.4 972.3,307.0 C975.5,313.5 981.8,319.7 986.2,325.5 C990.6,331.2 996.0,336.6 998.9,341.6 C1001.8,346.6 1002.7,348.9 1003.5,355.5 C1004.3,362.0 1003.7,376.6 1003.7,380.9" fill="none" stroke="#231f20" stroke-width="1.3" stroke-linejoin="round" stroke-linecap="round" />
<polyline points="966.6,380.9 1003.7,380.9" fill="none" stroke="#231f20" stroke-width="1.3" stroke-linejoin="round" stroke-linecap="round"/>
<polyline points="974.6,378.6 974.6,381.3" fill="none" stroke="#231f20" stroke-width="1.0" stroke-linejoin="round" stroke-linecap="round"/>
<path d="M982.7,381.3 C982.9,382.0 982.9,384.8 983.9,385.5 C984.8,386.2 987.5,386.2 988.5,385.5 C989.5,384.8 989.5,382.0 989.7,381.3" fill="none" stroke="#231f20" stroke-width="1.0" stroke-linejoin="round" stroke-linecap="round" />
<polyline points="972.3,382.0 1064.7,382.0" fill="none" stroke="#231f20" stroke-width="1.3" stroke-linejoin="round" stroke-linecap="round"/>
<polyline points="972.3,382.0 972.3,399.4 1064.7,399.4" fill="none" stroke="#231f20" stroke-width="1.3" stroke-linejoin="round" stroke-linecap="round"/>
<polyline points="980.4,399.4 980.4,409.5" fill="none" stroke="#231f20" stroke-width="1.0" stroke-linejoin="round" stroke-linecap="round"/>
<polyline points="989.7,399.4 989.7,409.5" fill="none" stroke="#231f20" stroke-width="1.3" stroke-linejoin="round" stroke-linecap="round"/>
<polyline points="1002.4,399.4 1002.4,409.5" fill="none" stroke="#231f20" stroke-width="1.3" stroke-linejoin="round" stroke-linecap="round"/>
<circle cx="1039.3" cy="285.0" r="12.7" fill="none" stroke="#231f20" stroke-width="1.3"/>
<path d="M1034.7,278.1 L1065.9,278.1" fill="none" stroke="#231f20" stroke-width="1.3" stroke-linejoin="round" stroke-linecap="round" />
<polyline points="1065.9,278.1 1065.9,289.7 1039.3,289.7" fill="none" stroke="#231f20" stroke-width="1.3" stroke-linejoin="round" stroke-linecap="round"/>
<path d="M1039.3,289.7 C1038.7,289.3 1036.2,288.3 1035.8,287.3 C1035.5,286.4 1037.2,285.4 1037.0,283.9 C1036.8,282.3 1035.1,279.1 1034.7,278.1" fill="none" stroke="#231f20" stroke-width="1.3" stroke-linejoin="round" stroke-linecap="round" />
<polyline points="1039.3,287.3 1050.9,287.3 1050.9,289.2" fill="none" stroke="#231f20" stroke-width="1.0" stroke-linejoin="round" stroke-linecap="round"/>
<path d="M1031.2,274.6 C1030.8,276.2 1028.7,280.8 1028.9,283.9 C1029.1,287.0 1030.3,290.8 1032.4,293.1 C1034.5,295.4 1038.5,297.4 1041.6,297.7 C1044.7,298.1 1049.3,295.8 1050.9,295.4" fill="none" stroke="#231f20" stroke-width="1.0" stroke-linejoin="round" stroke-linecap="round" />
<path d="M1065.9,280.4 C1071.8,280.4 1093.4,279.6 1101.7,280.4 C1109.9,281.2 1111.9,282.5 1115.5,285.0 C1119.2,287.5 1121.6,291.4 1123.6,295.4 C1125.6,299.5 1126.9,307.0 1127.5,309.3" fill="none" stroke="#231f20" stroke-width="1.3" stroke-linejoin="round" stroke-linecap="round" />
<path d="M1065.9,286.2 C1071.4,286.2 1091.7,285.5 1099.4,286.2 C1107.1,286.9 1108.8,288.2 1112.1,290.3 C1115.3,292.5 1117.3,295.7 1119.0,298.9 C1120.7,302.0 1121.9,307.6 1122.4,309.3" fill="none" stroke="#231f20" stroke-width="1.3" stroke-linejoin="round" stroke-linecap="round" />
<path d="M1122.4,309.3 A4.5,4.5 0 0 0 1131.4,309.3" fill="none" stroke="#231f20" stroke-width="1.3" stroke-linejoin="round" stroke-linecap="round" />
<circle cx="1129.0" cy="311.5" r="7.0" fill="none" stroke="#231f20" stroke-width="1.3"/>
<polyline points="1080.4,274.6 1080.4,302.4" fill="none" stroke="#231f20" stroke-width="1.0" stroke-linejoin="round" stroke-linecap="round"/>
<polyline points="1087.8,274.6 1087.8,302.4" fill="none" stroke="#231f20" stroke-width="1.0" stroke-linejoin="round" stroke-linecap="round"/>
<path d="M1080.4,274.6 C1080.6,274.3 1080.3,272.7 1081.3,272.3 C1082.4,271.9 1085.8,271.9 1086.9,272.3 C1088.0,272.7 1087.7,274.3 1087.8,274.6" fill="none" stroke="#231f20" stroke-width="1.0" stroke-linejoin="round" stroke-linecap="round" />
<circle cx="1083.2" cy="331.2" r="18.0" fill="none" stroke="#231f20" stroke-width="1.3"/>
<polygon points="1056.6,306.5 1078.1,300.5 1091.3,302.4 1112.1,334.2 1111.4,339.8 1090.1,360.1 1079.7,360.6 1048.1,330.5 1049.0,325.9" fill="none" stroke="#231f20" stroke-width="1.3" stroke-linejoin="round" stroke-linecap="round"/>
<polyline points="1054.8,308.4 1046.7,326.6 1045.8,331.9 1078.1,362.9 1090.1,362.4" fill="none" stroke="#231f20" stroke-width="1.0" stroke-linejoin="round" stroke-linecap="round"/>
<circle cx="1062.4" cy="309.3" r="6.5" fill="#fff" stroke="#231f20" stroke-width="1.3"/>
<circle cx="1062.4" cy="309.3" r="4.0" fill="none" stroke="#231f20" stroke-width="1.3"/>
<circle cx="1106.3" cy="312.7" r="6.5" fill="#fff" stroke="#231f20" stroke-width="1.3"/>
<circle cx="1106.3" cy="312.7" r="4.0" fill="none" stroke="#231f20" stroke-width="1.3"/>
<circle cx="1055.5" cy="341.6" r="6.5" fill="#fff" stroke="#231f20" stroke-width="1.3"/>
<circle cx="1055.5" cy="341.6" r="4.0" fill="none" stroke="#231f20" stroke-width="1.3"/>
<circle cx="1105.1" cy="352.0" r="6.5" fill="#fff" stroke="#231f20" stroke-width="1.3"/>
<circle cx="1105.1" cy="352.0" r="4.0" fill="none" stroke="#231f20" stroke-width="1.3"/>
<circle cx="1087.8" cy="308.1" r="1.5" fill="none" stroke="#231f20" stroke-width="1.0"/>
<circle cx="1060.1" cy="326.6" r="1.5" fill="none" stroke="#231f20" stroke-width="1.0"/>
<circle cx="1107.4" cy="334.7" r="1.5" fill="none" stroke="#231f20" stroke-width="1.0"/>
<circle cx="1079.7" cy="354.3" r="1.5" fill="none" stroke="#231f20" stroke-width="1.0"/>
<path d="M1190.6,240.0 C1190.6,247.7 1191.5,275.8 1190.6,286.2 C1189.6,296.6 1188.1,297.5 1184.8,302.4 C1181.5,307.2 1177.1,312.2 1170.9,315.1 C1164.8,317.9 1155.6,318.9 1147.9,319.7 C1140.2,320.4 1128.6,319.7 1124.8,319.7" fill="none" stroke="#231f20" stroke-width="1.3" stroke-linejoin="round" stroke-linecap="round" />
<path d="M1196.8,240.0 C1196.8,248.1 1197.9,277.0 1196.8,288.5 C1195.8,300.0 1194.1,303.3 1190.6,309.3 C1187.0,315.3 1182.7,320.6 1175.6,324.3 C1168.4,328.0 1156.3,330.1 1147.9,331.2 C1139.4,332.4 1128.6,331.2 1124.8,331.2" fill="none" stroke="#231f20" stroke-width="1.3" stroke-linejoin="round" stroke-linecap="round" />
<polyline points="1112.1,319.7 1124.8,319.7 1124.8,331.2 1112.1,331.2 1112.1,319.7" fill="none" stroke="#231f20" stroke-width="1.3" stroke-linejoin="round" stroke-linecap="round"/>
<polyline points="1116.7,319.7 1116.7,331.2" fill="none" stroke="#231f20" stroke-width="1.0" stroke-linejoin="round" stroke-linecap="round"/>
<polyline points="1120.1,319.7 1120.1,331.2" fill="none" stroke="#231f20" stroke-width="1.0" stroke-linejoin="round" stroke-linecap="round"/>
<polyline points="1129.4,265.4 1129.4,360.1" fill="none" stroke="#231f20" stroke-width="1.3" stroke-linejoin="round" stroke-linecap="round"/>
<polyline points="1125.9,265.4 1125.9,319.7" fill="none" stroke="#231f20" stroke-width="1.0" stroke-linejoin="round" stroke-linecap="round"/>
<polyline points="1125.9,331.2 1125.9,360.1" fill="none" stroke="#231f20" stroke-width="1.0" stroke-linejoin="round" stroke-linecap="round"/>
<polyline points="1099.4,265.4 1099.4,270.0 1125.9,270.0" fill="none" stroke="#231f20" stroke-width="1.3" stroke-linejoin="round" stroke-linecap="round"/>
<polyline points="995.4,265.4 1099.4,265.4" fill="none" stroke="#231f20" stroke-width="1.3" stroke-linejoin="round" stroke-linecap="round"/>
<circle cx="1136.3" cy="341.6" r="6.5" fill="#fff" stroke="#231f20" stroke-width="1.3"/>
<circle cx="1136.3" cy="341.6" r="4.0" fill="none" stroke="#231f20" stroke-width="1.3"/>
<circle cx="1108.6" cy="384.3" r="6.5" fill="#fff" stroke="#231f20" stroke-width="1.3"/>
<circle cx="1108.6" cy="384.3" r="4.0" fill="none" stroke="#231f20" stroke-width="1.3"/>
<circle cx="1042.8" cy="392.4" r="6.5" fill="#fff" stroke="#231f20" stroke-width="1.3"/>
<circle cx="1042.8" cy="392.4" r="4.0" fill="none" stroke="#231f20" stroke-width="1.3"/>
<polyline points="1039.3,399.4 1039.3,409.5" fill="none" stroke="#231f20" stroke-width="1.0" stroke-linejoin="round" stroke-linecap="round"/>
<polyline points="1046.7,399.4 1046.7,409.5" fill="none" stroke="#231f20" stroke-width="1.0" stroke-linejoin="round" stroke-linecap="round"/>
<path d="M1218.3,247.8 L1225.2,252.4" fill="none" stroke="#231f20" stroke-width="1.3" stroke-linejoin="round" stroke-linecap="round" />
<path d="M1209.1,251.5 C1210.4,252.3 1215.2,251.9 1217.1,256.2 C1219.1,260.4 1219.3,267.3 1220.6,277.0 C1221.9,286.6 1224.1,291.8 1225.2,313.9 C1226.4,336.0 1227.1,393.6 1227.5,409.5" fill="none" stroke="#231f20" stroke-width="1.3" stroke-linejoin="round" stroke-linecap="round" />
<path d="M1211.4,260.8 C1212.1,265.0 1214.8,274.3 1216.0,286.2 C1217.1,298.1 1217.6,311.8 1218.3,332.4 C1218.9,352.9 1219.6,396.7 1219.9,409.5" fill="none" stroke="#231f20" stroke-width="1.0" stroke-linejoin="round" stroke-linecap="round" />
<path d="M1220.6,309.3 C1221.1,313.1 1222.9,315.7 1223.6,332.4 C1224.3,349.1 1224.4,396.7 1224.5,409.5" fill="none" stroke="#231f20" stroke-width="1.0" stroke-linejoin="round" stroke-linecap="round" />
<rect x="1118.5" y="361.2" width="88.6" height="86.9" rx="0" fill="none" stroke="#231f20" stroke-width="1.3" />
<line x1="1118.5" y1="362.3" x2="1207.1" y2="362.3" stroke="#231f20" stroke-width="1.6" />
<line x1="1118.5" y1="364.9" x2="1207.1" y2="364.9" stroke="#231f20" stroke-width="1.3" />
<line x1="1118.5" y1="369.4" x2="1207.1" y2="369.4" stroke="#7d7d7d" stroke-width="2.4" />
<line x1="1118.5" y1="373.9" x2="1207.1" y2="373.9" stroke="#231f20" stroke-width="1.3" />
<line x1="1118.5" y1="378.4" x2="1207.1" y2="378.4" stroke="#7d7d7d" stroke-width="2.4" />
<line x1="1118.5" y1="382.9" x2="1207.1" y2="382.9" stroke="#231f20" stroke-width="1.3" />
<line x1="1118.5" y1="387.4" x2="1207.1" y2="387.4" stroke="#7d7d7d" stroke-width="2.4" />
<line x1="1118.5" y1="391.9" x2="1207.1" y2="391.9" stroke="#231f20" stroke-width="1.3" />
<line x1="1118.5" y1="396.4" x2="1207.1" y2="396.4" stroke="#7d7d7d" stroke-width="2.4" />
<line x1="1118.5" y1="400.9" x2="1207.1" y2="400.9" stroke="#231f20" stroke-width="1.3" />
<line x1="1118.5" y1="405.4" x2="1207.1" y2="405.4" stroke="#7d7d7d" stroke-width="2.4" />
<line x1="1118.5" y1="409.9" x2="1207.1" y2="409.9" stroke="#231f20" stroke-width="1.3" />
<line x1="1118.5" y1="414.4" x2="1207.1" y2="414.4" stroke="#7d7d7d" stroke-width="2.4" />
<line x1="1118.5" y1="418.9" x2="1207.1" y2="418.9" stroke="#231f20" stroke-width="1.3" />
<line x1="1118.5" y1="423.4" x2="1207.1" y2="423.4" stroke="#7d7d7d" stroke-width="2.4" />
<line x1="1118.5" y1="427.9" x2="1207.1" y2="427.9" stroke="#231f20" stroke-width="1.3" />
<line x1="1118.5" y1="432.4" x2="1207.1" y2="432.4" stroke="#7d7d7d" stroke-width="2.4" />
<line x1="1118.5" y1="436.9" x2="1207.1" y2="436.9" stroke="#231f20" stroke-width="1.3" />
<line x1="1118.5" y1="441.4" x2="1207.1" y2="441.4" stroke="#7d7d7d" stroke-width="2.4" />
<line x1="1118.5" y1="445.9" x2="1207.1" y2="445.9" stroke="#231f20" stroke-width="1.3" />
<line x1="1121.7" y1="361.2" x2="1121.7" y2="448.1" stroke="#231f20" stroke-width="1.3" />
<line x1="1133.7" y1="361.2" x2="1133.7" y2="448.1" stroke="#231f20" stroke-width="1.3" />
<line x1="1190.5" y1="361.2" x2="1190.5" y2="448.1" stroke="#231f20" stroke-width="1.3" />
<line x1="1202.5" y1="361.2" x2="1202.5" y2="448.1" stroke="#231f20" stroke-width="1.3" />
<rect x="1122.4" y="448.1" width="11.6" height="10.4" rx="0" fill="none" stroke="#231f20" stroke-width="1.3" />
<rect x="1190.6" y="448.1" width="11.6" height="10.4" rx="0" fill="none" stroke="#231f20" stroke-width="1.3" />
<polyline points="1064.7,360.1 1064.7,409.5" fill="none" stroke="#231f20" stroke-width="1.3" stroke-linejoin="round" stroke-linecap="round"/>
<polyline points="1075.1,360.1 1075.1,409.5" fill="none" stroke="#231f20" stroke-width="1.3" stroke-linejoin="round" stroke-linecap="round"/>
<polyline points="1064.7,361.2 1076.3,361.2 1076.3,368.2 1064.7,368.2 1064.7,361.2" fill="none" stroke="#231f20" stroke-width="1.3" stroke-linejoin="round" stroke-linecap="round"/>
<polyline points="1080.9,361.2 1093.6,361.2 1093.6,368.2 1080.9,368.2 1080.9,361.2" fill="none" stroke="#231f20" stroke-width="1.3" stroke-linejoin="round" stroke-linecap="round"/>
<rect x="1066.0" y="364.0" width="9.0" height="2.2" rx="0" fill="#888" stroke="#231f20" stroke-width="1.0" />
<rect x="1082.0" y="364.0" width="9.0" height="2.2" rx="0" fill="#888" stroke="#231f20" stroke-width="1.0" />
<path d="M1078.6,387.8 C1078.8,385.9 1078.8,379.5 1079.7,376.3 C1080.7,373.0 1083.6,369.5 1084.3,368.2" fill="none" stroke="#231f20" stroke-width="1.3" stroke-linejoin="round" stroke-linecap="round" />
<path d="M1087.8,390.1 C1088.2,388.2 1089.2,382.2 1090.1,378.6 C1091.1,374.9 1093.0,369.9 1093.6,368.2" fill="none" stroke="#231f20" stroke-width="1.3" stroke-linejoin="round" stroke-linecap="round" />
<path d="M1076.3,401.7 C1078.2,400.1 1083.6,394.7 1087.8,392.4 C1092.0,390.1 1097.0,388.6 1101.7,387.8 C1106.3,387.0 1113.2,387.8 1115.5,387.8" fill="none" stroke="#231f20" stroke-width="1.0" stroke-linejoin="round" stroke-linecap="round" />
<path d="M1078.6,406.3 C1080.5,405.1 1086.3,401.3 1090.1,399.4 C1094.0,397.4 1097.4,395.6 1101.7,394.7 C1105.9,393.9 1113.2,394.3 1115.5,394.3" fill="none" stroke="#231f20" stroke-width="1.0" stroke-linejoin="round" stroke-linecap="round" />
<polyline points="955.0,525.5 1127.1,525.5" fill="none" stroke="#231f20" stroke-width="1.6" stroke-linejoin="round" stroke-linecap="round"/>
<path d="M1212.5,525.5 C1213.9,524.3 1218.8,521.3 1220.6,518.6 C1222.4,515.9 1222.9,520.9 1223.6,509.3 C1224.3,497.8 1224.4,470.8 1224.5,449.3 C1224.7,427.7 1224.5,391.5 1224.5,380.0" fill="none" stroke="#231f20" stroke-width="1.3" stroke-linejoin="round" stroke-linecap="round" />
<path d="M1127.1,525.5 C1134.4,525.3 1156.7,525.0 1170.9,524.1 C1185.2,523.2 1204.2,521.9 1212.5,520.2 C1220.8,518.5 1219.3,515.0 1220.6,513.9" fill="none" stroke="#231f20" stroke-width="1.3" stroke-linejoin="round" stroke-linecap="round" />
<polyline points="940.0,504.7 1034.7,504.7" fill="none" stroke="#231f20" stroke-width="1.3" stroke-linejoin="round" stroke-linecap="round"/>
<polyline points="955.0,380.0 955.0,509.3 958.5,518.6 965.4,524.3" fill="none" stroke="#231f20" stroke-width="1.3" stroke-linejoin="round" stroke-linecap="round"/>
<polyline points="966.6,380.0 966.6,524.3" fill="none" stroke="#231f20" stroke-width="1.3" stroke-linejoin="round" stroke-linecap="round"/>
<path d="M966.6,403.1 C967.3,404.6 969.3,410.0 971.2,412.3 C973.1,414.6 977.0,413.1 978.1,417.0 C979.3,420.8 979.3,431.2 978.1,435.4 C977.0,439.7 972.9,440.0 971.2,442.4 C969.4,444.7 968.1,439.7 967.7,449.3 C967.3,458.9 968.7,491.6 968.9,500.1" fill="none" stroke="#231f20" stroke-width="1.0" stroke-linejoin="round" stroke-linecap="round" />
<polyline points="980.4,399.6 980.4,518.6" fill="none" stroke="#231f20" stroke-width="1.0" stroke-linejoin="round" stroke-linecap="round"/>
<polyline points="989.7,399.6 989.7,525.5" fill="none" stroke="#231f20" stroke-width="1.3" stroke-linejoin="round" stroke-linecap="round"/>
<polyline points="1002.4,399.6 1002.4,504.7" fill="none" stroke="#231f20" stroke-width="1.3" stroke-linejoin="round" stroke-linecap="round"/>
<line x1="981.5" y1="400.0" x2="981.5" y2="520.0" stroke="#231f20" stroke-width="1.0" stroke-dasharray="14 3" />
<polyline points="951.5,442.4 951.5,466.6 955.0,466.6" fill="none" stroke="#231f20" stroke-width="1.3" stroke-linejoin="round" stroke-linecap="round"/>
<polyline points="951.5,442.4 955.0,442.4" fill="none" stroke="#231f20" stroke-width="1.3" stroke-linejoin="round" stroke-linecap="round"/>
<polyline points="961.9,444.0 961.9,452.3 964.9,452.3 964.9,444.0 961.9,444.0" fill="none" stroke="#231f20" stroke-width="1.0" stroke-linejoin="round" stroke-linecap="round"/>
<polyline points="961.9,512.1 961.9,520.4 964.9,520.4 964.9,512.1 961.9,512.1" fill="none" stroke="#231f20" stroke-width="1.0" stroke-linejoin="round" stroke-linecap="round"/>
<polyline points="977.0,504.7 985.0,504.7 985.0,517.4 977.0,517.4 977.0,504.7" fill="none" stroke="#231f20" stroke-width="1.0" stroke-linejoin="round" stroke-linecap="round"/>
<polyline points="990.8,483.9 996.6,483.9 996.6,495.5 990.8,495.5 990.8,483.9" fill="none" stroke="#231f20" stroke-width="1.0" stroke-linejoin="round" stroke-linecap="round"/>
<path d="M952,396.3 L884.8,396.3 L884.8,426.9 L952,426.9" fill="none" stroke="#231f20" stroke-width="1.8" stroke-linejoin="round" stroke-linecap="round" />
<polyline points="940.0,396.2 955.0,396.2" fill="none" stroke="#231f20" stroke-width="1.4" stroke-linejoin="round" stroke-linecap="round"/>
<polyline points="1009.3,418.1 1041.6,418.1" fill="none" stroke="#231f20" stroke-width="1.3" stroke-linejoin="round" stroke-linecap="round"/>
<polyline points="1009.3,418.1 1009.3,426.2 1037.0,426.2" fill="none" stroke="#231f20" stroke-width="1.3" stroke-linejoin="round" stroke-linecap="round"/>
<polyline points="1016.2,426.2 1016.2,432.0" fill="none" stroke="#231f20" stroke-width="1.0" stroke-linejoin="round" stroke-linecap="round"/>
<polyline points="1019.7,426.2 1019.7,432.0" fill="none" stroke="#231f20" stroke-width="1.0" stroke-linejoin="round" stroke-linecap="round"/>
<polyline points="1002.4,481.6 1122.4,481.6" fill="none" stroke="#231f20" stroke-width="1.0" stroke-linejoin="round" stroke-linecap="round"/>
<polyline points="1002.4,485.1 1122.4,485.1" fill="none" stroke="#231f20" stroke-width="1.0" stroke-linejoin="round" stroke-linecap="round"/>
<polyline points="1002.4,488.5 1122.4,488.5" fill="none" stroke="#231f20" stroke-width="1.0" stroke-linejoin="round" stroke-linecap="round"/>
<polyline points="1002.4,493.2 1122.4,493.2" fill="none" stroke="#231f20" stroke-width="1.0" stroke-linejoin="round" stroke-linecap="round"/>
<polyline points="1002.4,495.5 1122.4,495.5" fill="none" stroke="#231f20" stroke-width="1.0" stroke-linejoin="round" stroke-linecap="round"/>
<polyline points="1002.4,504.7 1122.4,504.7" fill="none" stroke="#231f20" stroke-width="1.0" stroke-linejoin="round" stroke-linecap="round"/>
<polyline points="1002.4,481.6 1002.4,504.7" fill="none" stroke="#231f20" stroke-width="1.3" stroke-linejoin="round" stroke-linecap="round"/>
<polyline points="1041.6,481.6 1041.6,504.7" fill="none" stroke="#231f20" stroke-width="1.3" stroke-linejoin="round" stroke-linecap="round" stroke-dasharray="3 2"/>
<polyline points="1044.4,481.6 1044.4,504.7" fill="none" stroke="#231f20" stroke-width="1.3" stroke-linejoin="round" stroke-linecap="round" stroke-dasharray="3 2"/>
<circle cx="1045.0" cy="515.0" r="7.2" fill="#fff" stroke="#231f20" stroke-width="1.0"/>
<polygon points="1051.0,515.0 1048.0,520.2 1042.0,520.2 1039.0,515.0 1042.0,509.8 1048.0,509.8" fill="#fff" stroke="#231f20" stroke-width="1.3" stroke-linejoin="round" stroke-linecap="round"/>
<circle cx="1045.0" cy="515.0" r="4.2" fill="none" stroke="#231f20" stroke-width="1.0"/>
<circle cx="1045.0" cy="515.0" r="9.5" fill="none" stroke="#231f20" stroke-width="1.3"/>
<polyline points="1035.8,525.5 1035.8,518.6" fill="none" stroke="#231f20" stroke-width="1.0" stroke-linejoin="round" stroke-linecap="round"/>
<polyline points="1055.5,525.5 1055.5,518.6" fill="none" stroke="#231f20" stroke-width="1.0" stroke-linejoin="round" stroke-linecap="round"/>
<circle cx="1086.7" cy="451.6" r="6.5" fill="#fff" stroke="#231f20" stroke-width="1.3"/>
<circle cx="1086.7" cy="451.6" r="4.0" fill="none" stroke="#231f20" stroke-width="1.4"/>
<circle cx="1042.8" cy="392.5" r="5.5" fill="none" stroke="#231f20" stroke-width="1.3"/>
<circle cx="1042.8" cy="392.5" r="3.3" fill="none" stroke="#231f20" stroke-width="1.3"/>
<polyline points="1039.3,398.5 1039.3,408.9 1046.7,408.9 1046.7,398.5" fill="none" stroke="#231f20" stroke-width="1.3" stroke-linejoin="round" stroke-linecap="round"/>
<path d="M1031.2,414.6 C1031.2,413.8 1029.9,410.8 1031.2,409.6 C1032.6,408.3 1038.0,407.6 1039.3,407.3" fill="none" stroke="#231f20" stroke-width="1.3" stroke-linejoin="round" stroke-linecap="round" />
<path d="M1055.5,414.6 C1055.5,413.9 1056.9,411.3 1055.5,410.0 C1054.0,408.8 1048.2,407.7 1046.7,407.3" fill="none" stroke="#231f20" stroke-width="1.3" stroke-linejoin="round" stroke-linecap="round" />
<polyline points="1030.1,414.6 1064.7,414.6" fill="none" stroke="#231f20" stroke-width="1.3" stroke-linejoin="round" stroke-linecap="round"/>
<polygon points="1000.5,441.9 1040.5,418.1 1065.9,472.4 1025.9,490.9 1020.8,492.0 1016.2,488.5 996.6,453.9 995.4,445.8" fill="#fff" stroke="#231f20" stroke-width="0.1" stroke-linejoin="round" stroke-linecap="round"/>
<polyline points="1000.5,441.9 1040.5,418.1 1065.9,472.4 1025.9,490.9" fill="none" stroke="#231f20" stroke-width="1.3" stroke-linejoin="round" stroke-linecap="round"/>
<path d="M1000.5,441.9 C999.7,442.5 996.1,443.8 995.4,445.8 C994.8,447.8 993.1,446.8 996.6,453.9 C1000.0,461.0 1012.2,482.2 1016.2,488.5 C1020.3,494.9 1019.2,491.6 1020.8,492.0 C1022.4,492.4 1025.1,491.0 1025.9,490.9" fill="none" stroke="#231f20" stroke-width="1.5" stroke-linejoin="round" stroke-linecap="round" />
<polyline points="1022.0,429.7 1046.7,481.6" fill="none" stroke="#231f20" stroke-width="1.6" stroke-linejoin="round" stroke-linecap="round"/>
<polyline points="1045.1,420.4 1069.3,471.2" fill="none" stroke="#231f20" stroke-width="1.3" stroke-linejoin="round" stroke-linecap="round"/>
<polyline points="1050.4,418.1 1073.9,467.8" fill="none" stroke="#231f20" stroke-width="1.3" stroke-linejoin="round" stroke-linecap="round"/>
<path d="M1000.7,444.0 C1002.1,443.4 1007.0,440.4 1008.8,440.7 C1010.6,441.1 1011.1,445.4 1011.6,446.3" fill="none" stroke="#231f20" stroke-width="1.0" stroke-linejoin="round" stroke-linecap="round" />
<path d="M1004.4,451.6 C1005.8,451.1 1010.7,448.0 1012.5,448.4 C1014.3,448.7 1014.8,453.0 1015.3,453.9" fill="none" stroke="#231f20" stroke-width="1.0" stroke-linejoin="round" stroke-linecap="round" />
<path d="M1008.1,459.2 C1009.5,458.7 1014.4,455.6 1016.2,456.0 C1018.0,456.4 1018.5,460.6 1019.0,461.5" fill="none" stroke="#231f20" stroke-width="1.0" stroke-linejoin="round" stroke-linecap="round" />
<path d="M1011.8,466.8 C1013.2,466.3 1018.1,463.2 1019.9,463.6 C1021.7,464.0 1022.2,468.2 1022.7,469.1" fill="none" stroke="#231f20" stroke-width="1.0" stroke-linejoin="round" stroke-linecap="round" />
<path d="M1015.5,474.5 C1016.9,473.9 1021.8,470.8 1023.6,471.2 C1025.4,471.6 1025.9,475.8 1026.4,476.8" fill="none" stroke="#231f20" stroke-width="1.0" stroke-linejoin="round" stroke-linecap="round" />
<path d="M1019.2,482.1 C1020.6,481.5 1025.5,478.5 1027.3,478.8 C1029.1,479.2 1029.6,483.5 1030.1,484.4" fill="none" stroke="#231f20" stroke-width="1.0" stroke-linejoin="round" stroke-linecap="round" />
<polyline points="1055.5,419.3 1078.6,426.2 1087.8,447.0 1078.6,456.2" fill="none" stroke="#231f20" stroke-width="1.3" stroke-linejoin="round" stroke-linecap="round"/>
<polyline points="1060.1,426.2 1069.3,422.7 1072.8,429.7 1063.6,433.6 1060.1,426.2" fill="none" stroke="#231f20" stroke-width="1.0" stroke-linejoin="round" stroke-linecap="round"/>
<polyline points="1065.9,445.8 1076.3,441.2 1080.9,449.3 1070.5,455.1 1065.9,445.8" fill="none" stroke="#231f20" stroke-width="1.3" stroke-linejoin="round" stroke-linecap="round"/>
<path d="M1069.3,447.0 C1069.9,446.2 1071.3,442.7 1072.8,442.4 C1074.3,442.0 1077.2,444.3 1078.1,444.7" fill="none" stroke="#231f20" stroke-width="1.0" stroke-linejoin="round" stroke-linecap="round" />
<circle cx="1087.8" cy="414.6" r="2.5" fill="none" stroke="#231f20" stroke-width="1.3"/>
<circle cx="1087.8" cy="414.6" r="4.5" fill="none" stroke="#231f20" stroke-width="1.3"/>
<circle cx="1087.8" cy="414.6" r="6.5" fill="none" stroke="#231f20" stroke-width="1.3"/>
<path d="M1091.3,405.4 C1093.0,405.6 1098.8,405.0 1101.7,406.6 C1104.5,408.1 1108.6,411.8 1108.6,414.6 C1108.6,417.5 1104.7,422.5 1101.7,423.9 C1098.6,425.2 1092.0,422.9 1090.1,422.7" fill="none" stroke="#231f20" stroke-width="1.3" stroke-linejoin="round" stroke-linecap="round" />
<polyline points="1078.6,412.3 1087.8,412.3" fill="none" stroke="#231f20" stroke-width="1.3" stroke-linejoin="round" stroke-linecap="round"/>
<polyline points="1078.6,418.1 1087.8,418.1" fill="none" stroke="#231f20" stroke-width="1.3" stroke-linejoin="round" stroke-linecap="round"/>
<polyline points="1097.0,426.2 1097.0,432.0 1115.5,432.0 1115.5,448.1" fill="none" stroke="#231f20" stroke-width="1.3" stroke-linejoin="round" stroke-linecap="round"/>
<polyline points="1083.2,427.3 1091.3,430.8 1087.8,436.6 1080.9,433.6 1083.2,427.3" fill="none" stroke="#231f20" stroke-width="1.0" stroke-linejoin="round" stroke-linecap="round"/>
<polyline points="1108.6,406.6 1117.8,408.9" fill="none" stroke="#231f20" stroke-width="1.0" stroke-linejoin="round" stroke-linecap="round"/>
<polyline points="1108.6,423.9 1117.8,426.2" fill="none" stroke="#231f20" stroke-width="1.0" stroke-linejoin="round" stroke-linecap="round"/>
<polyline points="1097.0,450.4 1097.0,463.1 1101.7,463.1" fill="none" stroke="#231f20" stroke-width="1.3" stroke-linejoin="round" stroke-linecap="round"/>
<polyline points="1101.7,450.4 1110.9,450.4 1113.2,456.2 1105.1,465.5 1101.7,463.1" fill="none" stroke="#231f20" stroke-width="1.3" stroke-linejoin="round" stroke-linecap="round"/>
<polyline points="1105.1,465.5 1117.8,477.0" fill="none" stroke="#231f20" stroke-width="1.0" stroke-linejoin="round" stroke-linecap="round"/>
<polyline points="1112.1,457.4 1124.8,470.1" fill="none" stroke="#231f20" stroke-width="1.0" stroke-linejoin="round" stroke-linecap="round"/>
<path d="M1190.6,458.5 C1190.6,461.6 1191.5,471.3 1190.6,477.0 C1189.7,482.7 1188.5,489.0 1185.3,492.7 C1182.0,496.4 1176.2,498.5 1170.9,498.9 C1165.7,499.4 1158.7,497.8 1153.6,495.5 C1148.5,493.2 1143.4,488.0 1140.5,485.1 C1137.5,482.2 1136.6,479.3 1135.8,478.2" fill="none" stroke="#231f20" stroke-width="1.3" stroke-linejoin="round" stroke-linecap="round" />
<path d="M1203.3,458.5 C1203.3,462.0 1204.4,472.1 1203.3,479.3 C1202.2,486.5 1202.2,496.4 1196.8,501.9 C1191.4,507.5 1178.9,511.5 1170.9,512.8 C1163.0,514.1 1155.0,511.9 1149.0,509.8 C1143.0,507.7 1137.5,501.7 1135.2,500.1" fill="none" stroke="#231f20" stroke-width="1.3" stroke-linejoin="round" stroke-linecap="round" />
<polyline points="1190.6,458.5 1203.3,458.5" fill="none" stroke="#231f20" stroke-width="1.3" stroke-linejoin="round" stroke-linecap="round"/>
<path d="M1065.9,458.5 L1065.9,490.2 A34,34 0 0 0 1133.8,490.2 L1133.8,458.5 L1122.4,458.5 L1122.4,490.2 A21.9,21.9 0 0 1 1078.6,490.2 L1078.6,458.5 Z" fill="#fff" stroke="#231f20" stroke-width="1.3" stroke-linejoin="round" stroke-linecap="round" />
<polyline points="1083.2,505.9 1122.4,505.9" fill="none" stroke="#231f20" stroke-width="1.0" stroke-linejoin="round" stroke-linecap="round"/>
<polyline points="1078.6,509.3 1087.8,509.3" fill="none" stroke="#231f20" stroke-width="1.0" stroke-linejoin="round" stroke-linecap="round"/>
<path d="M1064.7,505.9 C1065.5,507.0 1069.1,510.7 1069.3,512.8 C1069.5,514.9 1066.4,517.6 1065.9,518.6" fill="none" stroke="#231f20" stroke-width="1.0" stroke-linejoin="round" stroke-linecap="round" />
<polyline points="1134.0,510.5 1134.0,520.9 1143.2,518.6" fill="none" stroke="#231f20" stroke-width="1.0" stroke-linejoin="round" stroke-linecap="round"/>
<polyline points="1137.5,511.6 1137.5,519.7" fill="none" stroke="#231f20" stroke-width="1.0" stroke-linejoin="round" stroke-linecap="round"/>
</svg>
</body></html>
